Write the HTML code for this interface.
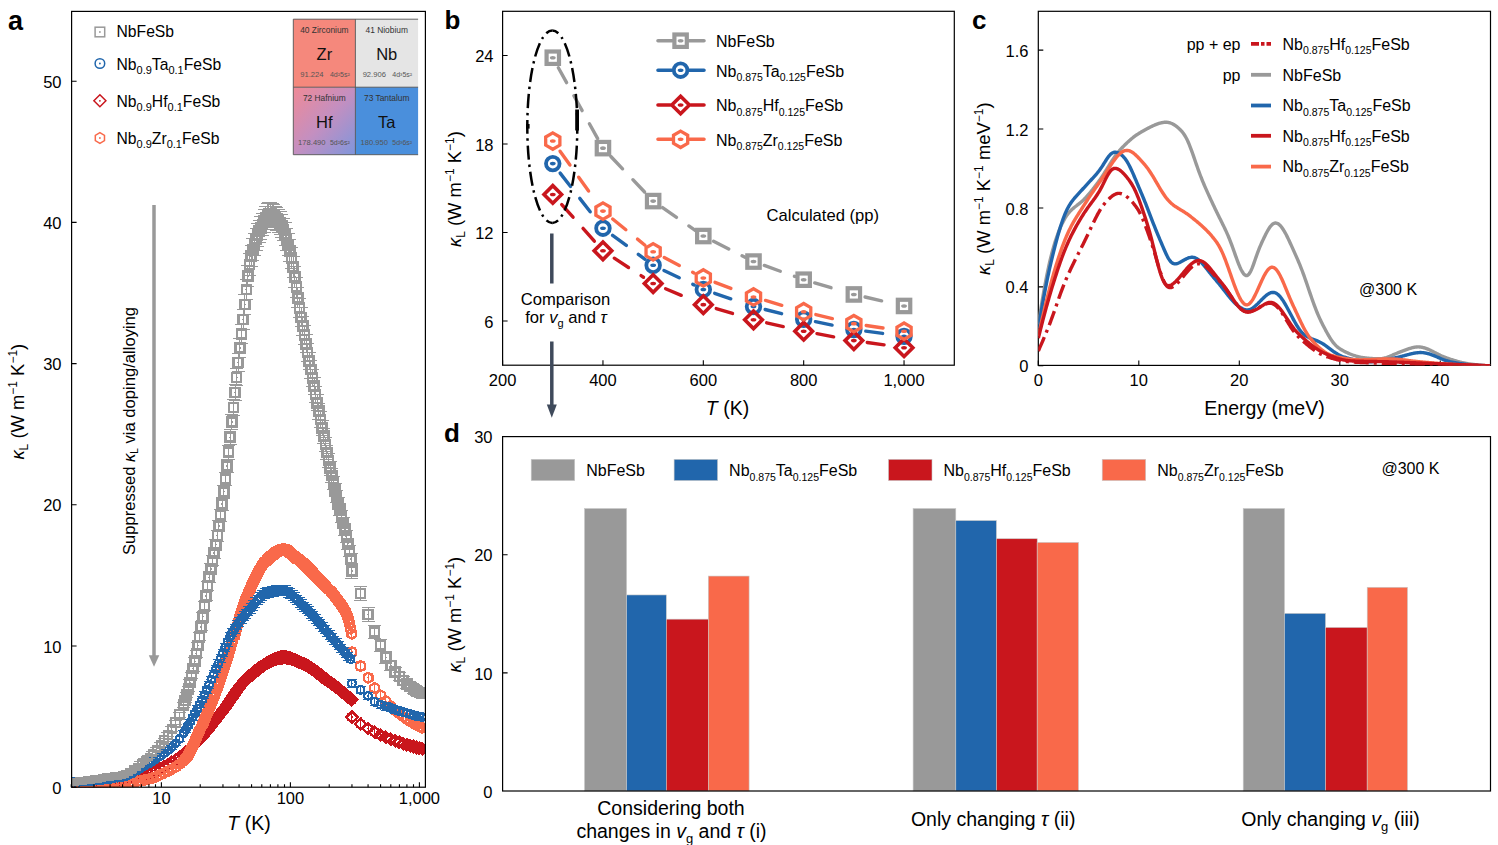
<!DOCTYPE html><html><head><meta charset="utf-8"><style>html,body{margin:0;padding:0;background:#fff;width:1498px;height:845px;overflow:hidden}svg{display:block}</style></head><body><svg width="1498" height="845" viewBox="0 0 1498 845" font-family='"Liberation Sans", sans-serif'>
<rect width="1498" height="845" fill="#fff"/>
<g clip-path="url(#clipA)">
<clipPath id="clipA"><rect x="71.6" y="11.4" width="353.79999999999995" height="775.8000000000001"/></clipPath>
<path d="M71.23 782.1V785.25M66.73 782.1h9M66.73 785.25h9M75.1 782.07V785.22M70.6 782.07h9M70.6 785.22h9M78.97 782V785.16M74.47 782h9M74.47 785.16h9M82.84 781.89V785.05M78.34 781.89h9M78.34 785.05h9M86.71 781.74V784.91M82.21 781.74h9M82.21 784.91h9M90.58 781.55V784.72M86.08 781.55h9M86.08 784.72h9M94.45 781.32V784.5M89.95 781.32h9M89.95 784.5h9M98.32 781.05V784.24M93.82 781.05h9M93.82 784.24h9M102.19 780.74V783.94M97.69 780.74h9M97.69 783.94h9M106.06 780.4V783.62M101.56 780.4h9M101.56 783.62h9M109.93 780.02V783.26M105.43 780.02h9M105.43 783.26h9M113.8 779.61V782.86M109.3 779.61h9M109.3 782.86h9M117.67 779.17V782.44M113.17 779.17h9M113.17 782.44h9M121.54 778.7V781.99M117.04 778.7h9M117.04 781.99h9M125.41 778.2V781.52M120.91 778.2h9M120.91 781.52h9M129.28 777.68V781.01M124.78 777.68h9M124.78 781.01h9M133.15 777.13V780.49M128.65 777.13h9M128.65 780.49h9M137.02 776.42V779.8M132.52 776.42h9M132.52 779.8h9M140.89 775.35V778.78M136.39 775.35h9M136.39 778.78h9M144.76 773.97V777.46M140.26 773.97h9M140.26 777.46h9M148.63 772.36V775.91M144.13 772.36h9M144.13 775.91h9M152.5 770.56V774.19M148 770.56h9M148 774.19h9M156.37 768.65V772.36M151.87 768.65h9M151.87 772.36h9M160.24 766.67V770.46M155.74 766.67h9M155.74 770.46h9M164.11 764.68V768.55M159.61 764.68h9M159.61 768.55h9M167.98 762.52V766.48M163.48 762.52h9M163.48 766.48h9M171.85 760.16V764.23M167.35 760.16h9M167.35 764.23h9M175.72 757.61V761.78M171.22 757.61h9M171.22 761.78h9M179.59 754.87V759.16M175.09 754.87h9M175.09 759.16h9M183.46 751.95V756.35M178.96 751.95h9M178.96 756.35h9M184.49 751.13V755.57M179.99 751.13h9M179.99 755.57h9M185.53 750.31V754.78M181.03 750.31h9M181.03 754.78h9M186.56 749.47V753.98M182.06 749.47h9M182.06 753.98h9M187.59 748.62V753.16M183.09 748.62h9M183.09 753.16h9M188.62 747.75V752.33M184.12 747.75h9M184.12 752.33h9M189.65 746.88V751.49M185.15 746.88h9M185.15 751.49h9M190.69 745.99V750.64M186.19 745.99h9M186.19 750.64h9M191.72 745.08V749.77M187.22 745.08h9M187.22 749.77h9M192.75 744.17V748.9M188.25 744.17h9M188.25 748.9h9M193.78 743.23V748M189.28 743.23h9M189.28 748h9M194.81 742.26V747.07M190.31 742.26h9M190.31 747.07h9M195.85 741.25V746.1M191.35 741.25h9M191.35 746.1h9M196.88 740.21V745.1M192.38 740.21h9M192.38 745.1h9M197.91 739.13V744.06M193.41 739.13h9M193.41 744.06h9M198.94 738.01V743M194.44 738.01h9M194.44 743h9M199.97 736.87V741.9M195.47 736.87h9M195.47 741.9h9M201.01 735.7V740.78M196.51 735.7h9M196.51 740.78h9M202.04 734.5V739.63M197.54 734.5h9M197.54 739.63h9M203.07 733.28V738.46M198.57 733.28h9M198.57 738.46h9M204.1 732.03V737.27M199.6 732.03h9M199.6 737.27h9M205.13 730.77V736.05M200.63 730.77h9M200.63 736.05h9M206.17 729.48V734.82M201.67 729.48h9M201.67 734.82h9M207.2 728.17V733.57M202.7 728.17h9M202.7 733.57h9M208.23 726.85V732.3M203.73 726.85h9M203.73 732.3h9M209.26 725.52V731.02M204.76 725.52h9M204.76 731.02h9M210.29 724.17V729.73M205.79 724.17h9M205.79 729.73h9M211.33 722.81V728.43M206.83 722.81h9M206.83 728.43h9M212.36 721.45V727.12M207.86 721.45h9M207.86 727.12h9M213.39 720.08V725.81M208.89 720.08h9M208.89 725.81h9M214.42 718.7V724.49M209.92 718.7h9M209.92 724.49h9M215.45 717.32V723.16M210.95 717.32h9M210.95 723.16h9M216.49 715.93V721.84M211.99 715.93h9M211.99 721.84h9M217.52 714.55V720.51M213.02 714.55h9M213.02 720.51h9M218.55 713.17V719.19M214.05 713.17h9M214.05 719.19h9M219.58 711.79V717.87M215.08 711.79h9M215.08 717.87h9M220.61 710.42V716.56M216.11 710.42h9M216.11 716.56h9M221.65 709.06V715.25M217.15 709.06h9M217.15 715.25h9M222.68 707.71V713.95M218.18 707.71h9M218.18 713.95h9M223.71 706.36V712.66M219.21 706.36h9M219.21 712.66h9M224.74 705V711.35M220.24 705h9M220.24 711.35h9M225.77 703.58V709.99M221.27 703.58h9M221.27 709.99h9M226.81 702.11V708.59M222.31 702.11h9M222.31 708.59h9M227.84 700.6V707.14M223.34 700.6h9M223.34 707.14h9M228.87 699.06V705.66M224.37 699.06h9M224.37 705.66h9M229.9 697.5V704.17M225.4 697.5h9M225.4 704.17h9M230.93 695.91V702.65M226.43 695.91h9M226.43 702.65h9M231.97 694.32V701.12M227.47 694.32h9M227.47 701.12h9M233 692.73V699.59M228.5 692.73h9M228.5 699.59h9M234.03 691.14V698.07M229.53 691.14h9M229.53 698.07h9M235.06 689.56V696.56M230.56 689.56h9M230.56 696.56h9M236.09 688V695.06M231.59 688h9M231.59 695.06h9M237.13 686.47V693.6M232.63 686.47h9M232.63 693.6h9M238.16 684.97V692.16M233.66 684.97h9M233.66 692.16h9M239.19 683.51V690.76M234.69 683.51h9M234.69 690.76h9M240.22 682.1V689.41M235.72 682.1h9M235.72 689.41h9M241.25 680.75V688.12M236.75 680.75h9M236.75 688.12h9M242.29 679.46V686.88M237.79 679.46h9M237.79 686.88h9M243.32 678.24V685.71M238.82 678.24h9M238.82 685.71h9M244.35 677.1V684.62M239.85 677.1h9M239.85 684.62h9M245.38 676.04V683.61M240.88 676.04h9M240.88 683.61h9M246.41 675.08V682.68M241.91 675.08h9M241.91 682.68h9M247.45 674.2V681.84M242.95 674.2h9M242.95 681.84h9M248.48 673.33V681.01M243.98 673.33h9M243.98 681.01h9M249.51 672.46V680.17M245.01 672.46h9M245.01 680.17h9M250.54 671.59V679.34M246.04 671.59h9M246.04 679.34h9M251.57 670.73V678.51M247.07 670.73h9M247.07 678.51h9M252.61 669.86V677.68M248.11 669.86h9M248.11 677.68h9M253.64 669V676.86M249.14 669h9M249.14 676.86h9M254.67 668.15V676.04M250.17 668.15h9M250.17 676.04h9M255.7 667.3V675.23M251.2 667.3h9M251.2 675.23h9M256.73 666.47V674.43M252.23 666.47h9M252.23 674.43h9M257.77 665.65V673.64M253.27 665.65h9M253.27 673.64h9M258.8 664.83V672.86M254.3 664.83h9M254.3 672.86h9M259.83 664.04V672.1M255.33 664.04h9M255.33 672.1h9M260.86 663.26V671.35M256.36 663.26h9M256.36 671.35h9M261.89 662.49V670.62M257.39 662.49h9M257.39 670.62h9M262.93 661.75V669.9M258.43 661.75h9M258.43 669.9h9M263.96 661.02V669.21M259.46 661.02h9M259.46 669.21h9M264.99 660.32V668.53M260.49 660.32h9M260.49 668.53h9M266.02 659.63V667.88M261.52 659.63h9M261.52 667.88h9M267.05 658.98V667.25M262.55 658.98h9M262.55 667.25h9M268.09 658.35V666.65M263.59 658.35h9M263.59 666.65h9M269.12 657.74V666.07M264.62 657.74h9M264.62 666.07h9M270.15 657.17V665.52M265.65 657.17h9M265.65 665.52h9M271.18 656.63V665M266.68 656.63h9M266.68 665h9M272.21 656.12V664.51M267.71 656.12h9M267.71 664.51h9M273.25 655.64V664.05M268.75 655.64h9M268.75 664.05h9M274.28 655.2V663.63M269.78 655.2h9M269.78 663.63h9M275.31 654.79V663.24M270.81 654.79h9M270.81 663.24h9M276.34 654.42V662.89M271.84 654.42h9M271.84 662.89h9M277.37 654.1V662.57M272.87 654.1h9M272.87 662.57h9M278.41 653.81V662.3M273.91 653.81h9M273.91 662.3h9M279.44 653.57V662.06M274.94 653.57h9M274.94 662.06h9M280.47 653.37V661.87M275.97 653.37h9M275.97 661.87h9M281.5 653.21V661.72M277 653.21h9M277 661.72h9M282.53 653.11V661.62M278.03 653.11h9M278.03 661.62h9M283.57 653.05V661.57M279.07 653.05h9M279.07 661.57h9M284.6 653.04V661.56M280.1 653.04h9M280.1 661.56h9M285.63 653.09V661.61M281.13 653.09h9M281.13 661.61h9M286.66 653.2V661.71M282.16 653.2h9M282.16 661.71h9M287.69 653.36V661.87M283.19 653.36h9M283.19 661.87h9M288.73 653.58V662.08M284.23 653.58h9M284.23 662.08h9M289.76 653.84V662.33M285.26 653.84h9M285.26 662.33h9M290.79 654.14V662.62M286.29 654.14h9M286.29 662.62h9M291.82 654.49V662.95M287.32 654.49h9M287.32 662.95h9M292.85 654.87V663.31M288.35 654.87h9M288.35 663.31h9M293.89 655.28V663.7M289.39 655.28h9M289.39 663.7h9M294.92 655.71V664.12M290.42 655.71h9M290.42 664.12h9M295.95 656.18V664.57M291.45 656.18h9M291.45 664.57h9M296.98 656.66V665.03M292.48 656.66h9M292.48 665.03h9M298.01 657.16V665.51M293.51 657.16h9M293.51 665.51h9M299.05 657.68V666M294.55 657.68h9M294.55 666h9M300.08 658.2V666.5M295.58 658.2h9M295.58 666.5h9M301.11 658.73V667.01M296.61 658.73h9M296.61 667.01h9M302.14 659.26V667.52M297.64 659.26h9M297.64 667.52h9M303.17 659.79V668.03M298.67 659.79h9M298.67 668.03h9M304.21 660.31V668.53M299.71 660.31h9M299.71 668.53h9M305.24 660.83V669.02M300.74 660.83h9M300.74 669.02h9M306.27 661.34V669.51M301.77 661.34h9M301.77 669.51h9M307.3 661.89V670.04M302.8 661.89h9M302.8 670.04h9M308.33 662.47V670.6M303.83 662.47h9M303.83 670.6h9M309.37 663.09V671.19M304.87 663.09h9M304.87 671.19h9M310.4 663.73V671.81M305.9 663.73h9M305.9 671.81h9M311.43 664.4V672.45M306.93 664.4h9M306.93 672.45h9M312.46 665.1V673.12M307.96 665.1h9M307.96 673.12h9M313.49 665.82V673.81M308.99 665.82h9M308.99 673.81h9M314.53 666.56V674.52M310.03 666.56h9M310.03 674.52h9M315.56 667.32V675.25M311.06 667.32h9M311.06 675.25h9M316.59 668.1V675.99M312.09 668.1h9M312.09 675.99h9M317.62 668.89V676.75M313.12 668.89h9M313.12 676.75h9M318.65 669.69V677.52M314.15 669.69h9M314.15 677.52h9M319.69 670.5V678.29M315.19 670.5h9M315.19 678.29h9M320.72 671.32V679.08M316.22 671.32h9M316.22 679.08h9M321.75 672.14V679.87M317.25 672.14h9M317.25 679.87h9M322.78 672.97V680.66M318.28 672.97h9M318.28 680.66h9M323.81 673.8V681.45M319.31 673.8h9M319.31 681.45h9M324.85 674.62V682.25M320.35 674.62h9M320.35 682.25h9M325.88 675.45V683.03M321.38 675.45h9M321.38 683.03h9M326.91 676.26V683.82M322.41 676.26h9M322.41 683.82h9M327.94 677.07V684.59M323.44 677.07h9M323.44 684.59h9M328.97 677.87V685.36M324.47 677.87h9M324.47 685.36h9M330.01 678.66V686.12M325.51 678.66h9M325.51 686.12h9M331.04 679.46V686.88M326.54 679.46h9M326.54 686.88h9M332.07 680.26V687.65M327.57 680.26h9M327.57 687.65h9M333.1 681.07V688.42M328.6 681.07h9M328.6 688.42h9M334.13 681.88V689.2M329.63 681.88h9M329.63 689.2h9M335.17 682.7V689.98M330.67 682.7h9M330.67 689.98h9M336.2 683.52V690.77M331.7 683.52h9M331.7 690.77h9M337.23 684.35V691.56M332.73 684.35h9M332.73 691.56h9M338.26 685.18V692.36M333.76 685.18h9M333.76 692.36h9M339.29 686.01V693.16M334.79 686.01h9M334.79 693.16h9M340.33 686.85V693.97M335.83 686.85h9M335.83 693.97h9M341.36 687.7V694.78M336.86 687.7h9M336.86 694.78h9M342.39 688.55V695.59M337.89 688.55h9M337.89 695.59h9M343.42 689.4V696.41M338.92 689.4h9M338.92 696.41h9M344.45 690.26V697.23M339.95 690.26h9M339.95 697.23h9M345.49 691.12V698.06M340.99 691.12h9M340.99 698.06h9M346.52 691.99V698.89M342.02 691.99h9M342.02 698.89h9M347.55 692.86V699.72M343.05 692.86h9M343.05 699.72h9M348.58 693.74V700.56M344.08 693.74h9M344.08 700.56h9M349.61 694.62V701.41M345.11 694.62h9M345.11 701.41h9M350.65 695.5V702.25M346.15 695.5h9M346.15 702.25h9M351.68 696.39V703.1M347.18 696.39h9M347.18 703.1h9M351.95 713.67V720.66M347.45 713.67h9M347.45 720.66h9M360.58 720.4V727.2M356.08 720.4h9M356.08 727.2h9M368.07 725.2V731.86M363.57 725.2h9M363.57 731.86h9M374.66 728.85V735.41M370.16 728.85h9M370.16 735.41h9M380.57 731.73V738.21M376.07 731.73h9M376.07 738.21h9M385.91 734.09V740.5M381.41 734.09h9M381.41 740.5h9M390.78 736.01V742.37M386.28 736.01h9M386.28 742.37h9M395.27 737.66V743.97M390.77 737.66h9M390.77 743.97h9M399.42 739.13V745.4M394.92 739.13h9M394.92 745.4h9M403.28 740.44V746.68M398.78 740.44h9M398.78 746.68h9M406.9 741.61V747.81M402.4 741.61h9M402.4 747.81h9M410.3 742.65V748.82M405.8 742.65h9M405.8 748.82h9M413.5 743.57V749.72M409 743.57h9M409 749.72h9M416.53 744.39V750.52M412.03 744.39h9M412.03 750.52h9M419.4 745.12V751.22M414.9 745.12h9M414.9 751.22h9M422.13 745.75V751.84M417.63 745.75h9M417.63 751.84h9" stroke="#c9161d" stroke-width="1" fill="none" shape-rendering="crispEdges"/>
<g shape-rendering="crispEdges"><polygon points="71.23,778.07 76.83,783.67 71.23,789.27 65.63,783.67" fill="none" stroke="#c9161d" stroke-width="2.3"/><circle cx="71.23" cy="783.67" r="0.9" fill="#c9161d"/><polygon points="75.1,778.05 80.7,783.65 75.1,789.25 69.5,783.65" fill="none" stroke="#c9161d" stroke-width="2.3"/><circle cx="75.1" cy="783.65" r="0.9" fill="#c9161d"/><polygon points="78.97,777.98 84.57,783.58 78.97,789.18 73.37,783.58" fill="none" stroke="#c9161d" stroke-width="2.3"/><circle cx="78.97" cy="783.58" r="0.9" fill="#c9161d"/><polygon points="82.84,777.87 88.44,783.47 82.84,789.07 77.24,783.47" fill="none" stroke="#c9161d" stroke-width="2.3"/><circle cx="82.84" cy="783.47" r="0.9" fill="#c9161d"/><polygon points="86.71,777.72 92.31,783.32 86.71,788.92 81.11,783.32" fill="none" stroke="#c9161d" stroke-width="2.3"/><circle cx="86.71" cy="783.32" r="0.9" fill="#c9161d"/><polygon points="90.58,777.53 96.18,783.13 90.58,788.73 84.98,783.13" fill="none" stroke="#c9161d" stroke-width="2.3"/><circle cx="90.58" cy="783.13" r="0.9" fill="#c9161d"/><polygon points="94.45,777.31 100.05,782.91 94.45,788.51 88.85,782.91" fill="none" stroke="#c9161d" stroke-width="2.3"/><circle cx="94.45" cy="782.91" r="0.9" fill="#c9161d"/><polygon points="98.32,777.04 103.92,782.64 98.32,788.24 92.72,782.64" fill="none" stroke="#c9161d" stroke-width="2.3"/><circle cx="98.32" cy="782.64" r="0.9" fill="#c9161d"/><polygon points="102.19,776.74 107.79,782.34 102.19,787.94 96.59,782.34" fill="none" stroke="#c9161d" stroke-width="2.3"/><circle cx="102.19" cy="782.34" r="0.9" fill="#c9161d"/><polygon points="106.06,776.41 111.66,782.01 106.06,787.61 100.46,782.01" fill="none" stroke="#c9161d" stroke-width="2.3"/><circle cx="106.06" cy="782.01" r="0.9" fill="#c9161d"/><polygon points="109.93,776.04 115.53,781.64 109.93,787.24 104.33,781.64" fill="none" stroke="#c9161d" stroke-width="2.3"/><circle cx="109.93" cy="781.64" r="0.9" fill="#c9161d"/><polygon points="113.8,775.64 119.4,781.24 113.8,786.84 108.2,781.24" fill="none" stroke="#c9161d" stroke-width="2.3"/><circle cx="113.8" cy="781.24" r="0.9" fill="#c9161d"/><polygon points="117.67,775.21 123.27,780.81 117.67,786.41 112.07,780.81" fill="none" stroke="#c9161d" stroke-width="2.3"/><circle cx="117.67" cy="780.81" r="0.9" fill="#c9161d"/><polygon points="121.54,774.75 127.14,780.35 121.54,785.95 115.94,780.35" fill="none" stroke="#c9161d" stroke-width="2.3"/><circle cx="121.54" cy="780.35" r="0.9" fill="#c9161d"/><polygon points="125.41,774.26 131.01,779.86 125.41,785.46 119.81,779.86" fill="none" stroke="#c9161d" stroke-width="2.3"/><circle cx="125.41" cy="779.86" r="0.9" fill="#c9161d"/><polygon points="129.28,773.75 134.88,779.35 129.28,784.95 123.68,779.35" fill="none" stroke="#c9161d" stroke-width="2.3"/><circle cx="129.28" cy="779.35" r="0.9" fill="#c9161d"/><polygon points="133.15,773.21 138.75,778.81 133.15,784.41 127.55,778.81" fill="none" stroke="#c9161d" stroke-width="2.3"/><circle cx="133.15" cy="778.81" r="0.9" fill="#c9161d"/><polygon points="137.02,772.51 142.62,778.11 137.02,783.71 131.42,778.11" fill="none" stroke="#c9161d" stroke-width="2.3"/><circle cx="137.02" cy="778.11" r="0.9" fill="#c9161d"/><polygon points="140.89,771.46 146.49,777.06 140.89,782.66 135.29,777.06" fill="none" stroke="#c9161d" stroke-width="2.3"/><circle cx="140.89" cy="777.06" r="0.9" fill="#c9161d"/><polygon points="144.76,770.12 150.36,775.72 144.76,781.32 139.16,775.72" fill="none" stroke="#c9161d" stroke-width="2.3"/><circle cx="144.76" cy="775.72" r="0.9" fill="#c9161d"/><polygon points="148.63,768.54 154.23,774.14 148.63,779.74 143.03,774.14" fill="none" stroke="#c9161d" stroke-width="2.3"/><circle cx="148.63" cy="774.14" r="0.9" fill="#c9161d"/><polygon points="152.5,766.78 158.1,772.38 152.5,777.98 146.9,772.38" fill="none" stroke="#c9161d" stroke-width="2.3"/><circle cx="152.5" cy="772.38" r="0.9" fill="#c9161d"/><polygon points="156.37,764.9 161.97,770.5 156.37,776.1 150.77,770.5" fill="none" stroke="#c9161d" stroke-width="2.3"/><circle cx="156.37" cy="770.5" r="0.9" fill="#c9161d"/><polygon points="160.24,762.97 165.84,768.57 160.24,774.17 154.64,768.57" fill="none" stroke="#c9161d" stroke-width="2.3"/><circle cx="160.24" cy="768.57" r="0.9" fill="#c9161d"/><polygon points="164.11,761.01 169.71,766.61 164.11,772.21 158.51,766.61" fill="none" stroke="#c9161d" stroke-width="2.3"/><circle cx="164.11" cy="766.61" r="0.9" fill="#c9161d"/><polygon points="167.98,758.9 173.58,764.5 167.98,770.1 162.38,764.5" fill="none" stroke="#c9161d" stroke-width="2.3"/><circle cx="167.98" cy="764.5" r="0.9" fill="#c9161d"/><polygon points="171.85,756.6 177.45,762.2 171.85,767.8 166.25,762.2" fill="none" stroke="#c9161d" stroke-width="2.3"/><circle cx="171.85" cy="762.2" r="0.9" fill="#c9161d"/><polygon points="175.72,754.1 181.32,759.7 175.72,765.3 170.12,759.7" fill="none" stroke="#c9161d" stroke-width="2.3"/><circle cx="175.72" cy="759.7" r="0.9" fill="#c9161d"/><polygon points="179.59,751.42 185.19,757.02 179.59,762.62 173.99,757.02" fill="none" stroke="#c9161d" stroke-width="2.3"/><circle cx="179.59" cy="757.02" r="0.9" fill="#c9161d"/><polygon points="183.46,748.55 189.06,754.15 183.46,759.75 177.86,754.15" fill="none" stroke="#c9161d" stroke-width="2.3"/><circle cx="183.46" cy="754.15" r="0.9" fill="#c9161d"/><polygon points="184.49,747.75 190.09,753.35 184.49,758.95 178.89,753.35" fill="none" stroke="#c9161d" stroke-width="2.3"/><circle cx="184.49" cy="753.35" r="0.9" fill="#c9161d"/><polygon points="185.53,746.94 191.13,752.54 185.53,758.14 179.93,752.54" fill="none" stroke="#c9161d" stroke-width="2.3"/><circle cx="185.53" cy="752.54" r="0.9" fill="#c9161d"/><polygon points="186.56,746.12 192.16,751.72 186.56,757.32 180.96,751.72" fill="none" stroke="#c9161d" stroke-width="2.3"/><circle cx="186.56" cy="751.72" r="0.9" fill="#c9161d"/><polygon points="187.59,745.29 193.19,750.89 187.59,756.49 181.99,750.89" fill="none" stroke="#c9161d" stroke-width="2.3"/><circle cx="187.59" cy="750.89" r="0.9" fill="#c9161d"/><polygon points="188.62,744.44 194.22,750.04 188.62,755.64 183.02,750.04" fill="none" stroke="#c9161d" stroke-width="2.3"/><circle cx="188.62" cy="750.04" r="0.9" fill="#c9161d"/><polygon points="189.65,743.58 195.25,749.18 189.65,754.78 184.05,749.18" fill="none" stroke="#c9161d" stroke-width="2.3"/><circle cx="189.65" cy="749.18" r="0.9" fill="#c9161d"/><polygon points="190.69,742.71 196.29,748.31 190.69,753.91 185.09,748.31" fill="none" stroke="#c9161d" stroke-width="2.3"/><circle cx="190.69" cy="748.31" r="0.9" fill="#c9161d"/><polygon points="191.72,741.83 197.32,747.43 191.72,753.03 186.12,747.43" fill="none" stroke="#c9161d" stroke-width="2.3"/><circle cx="191.72" cy="747.43" r="0.9" fill="#c9161d"/><polygon points="192.75,740.93 198.35,746.53 192.75,752.13 187.15,746.53" fill="none" stroke="#c9161d" stroke-width="2.3"/><circle cx="192.75" cy="746.53" r="0.9" fill="#c9161d"/><polygon points="193.78,740.02 199.38,745.62 193.78,751.22 188.18,745.62" fill="none" stroke="#c9161d" stroke-width="2.3"/><circle cx="193.78" cy="745.62" r="0.9" fill="#c9161d"/><polygon points="194.81,739.07 200.41,744.67 194.81,750.27 189.21,744.67" fill="none" stroke="#c9161d" stroke-width="2.3"/><circle cx="194.81" cy="744.67" r="0.9" fill="#c9161d"/><polygon points="195.85,738.08 201.45,743.68 195.85,749.28 190.25,743.68" fill="none" stroke="#c9161d" stroke-width="2.3"/><circle cx="195.85" cy="743.68" r="0.9" fill="#c9161d"/><polygon points="196.88,737.05 202.48,742.65 196.88,748.25 191.28,742.65" fill="none" stroke="#c9161d" stroke-width="2.3"/><circle cx="196.88" cy="742.65" r="0.9" fill="#c9161d"/><polygon points="197.91,735.99 203.51,741.59 197.91,747.19 192.31,741.59" fill="none" stroke="#c9161d" stroke-width="2.3"/><circle cx="197.91" cy="741.59" r="0.9" fill="#c9161d"/><polygon points="198.94,734.91 204.54,740.51 198.94,746.11 193.34,740.51" fill="none" stroke="#c9161d" stroke-width="2.3"/><circle cx="198.94" cy="740.51" r="0.9" fill="#c9161d"/><polygon points="199.97,733.79 205.57,739.39 199.97,744.99 194.37,739.39" fill="none" stroke="#c9161d" stroke-width="2.3"/><circle cx="199.97" cy="739.39" r="0.9" fill="#c9161d"/><polygon points="201.01,732.64 206.61,738.24 201.01,743.84 195.41,738.24" fill="none" stroke="#c9161d" stroke-width="2.3"/><circle cx="201.01" cy="738.24" r="0.9" fill="#c9161d"/><polygon points="202.04,731.47 207.64,737.07 202.04,742.67 196.44,737.07" fill="none" stroke="#c9161d" stroke-width="2.3"/><circle cx="202.04" cy="737.07" r="0.9" fill="#c9161d"/><polygon points="203.07,730.27 208.67,735.87 203.07,741.47 197.47,735.87" fill="none" stroke="#c9161d" stroke-width="2.3"/><circle cx="203.07" cy="735.87" r="0.9" fill="#c9161d"/><polygon points="204.1,729.05 209.7,734.65 204.1,740.25 198.5,734.65" fill="none" stroke="#c9161d" stroke-width="2.3"/><circle cx="204.1" cy="734.65" r="0.9" fill="#c9161d"/><polygon points="205.13,727.81 210.73,733.41 205.13,739.01 199.53,733.41" fill="none" stroke="#c9161d" stroke-width="2.3"/><circle cx="205.13" cy="733.41" r="0.9" fill="#c9161d"/><polygon points="206.17,726.55 211.77,732.15 206.17,737.75 200.57,732.15" fill="none" stroke="#c9161d" stroke-width="2.3"/><circle cx="206.17" cy="732.15" r="0.9" fill="#c9161d"/><polygon points="207.2,725.27 212.8,730.87 207.2,736.47 201.6,730.87" fill="none" stroke="#c9161d" stroke-width="2.3"/><circle cx="207.2" cy="730.87" r="0.9" fill="#c9161d"/><polygon points="208.23,723.98 213.83,729.58 208.23,735.18 202.63,729.58" fill="none" stroke="#c9161d" stroke-width="2.3"/><circle cx="208.23" cy="729.58" r="0.9" fill="#c9161d"/><polygon points="209.26,722.67 214.86,728.27 209.26,733.87 203.66,728.27" fill="none" stroke="#c9161d" stroke-width="2.3"/><circle cx="209.26" cy="728.27" r="0.9" fill="#c9161d"/><polygon points="210.29,721.35 215.89,726.95 210.29,732.55 204.69,726.95" fill="none" stroke="#c9161d" stroke-width="2.3"/><circle cx="210.29" cy="726.95" r="0.9" fill="#c9161d"/><polygon points="211.33,720.02 216.93,725.62 211.33,731.22 205.73,725.62" fill="none" stroke="#c9161d" stroke-width="2.3"/><circle cx="211.33" cy="725.62" r="0.9" fill="#c9161d"/><polygon points="212.36,718.68 217.96,724.28 212.36,729.88 206.76,724.28" fill="none" stroke="#c9161d" stroke-width="2.3"/><circle cx="212.36" cy="724.28" r="0.9" fill="#c9161d"/><polygon points="213.39,717.34 218.99,722.94 213.39,728.54 207.79,722.94" fill="none" stroke="#c9161d" stroke-width="2.3"/><circle cx="213.39" cy="722.94" r="0.9" fill="#c9161d"/><polygon points="214.42,715.99 220.02,721.59 214.42,727.19 208.82,721.59" fill="none" stroke="#c9161d" stroke-width="2.3"/><circle cx="214.42" cy="721.59" r="0.9" fill="#c9161d"/><polygon points="215.45,714.64 221.05,720.24 215.45,725.84 209.85,720.24" fill="none" stroke="#c9161d" stroke-width="2.3"/><circle cx="215.45" cy="720.24" r="0.9" fill="#c9161d"/><polygon points="216.49,713.28 222.09,718.88 216.49,724.48 210.89,718.88" fill="none" stroke="#c9161d" stroke-width="2.3"/><circle cx="216.49" cy="718.88" r="0.9" fill="#c9161d"/><polygon points="217.52,711.93 223.12,717.53 217.52,723.13 211.92,717.53" fill="none" stroke="#c9161d" stroke-width="2.3"/><circle cx="217.52" cy="717.53" r="0.9" fill="#c9161d"/><polygon points="218.55,710.58 224.15,716.18 218.55,721.78 212.95,716.18" fill="none" stroke="#c9161d" stroke-width="2.3"/><circle cx="218.55" cy="716.18" r="0.9" fill="#c9161d"/><polygon points="219.58,709.23 225.18,714.83 219.58,720.43 213.98,714.83" fill="none" stroke="#c9161d" stroke-width="2.3"/><circle cx="219.58" cy="714.83" r="0.9" fill="#c9161d"/><polygon points="220.61,707.89 226.21,713.49 220.61,719.09 215.01,713.49" fill="none" stroke="#c9161d" stroke-width="2.3"/><circle cx="220.61" cy="713.49" r="0.9" fill="#c9161d"/><polygon points="221.65,706.55 227.25,712.15 221.65,717.75 216.05,712.15" fill="none" stroke="#c9161d" stroke-width="2.3"/><circle cx="221.65" cy="712.15" r="0.9" fill="#c9161d"/><polygon points="222.68,705.23 228.28,710.83 222.68,716.43 217.08,710.83" fill="none" stroke="#c9161d" stroke-width="2.3"/><circle cx="222.68" cy="710.83" r="0.9" fill="#c9161d"/><polygon points="223.71,703.91 229.31,709.51 223.71,715.11 218.11,709.51" fill="none" stroke="#c9161d" stroke-width="2.3"/><circle cx="223.71" cy="709.51" r="0.9" fill="#c9161d"/><polygon points="224.74,702.58 230.34,708.18 224.74,713.78 219.14,708.18" fill="none" stroke="#c9161d" stroke-width="2.3"/><circle cx="224.74" cy="708.18" r="0.9" fill="#c9161d"/><polygon points="225.77,701.18 231.37,706.78 225.77,712.38 220.17,706.78" fill="none" stroke="#c9161d" stroke-width="2.3"/><circle cx="225.77" cy="706.78" r="0.9" fill="#c9161d"/><polygon points="226.81,699.75 232.41,705.35 226.81,710.95 221.21,705.35" fill="none" stroke="#c9161d" stroke-width="2.3"/><circle cx="226.81" cy="705.35" r="0.9" fill="#c9161d"/><polygon points="227.84,698.27 233.44,703.87 227.84,709.47 222.24,703.87" fill="none" stroke="#c9161d" stroke-width="2.3"/><circle cx="227.84" cy="703.87" r="0.9" fill="#c9161d"/><polygon points="228.87,696.76 234.47,702.36 228.87,707.96 223.27,702.36" fill="none" stroke="#c9161d" stroke-width="2.3"/><circle cx="228.87" cy="702.36" r="0.9" fill="#c9161d"/><polygon points="229.9,695.23 235.5,700.83 229.9,706.43 224.3,700.83" fill="none" stroke="#c9161d" stroke-width="2.3"/><circle cx="229.9" cy="700.83" r="0.9" fill="#c9161d"/><polygon points="230.93,693.68 236.53,699.28 230.93,704.88 225.33,699.28" fill="none" stroke="#c9161d" stroke-width="2.3"/><circle cx="230.93" cy="699.28" r="0.9" fill="#c9161d"/><polygon points="231.97,692.12 237.57,697.72 231.97,703.32 226.37,697.72" fill="none" stroke="#c9161d" stroke-width="2.3"/><circle cx="231.97" cy="697.72" r="0.9" fill="#c9161d"/><polygon points="233,690.56 238.6,696.16 233,701.76 227.4,696.16" fill="none" stroke="#c9161d" stroke-width="2.3"/><circle cx="233" cy="696.16" r="0.9" fill="#c9161d"/><polygon points="234.03,689 239.63,694.6 234.03,700.2 228.43,694.6" fill="none" stroke="#c9161d" stroke-width="2.3"/><circle cx="234.03" cy="694.6" r="0.9" fill="#c9161d"/><polygon points="235.06,687.46 240.66,693.06 235.06,698.66 229.46,693.06" fill="none" stroke="#c9161d" stroke-width="2.3"/><circle cx="235.06" cy="693.06" r="0.9" fill="#c9161d"/><polygon points="236.09,685.93 241.69,691.53 236.09,697.13 230.49,691.53" fill="none" stroke="#c9161d" stroke-width="2.3"/><circle cx="236.09" cy="691.53" r="0.9" fill="#c9161d"/><polygon points="237.13,684.43 242.73,690.03 237.13,695.63 231.53,690.03" fill="none" stroke="#c9161d" stroke-width="2.3"/><circle cx="237.13" cy="690.03" r="0.9" fill="#c9161d"/><polygon points="238.16,682.96 243.76,688.56 238.16,694.16 232.56,688.56" fill="none" stroke="#c9161d" stroke-width="2.3"/><circle cx="238.16" cy="688.56" r="0.9" fill="#c9161d"/><polygon points="239.19,681.54 244.79,687.14 239.19,692.74 233.59,687.14" fill="none" stroke="#c9161d" stroke-width="2.3"/><circle cx="239.19" cy="687.14" r="0.9" fill="#c9161d"/><polygon points="240.22,680.16 245.82,685.76 240.22,691.36 234.62,685.76" fill="none" stroke="#c9161d" stroke-width="2.3"/><circle cx="240.22" cy="685.76" r="0.9" fill="#c9161d"/><polygon points="241.25,678.83 246.85,684.43 241.25,690.03 235.65,684.43" fill="none" stroke="#c9161d" stroke-width="2.3"/><circle cx="241.25" cy="684.43" r="0.9" fill="#c9161d"/><polygon points="242.29,677.57 247.89,683.17 242.29,688.77 236.69,683.17" fill="none" stroke="#c9161d" stroke-width="2.3"/><circle cx="242.29" cy="683.17" r="0.9" fill="#c9161d"/><polygon points="243.32,676.38 248.92,681.98 243.32,687.58 237.72,681.98" fill="none" stroke="#c9161d" stroke-width="2.3"/><circle cx="243.32" cy="681.98" r="0.9" fill="#c9161d"/><polygon points="244.35,675.26 249.95,680.86 244.35,686.46 238.75,680.86" fill="none" stroke="#c9161d" stroke-width="2.3"/><circle cx="244.35" cy="680.86" r="0.9" fill="#c9161d"/><polygon points="245.38,674.23 250.98,679.83 245.38,685.43 239.78,679.83" fill="none" stroke="#c9161d" stroke-width="2.3"/><circle cx="245.38" cy="679.83" r="0.9" fill="#c9161d"/><polygon points="246.41,673.28 252.01,678.88 246.41,684.48 240.81,678.88" fill="none" stroke="#c9161d" stroke-width="2.3"/><circle cx="246.41" cy="678.88" r="0.9" fill="#c9161d"/><polygon points="247.45,672.42 253.05,678.02 247.45,683.62 241.85,678.02" fill="none" stroke="#c9161d" stroke-width="2.3"/><circle cx="247.45" cy="678.02" r="0.9" fill="#c9161d"/><polygon points="248.48,671.57 254.08,677.17 248.48,682.77 242.88,677.17" fill="none" stroke="#c9161d" stroke-width="2.3"/><circle cx="248.48" cy="677.17" r="0.9" fill="#c9161d"/><polygon points="249.51,670.72 255.11,676.32 249.51,681.92 243.91,676.32" fill="none" stroke="#c9161d" stroke-width="2.3"/><circle cx="249.51" cy="676.32" r="0.9" fill="#c9161d"/><polygon points="250.54,669.87 256.14,675.47 250.54,681.07 244.94,675.47" fill="none" stroke="#c9161d" stroke-width="2.3"/><circle cx="250.54" cy="675.47" r="0.9" fill="#c9161d"/><polygon points="251.57,669.02 257.17,674.62 251.57,680.22 245.97,674.62" fill="none" stroke="#c9161d" stroke-width="2.3"/><circle cx="251.57" cy="674.62" r="0.9" fill="#c9161d"/><polygon points="252.61,668.17 258.21,673.77 252.61,679.37 247.01,673.77" fill="none" stroke="#c9161d" stroke-width="2.3"/><circle cx="252.61" cy="673.77" r="0.9" fill="#c9161d"/><polygon points="253.64,667.33 259.24,672.93 253.64,678.53 248.04,672.93" fill="none" stroke="#c9161d" stroke-width="2.3"/><circle cx="253.64" cy="672.93" r="0.9" fill="#c9161d"/><polygon points="254.67,666.49 260.27,672.09 254.67,677.69 249.07,672.09" fill="none" stroke="#c9161d" stroke-width="2.3"/><circle cx="254.67" cy="672.09" r="0.9" fill="#c9161d"/><polygon points="255.7,665.67 261.3,671.27 255.7,676.87 250.1,671.27" fill="none" stroke="#c9161d" stroke-width="2.3"/><circle cx="255.7" cy="671.27" r="0.9" fill="#c9161d"/><polygon points="256.73,664.85 262.33,670.45 256.73,676.05 251.13,670.45" fill="none" stroke="#c9161d" stroke-width="2.3"/><circle cx="256.73" cy="670.45" r="0.9" fill="#c9161d"/><polygon points="257.77,664.04 263.37,669.64 257.77,675.24 252.17,669.64" fill="none" stroke="#c9161d" stroke-width="2.3"/><circle cx="257.77" cy="669.64" r="0.9" fill="#c9161d"/><polygon points="258.8,663.25 264.4,668.85 258.8,674.45 253.2,668.85" fill="none" stroke="#c9161d" stroke-width="2.3"/><circle cx="258.8" cy="668.85" r="0.9" fill="#c9161d"/><polygon points="259.83,662.47 265.43,668.07 259.83,673.67 254.23,668.07" fill="none" stroke="#c9161d" stroke-width="2.3"/><circle cx="259.83" cy="668.07" r="0.9" fill="#c9161d"/><polygon points="260.86,661.7 266.46,667.3 260.86,672.9 255.26,667.3" fill="none" stroke="#c9161d" stroke-width="2.3"/><circle cx="260.86" cy="667.3" r="0.9" fill="#c9161d"/><polygon points="261.89,660.95 267.49,666.55 261.89,672.15 256.29,666.55" fill="none" stroke="#c9161d" stroke-width="2.3"/><circle cx="261.89" cy="666.55" r="0.9" fill="#c9161d"/><polygon points="262.93,660.22 268.53,665.82 262.93,671.42 257.33,665.82" fill="none" stroke="#c9161d" stroke-width="2.3"/><circle cx="262.93" cy="665.82" r="0.9" fill="#c9161d"/><polygon points="263.96,659.51 269.56,665.11 263.96,670.71 258.36,665.11" fill="none" stroke="#c9161d" stroke-width="2.3"/><circle cx="263.96" cy="665.11" r="0.9" fill="#c9161d"/><polygon points="264.99,658.82 270.59,664.42 264.99,670.02 259.39,664.42" fill="none" stroke="#c9161d" stroke-width="2.3"/><circle cx="264.99" cy="664.42" r="0.9" fill="#c9161d"/><polygon points="266.02,658.16 271.62,663.76 266.02,669.36 260.42,663.76" fill="none" stroke="#c9161d" stroke-width="2.3"/><circle cx="266.02" cy="663.76" r="0.9" fill="#c9161d"/><polygon points="267.05,657.51 272.65,663.11 267.05,668.71 261.45,663.11" fill="none" stroke="#c9161d" stroke-width="2.3"/><circle cx="267.05" cy="663.11" r="0.9" fill="#c9161d"/><polygon points="268.09,656.9 273.69,662.5 268.09,668.1 262.49,662.5" fill="none" stroke="#c9161d" stroke-width="2.3"/><circle cx="268.09" cy="662.5" r="0.9" fill="#c9161d"/><polygon points="269.12,656.31 274.72,661.91 269.12,667.51 263.52,661.91" fill="none" stroke="#c9161d" stroke-width="2.3"/><circle cx="269.12" cy="661.91" r="0.9" fill="#c9161d"/><polygon points="270.15,655.74 275.75,661.34 270.15,666.94 264.55,661.34" fill="none" stroke="#c9161d" stroke-width="2.3"/><circle cx="270.15" cy="661.34" r="0.9" fill="#c9161d"/><polygon points="271.18,655.21 276.78,660.81 271.18,666.41 265.58,660.81" fill="none" stroke="#c9161d" stroke-width="2.3"/><circle cx="271.18" cy="660.81" r="0.9" fill="#c9161d"/><polygon points="272.21,654.71 277.81,660.31 272.21,665.91 266.61,660.31" fill="none" stroke="#c9161d" stroke-width="2.3"/><circle cx="272.21" cy="660.31" r="0.9" fill="#c9161d"/><polygon points="273.25,654.25 278.85,659.85 273.25,665.45 267.65,659.85" fill="none" stroke="#c9161d" stroke-width="2.3"/><circle cx="273.25" cy="659.85" r="0.9" fill="#c9161d"/><polygon points="274.28,653.81 279.88,659.41 274.28,665.01 268.68,659.41" fill="none" stroke="#c9161d" stroke-width="2.3"/><circle cx="274.28" cy="659.41" r="0.9" fill="#c9161d"/><polygon points="275.31,653.42 280.91,659.02 275.31,664.62 269.71,659.02" fill="none" stroke="#c9161d" stroke-width="2.3"/><circle cx="275.31" cy="659.02" r="0.9" fill="#c9161d"/><polygon points="276.34,653.06 281.94,658.66 276.34,664.26 270.74,658.66" fill="none" stroke="#c9161d" stroke-width="2.3"/><circle cx="276.34" cy="658.66" r="0.9" fill="#c9161d"/><polygon points="277.37,652.73 282.97,658.33 277.37,663.93 271.77,658.33" fill="none" stroke="#c9161d" stroke-width="2.3"/><circle cx="277.37" cy="658.33" r="0.9" fill="#c9161d"/><polygon points="278.41,652.45 284.01,658.05 278.41,663.65 272.81,658.05" fill="none" stroke="#c9161d" stroke-width="2.3"/><circle cx="278.41" cy="658.05" r="0.9" fill="#c9161d"/><polygon points="279.44,652.22 285.04,657.82 279.44,663.42 273.84,657.82" fill="none" stroke="#c9161d" stroke-width="2.3"/><circle cx="279.44" cy="657.82" r="0.9" fill="#c9161d"/><polygon points="280.47,652.02 286.07,657.62 280.47,663.22 274.87,657.62" fill="none" stroke="#c9161d" stroke-width="2.3"/><circle cx="280.47" cy="657.62" r="0.9" fill="#c9161d"/><polygon points="281.5,651.87 287.1,657.47 281.5,663.07 275.9,657.47" fill="none" stroke="#c9161d" stroke-width="2.3"/><circle cx="281.5" cy="657.47" r="0.9" fill="#c9161d"/><polygon points="282.53,651.76 288.13,657.36 282.53,662.96 276.93,657.36" fill="none" stroke="#c9161d" stroke-width="2.3"/><circle cx="282.53" cy="657.36" r="0.9" fill="#c9161d"/><polygon points="283.57,651.71 289.17,657.31 283.57,662.91 277.97,657.31" fill="none" stroke="#c9161d" stroke-width="2.3"/><circle cx="283.57" cy="657.31" r="0.9" fill="#c9161d"/><polygon points="284.6,651.7 290.2,657.3 284.6,662.9 279,657.3" fill="none" stroke="#c9161d" stroke-width="2.3"/><circle cx="284.6" cy="657.3" r="0.9" fill="#c9161d"/><polygon points="285.63,651.75 291.23,657.35 285.63,662.95 280.03,657.35" fill="none" stroke="#c9161d" stroke-width="2.3"/><circle cx="285.63" cy="657.35" r="0.9" fill="#c9161d"/><polygon points="286.66,651.86 292.26,657.46 286.66,663.06 281.06,657.46" fill="none" stroke="#c9161d" stroke-width="2.3"/><circle cx="286.66" cy="657.46" r="0.9" fill="#c9161d"/><polygon points="287.69,652.02 293.29,657.62 287.69,663.22 282.09,657.62" fill="none" stroke="#c9161d" stroke-width="2.3"/><circle cx="287.69" cy="657.62" r="0.9" fill="#c9161d"/><polygon points="288.73,652.23 294.33,657.83 288.73,663.43 283.13,657.83" fill="none" stroke="#c9161d" stroke-width="2.3"/><circle cx="288.73" cy="657.83" r="0.9" fill="#c9161d"/><polygon points="289.76,652.48 295.36,658.08 289.76,663.68 284.16,658.08" fill="none" stroke="#c9161d" stroke-width="2.3"/><circle cx="289.76" cy="658.08" r="0.9" fill="#c9161d"/><polygon points="290.79,652.78 296.39,658.38 290.79,663.98 285.19,658.38" fill="none" stroke="#c9161d" stroke-width="2.3"/><circle cx="290.79" cy="658.38" r="0.9" fill="#c9161d"/><polygon points="291.82,653.12 297.42,658.72 291.82,664.32 286.22,658.72" fill="none" stroke="#c9161d" stroke-width="2.3"/><circle cx="291.82" cy="658.72" r="0.9" fill="#c9161d"/><polygon points="292.85,653.49 298.45,659.09 292.85,664.69 287.25,659.09" fill="none" stroke="#c9161d" stroke-width="2.3"/><circle cx="292.85" cy="659.09" r="0.9" fill="#c9161d"/><polygon points="293.89,653.89 299.49,659.49 293.89,665.09 288.29,659.49" fill="none" stroke="#c9161d" stroke-width="2.3"/><circle cx="293.89" cy="659.49" r="0.9" fill="#c9161d"/><polygon points="294.92,654.32 300.52,659.92 294.92,665.52 289.32,659.92" fill="none" stroke="#c9161d" stroke-width="2.3"/><circle cx="294.92" cy="659.92" r="0.9" fill="#c9161d"/><polygon points="295.95,654.77 301.55,660.37 295.95,665.97 290.35,660.37" fill="none" stroke="#c9161d" stroke-width="2.3"/><circle cx="295.95" cy="660.37" r="0.9" fill="#c9161d"/><polygon points="296.98,655.25 302.58,660.85 296.98,666.45 291.38,660.85" fill="none" stroke="#c9161d" stroke-width="2.3"/><circle cx="296.98" cy="660.85" r="0.9" fill="#c9161d"/><polygon points="298.01,655.74 303.61,661.34 298.01,666.94 292.41,661.34" fill="none" stroke="#c9161d" stroke-width="2.3"/><circle cx="298.01" cy="661.34" r="0.9" fill="#c9161d"/><polygon points="299.05,656.24 304.65,661.84 299.05,667.44 293.45,661.84" fill="none" stroke="#c9161d" stroke-width="2.3"/><circle cx="299.05" cy="661.84" r="0.9" fill="#c9161d"/><polygon points="300.08,656.75 305.68,662.35 300.08,667.95 294.48,662.35" fill="none" stroke="#c9161d" stroke-width="2.3"/><circle cx="300.08" cy="662.35" r="0.9" fill="#c9161d"/><polygon points="301.11,657.27 306.71,662.87 301.11,668.47 295.51,662.87" fill="none" stroke="#c9161d" stroke-width="2.3"/><circle cx="301.11" cy="662.87" r="0.9" fill="#c9161d"/><polygon points="302.14,657.79 307.74,663.39 302.14,668.99 296.54,663.39" fill="none" stroke="#c9161d" stroke-width="2.3"/><circle cx="302.14" cy="663.39" r="0.9" fill="#c9161d"/><polygon points="303.17,658.31 308.77,663.91 303.17,669.51 297.57,663.91" fill="none" stroke="#c9161d" stroke-width="2.3"/><circle cx="303.17" cy="663.91" r="0.9" fill="#c9161d"/><polygon points="304.21,658.82 309.81,664.42 304.21,670.02 298.61,664.42" fill="none" stroke="#c9161d" stroke-width="2.3"/><circle cx="304.21" cy="664.42" r="0.9" fill="#c9161d"/><polygon points="305.24,659.32 310.84,664.92 305.24,670.52 299.64,664.92" fill="none" stroke="#c9161d" stroke-width="2.3"/><circle cx="305.24" cy="664.92" r="0.9" fill="#c9161d"/><polygon points="306.27,659.83 311.87,665.43 306.27,671.03 300.67,665.43" fill="none" stroke="#c9161d" stroke-width="2.3"/><circle cx="306.27" cy="665.43" r="0.9" fill="#c9161d"/><polygon points="307.3,660.36 312.9,665.96 307.3,671.56 301.7,665.96" fill="none" stroke="#c9161d" stroke-width="2.3"/><circle cx="307.3" cy="665.96" r="0.9" fill="#c9161d"/><polygon points="308.33,660.94 313.93,666.54 308.33,672.14 302.73,666.54" fill="none" stroke="#c9161d" stroke-width="2.3"/><circle cx="308.33" cy="666.54" r="0.9" fill="#c9161d"/><polygon points="309.37,661.54 314.97,667.14 309.37,672.74 303.77,667.14" fill="none" stroke="#c9161d" stroke-width="2.3"/><circle cx="309.37" cy="667.14" r="0.9" fill="#c9161d"/><polygon points="310.4,662.17 316,667.77 310.4,673.37 304.8,667.77" fill="none" stroke="#c9161d" stroke-width="2.3"/><circle cx="310.4" cy="667.77" r="0.9" fill="#c9161d"/><polygon points="311.43,662.83 317.03,668.43 311.43,674.03 305.83,668.43" fill="none" stroke="#c9161d" stroke-width="2.3"/><circle cx="311.43" cy="668.43" r="0.9" fill="#c9161d"/><polygon points="312.46,663.51 318.06,669.11 312.46,674.71 306.86,669.11" fill="none" stroke="#c9161d" stroke-width="2.3"/><circle cx="312.46" cy="669.11" r="0.9" fill="#c9161d"/><polygon points="313.49,664.21 319.09,669.81 313.49,675.41 307.89,669.81" fill="none" stroke="#c9161d" stroke-width="2.3"/><circle cx="313.49" cy="669.81" r="0.9" fill="#c9161d"/><polygon points="314.53,664.94 320.13,670.54 314.53,676.14 308.93,670.54" fill="none" stroke="#c9161d" stroke-width="2.3"/><circle cx="314.53" cy="670.54" r="0.9" fill="#c9161d"/><polygon points="315.56,665.68 321.16,671.28 315.56,676.88 309.96,671.28" fill="none" stroke="#c9161d" stroke-width="2.3"/><circle cx="315.56" cy="671.28" r="0.9" fill="#c9161d"/><polygon points="316.59,666.44 322.19,672.04 316.59,677.64 310.99,672.04" fill="none" stroke="#c9161d" stroke-width="2.3"/><circle cx="316.59" cy="672.04" r="0.9" fill="#c9161d"/><polygon points="317.62,667.22 323.22,672.82 317.62,678.42 312.02,672.82" fill="none" stroke="#c9161d" stroke-width="2.3"/><circle cx="317.62" cy="672.82" r="0.9" fill="#c9161d"/><polygon points="318.65,668 324.25,673.6 318.65,679.2 313.05,673.6" fill="none" stroke="#c9161d" stroke-width="2.3"/><circle cx="318.65" cy="673.6" r="0.9" fill="#c9161d"/><polygon points="319.69,668.8 325.29,674.4 319.69,680 314.09,674.4" fill="none" stroke="#c9161d" stroke-width="2.3"/><circle cx="319.69" cy="674.4" r="0.9" fill="#c9161d"/><polygon points="320.72,669.6 326.32,675.2 320.72,680.8 315.12,675.2" fill="none" stroke="#c9161d" stroke-width="2.3"/><circle cx="320.72" cy="675.2" r="0.9" fill="#c9161d"/><polygon points="321.75,670.41 327.35,676.01 321.75,681.61 316.15,676.01" fill="none" stroke="#c9161d" stroke-width="2.3"/><circle cx="321.75" cy="676.01" r="0.9" fill="#c9161d"/><polygon points="322.78,671.22 328.38,676.82 322.78,682.42 317.18,676.82" fill="none" stroke="#c9161d" stroke-width="2.3"/><circle cx="322.78" cy="676.82" r="0.9" fill="#c9161d"/><polygon points="323.81,672.03 329.41,677.63 323.81,683.23 318.21,677.63" fill="none" stroke="#c9161d" stroke-width="2.3"/><circle cx="323.81" cy="677.63" r="0.9" fill="#c9161d"/><polygon points="324.85,672.84 330.45,678.44 324.85,684.04 319.25,678.44" fill="none" stroke="#c9161d" stroke-width="2.3"/><circle cx="324.85" cy="678.44" r="0.9" fill="#c9161d"/><polygon points="325.88,673.64 331.48,679.24 325.88,684.84 320.28,679.24" fill="none" stroke="#c9161d" stroke-width="2.3"/><circle cx="325.88" cy="679.24" r="0.9" fill="#c9161d"/><polygon points="326.91,674.44 332.51,680.04 326.91,685.64 321.31,680.04" fill="none" stroke="#c9161d" stroke-width="2.3"/><circle cx="326.91" cy="680.04" r="0.9" fill="#c9161d"/><polygon points="327.94,675.23 333.54,680.83 327.94,686.43 322.34,680.83" fill="none" stroke="#c9161d" stroke-width="2.3"/><circle cx="327.94" cy="680.83" r="0.9" fill="#c9161d"/><polygon points="328.97,676.01 334.57,681.61 328.97,687.21 323.37,681.61" fill="none" stroke="#c9161d" stroke-width="2.3"/><circle cx="328.97" cy="681.61" r="0.9" fill="#c9161d"/><polygon points="330.01,676.79 335.61,682.39 330.01,687.99 324.41,682.39" fill="none" stroke="#c9161d" stroke-width="2.3"/><circle cx="330.01" cy="682.39" r="0.9" fill="#c9161d"/><polygon points="331.04,677.57 336.64,683.17 331.04,688.77 325.44,683.17" fill="none" stroke="#c9161d" stroke-width="2.3"/><circle cx="331.04" cy="683.17" r="0.9" fill="#c9161d"/><polygon points="332.07,678.36 337.67,683.96 332.07,689.56 326.47,683.96" fill="none" stroke="#c9161d" stroke-width="2.3"/><circle cx="332.07" cy="683.96" r="0.9" fill="#c9161d"/><polygon points="333.1,679.15 338.7,684.75 333.1,690.35 327.5,684.75" fill="none" stroke="#c9161d" stroke-width="2.3"/><circle cx="333.1" cy="684.75" r="0.9" fill="#c9161d"/><polygon points="334.13,679.94 339.73,685.54 334.13,691.14 328.53,685.54" fill="none" stroke="#c9161d" stroke-width="2.3"/><circle cx="334.13" cy="685.54" r="0.9" fill="#c9161d"/><polygon points="335.17,680.74 340.77,686.34 335.17,691.94 329.57,686.34" fill="none" stroke="#c9161d" stroke-width="2.3"/><circle cx="335.17" cy="686.34" r="0.9" fill="#c9161d"/><polygon points="336.2,681.55 341.8,687.15 336.2,692.75 330.6,687.15" fill="none" stroke="#c9161d" stroke-width="2.3"/><circle cx="336.2" cy="687.15" r="0.9" fill="#c9161d"/><polygon points="337.23,682.36 342.83,687.96 337.23,693.56 331.63,687.96" fill="none" stroke="#c9161d" stroke-width="2.3"/><circle cx="337.23" cy="687.96" r="0.9" fill="#c9161d"/><polygon points="338.26,683.17 343.86,688.77 338.26,694.37 332.66,688.77" fill="none" stroke="#c9161d" stroke-width="2.3"/><circle cx="338.26" cy="688.77" r="0.9" fill="#c9161d"/><polygon points="339.29,683.99 344.89,689.59 339.29,695.19 333.69,689.59" fill="none" stroke="#c9161d" stroke-width="2.3"/><circle cx="339.29" cy="689.59" r="0.9" fill="#c9161d"/><polygon points="340.33,684.81 345.93,690.41 340.33,696.01 334.73,690.41" fill="none" stroke="#c9161d" stroke-width="2.3"/><circle cx="340.33" cy="690.41" r="0.9" fill="#c9161d"/><polygon points="341.36,685.64 346.96,691.24 341.36,696.84 335.76,691.24" fill="none" stroke="#c9161d" stroke-width="2.3"/><circle cx="341.36" cy="691.24" r="0.9" fill="#c9161d"/><polygon points="342.39,686.47 347.99,692.07 342.39,697.67 336.79,692.07" fill="none" stroke="#c9161d" stroke-width="2.3"/><circle cx="342.39" cy="692.07" r="0.9" fill="#c9161d"/><polygon points="343.42,687.31 349.02,692.91 343.42,698.51 337.82,692.91" fill="none" stroke="#c9161d" stroke-width="2.3"/><circle cx="343.42" cy="692.91" r="0.9" fill="#c9161d"/><polygon points="344.45,688.15 350.05,693.75 344.45,699.35 338.85,693.75" fill="none" stroke="#c9161d" stroke-width="2.3"/><circle cx="344.45" cy="693.75" r="0.9" fill="#c9161d"/><polygon points="345.49,688.99 351.09,694.59 345.49,700.19 339.89,694.59" fill="none" stroke="#c9161d" stroke-width="2.3"/><circle cx="345.49" cy="694.59" r="0.9" fill="#c9161d"/><polygon points="346.52,689.84 352.12,695.44 346.52,701.04 340.92,695.44" fill="none" stroke="#c9161d" stroke-width="2.3"/><circle cx="346.52" cy="695.44" r="0.9" fill="#c9161d"/><polygon points="347.55,690.69 353.15,696.29 347.55,701.89 341.95,696.29" fill="none" stroke="#c9161d" stroke-width="2.3"/><circle cx="347.55" cy="696.29" r="0.9" fill="#c9161d"/><polygon points="348.58,691.55 354.18,697.15 348.58,702.75 342.98,697.15" fill="none" stroke="#c9161d" stroke-width="2.3"/><circle cx="348.58" cy="697.15" r="0.9" fill="#c9161d"/><polygon points="349.61,692.41 355.21,698.01 349.61,703.61 344.01,698.01" fill="none" stroke="#c9161d" stroke-width="2.3"/><circle cx="349.61" cy="698.01" r="0.9" fill="#c9161d"/><polygon points="350.65,693.28 356.25,698.88 350.65,704.48 345.05,698.88" fill="none" stroke="#c9161d" stroke-width="2.3"/><circle cx="350.65" cy="698.88" r="0.9" fill="#c9161d"/><polygon points="351.68,694.14 357.28,699.74 351.68,705.34 346.08,699.74" fill="none" stroke="#c9161d" stroke-width="2.3"/><circle cx="351.68" cy="699.74" r="0.9" fill="#c9161d"/><polygon points="351.95,711.56 357.55,717.16 351.95,722.76 346.35,717.16" fill="none" stroke="#c9161d" stroke-width="2.3"/><circle cx="351.95" cy="717.16" r="0.9" fill="#c9161d"/><polygon points="360.58,718.2 366.18,723.8 360.58,729.4 354.98,723.8" fill="none" stroke="#c9161d" stroke-width="2.3"/><circle cx="360.58" cy="723.8" r="0.9" fill="#c9161d"/><polygon points="368.07,722.93 373.67,728.53 368.07,734.13 362.47,728.53" fill="none" stroke="#c9161d" stroke-width="2.3"/><circle cx="368.07" cy="728.53" r="0.9" fill="#c9161d"/><polygon points="374.66,726.53 380.26,732.13 374.66,737.73 369.06,732.13" fill="none" stroke="#c9161d" stroke-width="2.3"/><circle cx="374.66" cy="732.13" r="0.9" fill="#c9161d"/><polygon points="380.57,729.37 386.17,734.97 380.57,740.57 374.97,734.97" fill="none" stroke="#c9161d" stroke-width="2.3"/><circle cx="380.57" cy="734.97" r="0.9" fill="#c9161d"/><polygon points="385.91,731.69 391.51,737.29 385.91,742.89 380.31,737.29" fill="none" stroke="#c9161d" stroke-width="2.3"/><circle cx="385.91" cy="737.29" r="0.9" fill="#c9161d"/><polygon points="390.78,733.59 396.38,739.19 390.78,744.79 385.18,739.19" fill="none" stroke="#c9161d" stroke-width="2.3"/><circle cx="390.78" cy="739.19" r="0.9" fill="#c9161d"/><polygon points="395.27,735.21 400.87,740.81 395.27,746.41 389.67,740.81" fill="none" stroke="#c9161d" stroke-width="2.3"/><circle cx="395.27" cy="740.81" r="0.9" fill="#c9161d"/><polygon points="399.42,736.66 405.02,742.26 399.42,747.86 393.82,742.26" fill="none" stroke="#c9161d" stroke-width="2.3"/><circle cx="399.42" cy="742.26" r="0.9" fill="#c9161d"/><polygon points="403.28,737.96 408.88,743.56 403.28,749.16 397.68,743.56" fill="none" stroke="#c9161d" stroke-width="2.3"/><circle cx="403.28" cy="743.56" r="0.9" fill="#c9161d"/><polygon points="406.9,739.11 412.5,744.71 406.9,750.31 401.3,744.71" fill="none" stroke="#c9161d" stroke-width="2.3"/><circle cx="406.9" cy="744.71" r="0.9" fill="#c9161d"/><polygon points="410.3,740.14 415.9,745.74 410.3,751.34 404.7,745.74" fill="none" stroke="#c9161d" stroke-width="2.3"/><circle cx="410.3" cy="745.74" r="0.9" fill="#c9161d"/><polygon points="413.5,741.05 419.1,746.65 413.5,752.25 407.9,746.65" fill="none" stroke="#c9161d" stroke-width="2.3"/><circle cx="413.5" cy="746.65" r="0.9" fill="#c9161d"/><polygon points="416.53,741.86 422.13,747.46 416.53,753.06 410.93,747.46" fill="none" stroke="#c9161d" stroke-width="2.3"/><circle cx="416.53" cy="747.46" r="0.9" fill="#c9161d"/><polygon points="419.4,742.57 425,748.17 419.4,753.77 413.8,748.17" fill="none" stroke="#c9161d" stroke-width="2.3"/><circle cx="419.4" cy="748.17" r="0.9" fill="#c9161d"/><polygon points="422.13,743.19 427.73,748.79 422.13,754.39 416.53,748.79" fill="none" stroke="#c9161d" stroke-width="2.3"/><circle cx="422.13" cy="748.79" r="0.9" fill="#c9161d"/></g>
<path d="M71.23 783.98V787.03M66.73 783.98h9M66.73 787.03h9M75.1 783.92V786.97M70.6 783.92h9M70.6 786.97h9M78.97 783.83V786.89M74.47 783.83h9M74.47 786.89h9M82.84 783.72V786.77M78.34 783.72h9M78.34 786.77h9M86.71 783.57V786.63M82.21 783.57h9M82.21 786.63h9M90.58 783.41V786.47M86.08 783.41h9M86.08 786.47h9M94.45 783.23V786.3M89.95 783.23h9M89.95 786.3h9M98.32 783.03V786.11M93.82 783.03h9M93.82 786.11h9M102.19 782.83V785.91M97.69 782.83h9M97.69 785.91h9M106.06 782.62V785.7M101.56 782.62h9M101.56 785.7h9M109.93 782.38V785.47M105.43 782.38h9M105.43 785.47h9M113.8 782.11V785.21M109.3 782.11h9M109.3 785.21h9M117.67 781.81V784.92M113.17 781.81h9M113.17 784.92h9M121.54 781.48V784.6M117.04 781.48h9M117.04 784.6h9M125.41 781.11V784.23M120.91 781.11h9M120.91 784.23h9M129.28 780.69V783.83M124.78 780.69h9M124.78 783.83h9M133.15 780.22V783.38M128.65 780.22h9M128.65 783.38h9M137.02 779.71V782.87M132.52 779.71h9M132.52 782.87h9M140.89 779.13V782.32M136.39 779.13h9M136.39 782.32h9M144.76 778.5V781.7M140.26 778.5h9M140.26 781.7h9M148.63 777.6V780.82M144.13 777.6h9M144.13 780.82h9M152.5 776.33V779.59M148 776.33h9M148 779.59h9M156.37 774.81V778.11M151.87 774.81h9M151.87 778.11h9M160.24 773.12V776.47M155.74 773.12h9M155.74 776.47h9M164.11 771.37V774.77M159.61 771.37h9M159.61 774.77h9M167.98 769.54V772.99M163.48 769.54h9M163.48 772.99h9M171.85 767.52V771.02M167.35 767.52h9M167.35 771.02h9M175.72 765.18V768.76M171.22 765.18h9M171.22 768.76h9M179.59 762.42V766.07M175.09 762.42h9M175.09 766.07h9M183.46 759.11V762.86M178.96 759.11h9M178.96 762.86h9M184.49 758.11V761.88M179.99 758.11h9M179.99 761.88h9M185.53 756.95V760.75M181.03 756.95h9M181.03 760.75h9M186.56 755.61V759.45M182.06 755.61h9M182.06 759.45h9M187.59 754.1V757.98M183.09 754.1h9M183.09 757.98h9M188.62 752.43V756.36M184.12 752.43h9M184.12 756.36h9M189.65 750.62V754.6M185.15 750.62h9M185.15 754.6h9M190.69 748.69V752.72M186.19 748.69h9M186.19 752.72h9M191.72 746.63V750.72M187.22 746.63h9M187.22 750.72h9M192.75 744.47V748.63M188.25 744.47h9M188.25 748.63h9M193.78 742.23V746.44M189.28 742.23h9M189.28 746.44h9M194.81 739.9V744.18M190.31 739.9h9M190.31 744.18h9M195.85 737.51V741.85M191.35 737.51h9M191.35 741.85h9M196.88 735.06V739.47M192.38 735.06h9M192.38 739.47h9M197.91 732.57V737.06M193.41 732.57h9M193.41 737.06h9M198.94 730.06V734.61M194.44 730.06h9M194.44 734.61h9M199.97 727.53V732.15M195.47 727.53h9M195.47 732.15h9M201.01 725V729.69M196.51 725h9M196.51 729.69h9M202.04 722.48V727.24M197.54 722.48h9M197.54 727.24h9M203.07 719.98V724.82M198.57 719.98h9M198.57 724.82h9M204.1 717.52V722.42M199.6 717.52h9M199.6 722.42h9M205.13 715.11V720.08M200.63 715.11h9M200.63 720.08h9M206.17 712.74V717.77M201.67 712.74h9M201.67 717.77h9M207.2 710.33V715.44M202.7 710.33h9M202.7 715.44h9M208.23 707.89V713.07M203.73 707.89h9M203.73 713.07h9M209.26 705.41V710.65M204.76 705.41h9M204.76 710.65h9M210.29 702.89V708.2M205.79 702.89h9M205.79 708.2h9M211.33 700.33V705.71M206.83 700.33h9M206.83 705.71h9M212.36 697.73V703.19M207.86 697.73h9M207.86 703.19h9M213.39 695.09V700.62M208.89 695.09h9M208.89 700.62h9M214.42 692.42V698.02M209.92 692.42h9M209.92 698.02h9M215.45 689.71V695.39M210.95 689.71h9M210.95 695.39h9M216.49 686.96V692.72M211.99 686.96h9M211.99 692.72h9M217.52 684.18V690.01M213.02 684.18h9M213.02 690.01h9M218.55 681.35V687.26M214.05 681.35h9M214.05 687.26h9M219.58 678.46V684.46M215.08 678.46h9M215.08 684.46h9M220.61 675.53V681.61M216.11 675.53h9M216.11 681.61h9M221.65 672.55V678.71M217.15 672.55h9M217.15 678.71h9M222.68 669.53V675.78M218.18 669.53h9M218.18 675.78h9M223.71 666.48V672.81M219.21 666.48h9M219.21 672.81h9M224.74 663.38V669.8M220.24 663.38h9M220.24 669.8h9M225.77 660.26V666.76M221.27 660.26h9M221.27 666.76h9M226.81 657.1V663.69M222.31 657.1h9M222.31 663.69h9M227.84 653.92V660.6M223.34 653.92h9M223.34 660.6h9M228.87 650.69V657.46M224.37 650.69h9M224.37 657.46h9M229.9 647.31V654.17M225.4 647.31h9M225.4 654.17h9M230.93 643.8V650.76M226.43 643.8h9M226.43 650.76h9M231.97 640.17V647.24M227.47 640.17h9M227.47 647.24h9M233 636.47V643.64M228.5 636.47h9M228.5 643.64h9M234.03 632.72V639.99M229.53 632.72h9M229.53 639.99h9M235.06 628.94V636.32M230.56 628.94h9M230.56 636.32h9M236.09 625.17V632.65M231.59 625.17h9M231.59 632.65h9M237.13 621.42V629.01M232.63 621.42h9M232.63 629.01h9M238.16 617.73V625.43M233.66 617.73h9M233.66 625.43h9M239.19 614.13V621.93M234.69 614.13h9M234.69 621.93h9M240.22 610.64V618.53M235.72 610.64h9M235.72 618.53h9M241.25 607.3V615.28M236.75 607.3h9M236.75 615.28h9M242.29 604.12V612.19M237.79 604.12h9M237.79 612.19h9M243.32 601.14V609.29M238.82 601.14h9M238.82 609.29h9M244.35 598.38V606.61M239.85 598.38h9M239.85 606.61h9M245.38 595.85V604.16M240.88 595.85h9M240.88 604.16h9M246.41 593.4V601.77M241.91 593.4h9M241.91 601.77h9M247.45 590.97V599.41M242.95 590.97h9M242.95 599.41h9M248.48 588.56V597.07M243.98 588.56h9M243.98 597.07h9M249.51 586.18V594.75M245.01 586.18h9M245.01 594.75h9M250.54 583.83V592.47M246.04 583.83h9M246.04 592.47h9M251.57 581.53V590.23M247.07 581.53h9M247.07 590.23h9M252.61 579.26V588.03M248.11 579.26h9M248.11 588.03h9M253.64 577.04V585.87M249.14 577.04h9M249.14 585.87h9M254.67 574.88V583.77M250.17 574.88h9M250.17 583.77h9M255.7 572.77V581.72M251.2 572.77h9M251.2 581.72h9M256.73 570.72V579.73M252.23 570.72h9M252.23 579.73h9M257.77 568.74V577.8M253.27 568.74h9M253.27 577.8h9M258.8 566.83V575.94M254.3 566.83h9M254.3 575.94h9M259.83 565V574.16M255.33 565h9M255.33 574.16h9M260.86 563.24V572.46M256.36 563.24h9M256.36 572.46h9M261.89 561.58V570.84M257.39 561.58h9M257.39 570.84h9M262.93 560V569.3M258.43 560h9M258.43 569.3h9M263.96 558.52V567.86M259.46 558.52h9M259.46 567.86h9M264.99 557.13V566.52M260.49 557.13h9M260.49 566.52h9M266.02 555.85V565.27M261.52 555.85h9M261.52 565.27h9M267.05 554.68V564.14M262.55 554.68h9M262.55 564.14h9M268.09 553.63V563.11M263.59 553.63h9M263.59 563.11h9M269.12 552.69V562.2M264.62 552.69h9M264.62 562.2h9M270.15 551.86V561.39M265.65 551.86h9M265.65 561.39h9M271.18 551.04V560.59M266.68 551.04h9M266.68 560.59h9M272.21 550.23V559.81M267.71 550.23h9M267.71 559.81h9M273.25 549.44V559.04M268.75 549.44h9M268.75 559.04h9M274.28 548.68V558.3M269.78 548.68h9M269.78 558.3h9M275.31 547.95V557.59M270.81 547.95h9M270.81 557.59h9M276.34 547.26V556.92M271.84 547.26h9M271.84 556.92h9M277.37 546.63V556.31M272.87 546.63h9M272.87 556.31h9M278.41 546.06V555.75M273.91 546.06h9M273.91 555.75h9M279.44 545.56V555.27M274.94 545.56h9M274.94 555.27h9M280.47 545.14V554.86M275.97 545.14h9M275.97 554.86h9M281.5 544.8V554.53M277 544.8h9M277 554.53h9M282.53 544.57V554.3M278.03 544.57h9M278.03 554.3h9M283.57 544.43V554.17M279.07 544.43h9M279.07 554.17h9M284.6 544.42V554.16M280.1 544.42h9M280.1 554.16h9M285.63 544.65V554.38M281.13 544.65h9M281.13 554.38h9M286.66 545.11V554.83M282.16 545.11h9M282.16 554.83h9M287.69 545.75V555.45M283.19 545.75h9M283.19 555.45h9M288.73 546.53V556.21M284.23 546.53h9M284.23 556.21h9M289.76 547.41V557.07M285.26 547.41h9M285.26 557.07h9M290.79 548.35V557.98M286.29 548.35h9M286.29 557.98h9M291.82 549.29V558.89M287.32 549.29h9M287.32 558.89h9M292.85 550.2V559.77M288.35 550.2h9M288.35 559.77h9M293.89 551.02V560.58M289.39 551.02h9M289.39 560.58h9M294.92 551.83V561.37M290.42 551.83h9M290.42 561.37h9M295.95 552.66V562.17M291.45 552.66h9M291.45 562.17h9M296.98 553.51V563M292.48 553.51h9M292.48 563h9M298.01 554.38V563.84M293.51 554.38h9M293.51 563.84h9M299.05 555.26V564.7M294.55 555.26h9M294.55 564.7h9M300.08 556.16V565.57M295.58 556.16h9M295.58 565.57h9M301.11 557.07V566.46M296.61 557.07h9M296.61 566.46h9M302.14 558V567.36M297.64 558h9M297.64 567.36h9M303.17 558.95V568.28M298.67 558.95h9M298.67 568.28h9M304.21 559.9V569.21M299.71 559.9h9M299.71 569.21h9M305.24 560.87V570.15M300.74 560.87h9M300.74 570.15h9M306.27 561.85V571.1M301.77 561.85h9M301.77 571.1h9M307.3 562.84V572.07M302.8 562.84h9M302.8 572.07h9M308.33 563.84V573.04M303.83 563.84h9M303.83 573.04h9M309.37 564.85V574.02M304.87 564.85h9M304.87 574.02h9M310.4 565.87V575.01M305.9 565.87h9M305.9 575.01h9M311.43 566.9V576.01M306.93 566.9h9M306.93 576.01h9M312.46 567.93V577.01M307.96 567.93h9M307.96 577.01h9M313.49 568.97V578.02M308.99 568.97h9M308.99 578.02h9M314.53 570.01V579.04M310.03 570.01h9M310.03 579.04h9M315.56 571.06V580.06M311.06 571.06h9M311.06 580.06h9M316.59 572.12V581.08M312.09 572.12h9M312.09 581.08h9M317.62 573.18V582.11M313.12 573.18h9M313.12 582.11h9M318.65 574.23V583.14M314.15 574.23h9M314.15 583.14h9M319.69 575.29V584.17M315.19 575.29h9M315.19 584.17h9M320.72 576.35V585.2M316.22 576.35h9M316.22 585.2h9M321.75 577.42V586.24M317.25 577.42h9M317.25 586.24h9M322.78 578.49V587.28M318.28 578.49h9M318.28 587.28h9M323.81 579.57V588.33M319.31 579.57h9M319.31 588.33h9M324.85 580.67V589.4M320.35 580.67h9M320.35 589.4h9M325.88 581.78V590.48M321.38 581.78h9M321.38 590.48h9M326.91 582.91V591.57M322.41 582.91h9M322.41 591.57h9M327.94 584.05V592.68M323.44 584.05h9M323.44 592.68h9M328.97 585.22V593.82M324.47 585.22h9M324.47 593.82h9M330.01 586.41V594.98M325.51 586.41h9M325.51 594.98h9M331.04 587.63V596.16M326.54 587.63h9M326.54 596.16h9M332.07 588.87V597.37M327.57 588.87h9M327.57 597.37h9M333.1 590.15V598.61M328.6 590.15h9M328.6 598.61h9M334.13 591.46V599.88M329.63 591.46h9M329.63 599.88h9M335.17 592.8V601.19M330.67 592.8h9M330.67 601.19h9M336.2 594.18V602.53M331.7 594.18h9M331.7 602.53h9M337.23 595.58V603.89M332.73 595.58h9M332.73 603.89h9M338.26 596.93V605.2M333.76 596.93h9M333.76 605.2h9M339.29 598.26V606.5M334.79 598.26h9M334.79 606.5h9M340.33 599.61V607.81M335.83 599.61h9M335.83 607.81h9M341.36 601.02V609.18M336.86 601.02h9M336.86 609.18h9M342.39 602.52V610.63M337.89 602.52h9M337.89 610.63h9M343.42 604.13V612.21M338.92 604.13h9M338.92 612.21h9M344.45 605.91V613.93M339.95 605.91h9M339.95 613.93h9M345.49 607.87V615.83M340.99 607.87h9M340.99 615.83h9M346.52 610.05V617.96M342.02 610.05h9M342.02 617.96h9M347.55 612.49V620.33M343.05 612.49h9M343.05 620.33h9M348.58 615.39V623.15M344.08 615.39h9M344.08 623.15h9M349.61 619.62V627.26M345.11 619.62h9M345.11 627.26h9M350.65 624.76V632.26M346.15 624.76h9M346.15 632.26h9M351.68 630.15V637.5M347.18 630.15h9M347.18 637.5h9M351.95 647.8V656.62M347.45 647.8h9M347.45 656.62h9M360.58 661.83V670.27M356.08 661.83h9M356.08 670.27h9M368.07 673.72V681.82M363.57 673.72h9M363.57 681.82h9M374.66 684.16V691.97M370.16 684.16h9M370.16 691.97h9M380.57 691.62V699.22M376.07 691.62h9M376.07 699.22h9M385.91 697.53V704.97M381.41 697.53h9M381.41 704.97h9M390.78 702.57V709.86M386.28 702.57h9M386.28 709.86h9M395.27 706.78V713.96M390.77 706.78h9M390.77 713.96h9M399.42 710.24V717.32M394.92 710.24h9M394.92 717.32h9M403.28 713.16V720.16M398.78 713.16h9M398.78 720.16h9M406.9 715.76V722.69M402.4 715.76h9M402.4 722.69h9M410.3 718.05V724.91M405.8 718.05h9M405.8 724.91h9M413.5 720.05V726.86M409 720.05h9M409 726.86h9M416.53 721.79V728.55M412.03 721.79h9M412.03 728.55h9M419.4 723.29V730M414.9 723.29h9M414.9 730h9M422.13 724.56V731.24M417.63 724.56h9M417.63 731.24h9" stroke="#f9694a" stroke-width="1" fill="none" shape-rendering="crispEdges"/>
<g shape-rendering="crispEdges"><polygon points="71.23,780.51 75.56,783.01 75.56,788.01 71.23,790.51 66.9,788.01 66.9,783.01" fill="none" stroke="#f9694a" stroke-width="2.3"/><circle cx="71.23" cy="785.51" r="0.9" fill="#f9694a"/><polygon points="75.1,780.45 79.43,782.95 79.43,787.95 75.1,790.45 70.77,787.95 70.77,782.95" fill="none" stroke="#f9694a" stroke-width="2.3"/><circle cx="75.1" cy="785.45" r="0.9" fill="#f9694a"/><polygon points="78.97,780.36 83.3,782.86 83.3,787.86 78.97,790.36 74.64,787.86 74.64,782.86" fill="none" stroke="#f9694a" stroke-width="2.3"/><circle cx="78.97" cy="785.36" r="0.9" fill="#f9694a"/><polygon points="82.84,780.24 87.17,782.74 87.17,787.74 82.84,790.24 78.51,787.74 78.51,782.74" fill="none" stroke="#f9694a" stroke-width="2.3"/><circle cx="82.84" cy="785.24" r="0.9" fill="#f9694a"/><polygon points="86.71,780.1 91.04,782.6 91.04,787.6 86.71,790.1 82.38,787.6 82.38,782.6" fill="none" stroke="#f9694a" stroke-width="2.3"/><circle cx="86.71" cy="785.1" r="0.9" fill="#f9694a"/><polygon points="90.58,779.94 94.91,782.44 94.91,787.44 90.58,789.94 86.25,787.44 86.25,782.44" fill="none" stroke="#f9694a" stroke-width="2.3"/><circle cx="90.58" cy="784.94" r="0.9" fill="#f9694a"/><polygon points="94.45,779.76 98.78,782.26 98.78,787.26 94.45,789.76 90.12,787.26 90.12,782.26" fill="none" stroke="#f9694a" stroke-width="2.3"/><circle cx="94.45" cy="784.76" r="0.9" fill="#f9694a"/><polygon points="98.32,779.57 102.65,782.07 102.65,787.07 98.32,789.57 93.99,787.07 93.99,782.07" fill="none" stroke="#f9694a" stroke-width="2.3"/><circle cx="98.32" cy="784.57" r="0.9" fill="#f9694a"/><polygon points="102.19,779.37 106.52,781.87 106.52,786.87 102.19,789.37 97.86,786.87 97.86,781.87" fill="none" stroke="#f9694a" stroke-width="2.3"/><circle cx="102.19" cy="784.37" r="0.9" fill="#f9694a"/><polygon points="106.06,779.16 110.39,781.66 110.39,786.66 106.06,789.16 101.73,786.66 101.73,781.66" fill="none" stroke="#f9694a" stroke-width="2.3"/><circle cx="106.06" cy="784.16" r="0.9" fill="#f9694a"/><polygon points="109.93,778.92 114.26,781.42 114.26,786.42 109.93,788.92 105.6,786.42 105.6,781.42" fill="none" stroke="#f9694a" stroke-width="2.3"/><circle cx="109.93" cy="783.92" r="0.9" fill="#f9694a"/><polygon points="113.8,778.66 118.13,781.16 118.13,786.16 113.8,788.66 109.47,786.16 109.47,781.16" fill="none" stroke="#f9694a" stroke-width="2.3"/><circle cx="113.8" cy="783.66" r="0.9" fill="#f9694a"/><polygon points="117.67,778.37 122,780.87 122,785.87 117.67,788.37 113.34,785.87 113.34,780.87" fill="none" stroke="#f9694a" stroke-width="2.3"/><circle cx="117.67" cy="783.37" r="0.9" fill="#f9694a"/><polygon points="121.54,778.04 125.87,780.54 125.87,785.54 121.54,788.04 117.21,785.54 117.21,780.54" fill="none" stroke="#f9694a" stroke-width="2.3"/><circle cx="121.54" cy="783.04" r="0.9" fill="#f9694a"/><polygon points="125.41,777.67 129.74,780.17 129.74,785.17 125.41,787.67 121.08,785.17 121.08,780.17" fill="none" stroke="#f9694a" stroke-width="2.3"/><circle cx="125.41" cy="782.67" r="0.9" fill="#f9694a"/><polygon points="129.28,777.26 133.61,779.76 133.61,784.76 129.28,787.26 124.95,784.76 124.95,779.76" fill="none" stroke="#f9694a" stroke-width="2.3"/><circle cx="129.28" cy="782.26" r="0.9" fill="#f9694a"/><polygon points="133.15,776.8 137.48,779.3 137.48,784.3 133.15,786.8 128.82,784.3 128.82,779.3" fill="none" stroke="#f9694a" stroke-width="2.3"/><circle cx="133.15" cy="781.8" r="0.9" fill="#f9694a"/><polygon points="137.02,776.29 141.35,778.79 141.35,783.79 137.02,786.29 132.69,783.79 132.69,778.79" fill="none" stroke="#f9694a" stroke-width="2.3"/><circle cx="137.02" cy="781.29" r="0.9" fill="#f9694a"/><polygon points="140.89,775.73 145.22,778.23 145.22,783.23 140.89,785.73 136.56,783.23 136.56,778.23" fill="none" stroke="#f9694a" stroke-width="2.3"/><circle cx="140.89" cy="780.73" r="0.9" fill="#f9694a"/><polygon points="144.76,775.1 149.09,777.6 149.09,782.6 144.76,785.1 140.43,782.6 140.43,777.6" fill="none" stroke="#f9694a" stroke-width="2.3"/><circle cx="144.76" cy="780.1" r="0.9" fill="#f9694a"/><polygon points="148.63,774.21 152.96,776.71 152.96,781.71 148.63,784.21 144.3,781.71 144.3,776.71" fill="none" stroke="#f9694a" stroke-width="2.3"/><circle cx="148.63" cy="779.21" r="0.9" fill="#f9694a"/><polygon points="152.5,772.96 156.83,775.46 156.83,780.46 152.5,782.96 148.17,780.46 148.17,775.46" fill="none" stroke="#f9694a" stroke-width="2.3"/><circle cx="152.5" cy="777.96" r="0.9" fill="#f9694a"/><polygon points="156.37,771.46 160.7,773.96 160.7,778.96 156.37,781.46 152.04,778.96 152.04,773.96" fill="none" stroke="#f9694a" stroke-width="2.3"/><circle cx="156.37" cy="776.46" r="0.9" fill="#f9694a"/><polygon points="160.24,769.79 164.57,772.29 164.57,777.29 160.24,779.79 155.91,777.29 155.91,772.29" fill="none" stroke="#f9694a" stroke-width="2.3"/><circle cx="160.24" cy="774.79" r="0.9" fill="#f9694a"/><polygon points="164.11,768.07 168.44,770.57 168.44,775.57 164.11,778.07 159.78,775.57 159.78,770.57" fill="none" stroke="#f9694a" stroke-width="2.3"/><circle cx="164.11" cy="773.07" r="0.9" fill="#f9694a"/><polygon points="167.98,766.26 172.31,768.76 172.31,773.76 167.98,776.26 163.65,773.76 163.65,768.76" fill="none" stroke="#f9694a" stroke-width="2.3"/><circle cx="167.98" cy="771.26" r="0.9" fill="#f9694a"/><polygon points="171.85,764.27 176.18,766.77 176.18,771.77 171.85,774.27 167.52,771.77 167.52,766.77" fill="none" stroke="#f9694a" stroke-width="2.3"/><circle cx="171.85" cy="769.27" r="0.9" fill="#f9694a"/><polygon points="175.72,761.97 180.05,764.47 180.05,769.47 175.72,771.97 171.39,769.47 171.39,764.47" fill="none" stroke="#f9694a" stroke-width="2.3"/><circle cx="175.72" cy="766.97" r="0.9" fill="#f9694a"/><polygon points="179.59,759.25 183.92,761.75 183.92,766.75 179.59,769.25 175.26,766.75 175.26,761.75" fill="none" stroke="#f9694a" stroke-width="2.3"/><circle cx="179.59" cy="764.25" r="0.9" fill="#f9694a"/><polygon points="183.46,755.98 187.79,758.48 187.79,763.48 183.46,765.98 179.13,763.48 179.13,758.48" fill="none" stroke="#f9694a" stroke-width="2.3"/><circle cx="183.46" cy="760.98" r="0.9" fill="#f9694a"/><polygon points="184.49,755 188.82,757.5 188.82,762.5 184.49,765 180.16,762.5 180.16,757.5" fill="none" stroke="#f9694a" stroke-width="2.3"/><circle cx="184.49" cy="760" r="0.9" fill="#f9694a"/><polygon points="185.53,753.85 189.86,756.35 189.86,761.35 185.53,763.85 181.2,761.35 181.2,756.35" fill="none" stroke="#f9694a" stroke-width="2.3"/><circle cx="185.53" cy="758.85" r="0.9" fill="#f9694a"/><polygon points="186.56,752.53 190.89,755.03 190.89,760.03 186.56,762.53 182.23,760.03 182.23,755.03" fill="none" stroke="#f9694a" stroke-width="2.3"/><circle cx="186.56" cy="757.53" r="0.9" fill="#f9694a"/><polygon points="187.59,751.04 191.92,753.54 191.92,758.54 187.59,761.04 183.26,758.54 183.26,753.54" fill="none" stroke="#f9694a" stroke-width="2.3"/><circle cx="187.59" cy="756.04" r="0.9" fill="#f9694a"/><polygon points="188.62,749.39 192.95,751.89 192.95,756.89 188.62,759.39 184.29,756.89 184.29,751.89" fill="none" stroke="#f9694a" stroke-width="2.3"/><circle cx="188.62" cy="754.39" r="0.9" fill="#f9694a"/><polygon points="189.65,747.61 193.98,750.11 193.98,755.11 189.65,757.61 185.32,755.11 185.32,750.11" fill="none" stroke="#f9694a" stroke-width="2.3"/><circle cx="189.65" cy="752.61" r="0.9" fill="#f9694a"/><polygon points="190.69,745.7 195.02,748.2 195.02,753.2 190.69,755.7 186.36,753.2 186.36,748.2" fill="none" stroke="#f9694a" stroke-width="2.3"/><circle cx="190.69" cy="750.7" r="0.9" fill="#f9694a"/><polygon points="191.72,743.68 196.05,746.18 196.05,751.18 191.72,753.68 187.39,751.18 187.39,746.18" fill="none" stroke="#f9694a" stroke-width="2.3"/><circle cx="191.72" cy="748.68" r="0.9" fill="#f9694a"/><polygon points="192.75,741.55 197.08,744.05 197.08,749.05 192.75,751.55 188.42,749.05 188.42,744.05" fill="none" stroke="#f9694a" stroke-width="2.3"/><circle cx="192.75" cy="746.55" r="0.9" fill="#f9694a"/><polygon points="193.78,739.33 198.11,741.83 198.11,746.83 193.78,749.33 189.45,746.83 189.45,741.83" fill="none" stroke="#f9694a" stroke-width="2.3"/><circle cx="193.78" cy="744.33" r="0.9" fill="#f9694a"/><polygon points="194.81,737.04 199.14,739.54 199.14,744.54 194.81,747.04 190.48,744.54 190.48,739.54" fill="none" stroke="#f9694a" stroke-width="2.3"/><circle cx="194.81" cy="742.04" r="0.9" fill="#f9694a"/><polygon points="195.85,734.68 200.18,737.18 200.18,742.18 195.85,744.68 191.52,742.18 191.52,737.18" fill="none" stroke="#f9694a" stroke-width="2.3"/><circle cx="195.85" cy="739.68" r="0.9" fill="#f9694a"/><polygon points="196.88,732.27 201.21,734.77 201.21,739.77 196.88,742.27 192.55,739.77 192.55,734.77" fill="none" stroke="#f9694a" stroke-width="2.3"/><circle cx="196.88" cy="737.27" r="0.9" fill="#f9694a"/><polygon points="197.91,729.81 202.24,732.31 202.24,737.31 197.91,739.81 193.58,737.31 193.58,732.31" fill="none" stroke="#f9694a" stroke-width="2.3"/><circle cx="197.91" cy="734.81" r="0.9" fill="#f9694a"/><polygon points="198.94,727.34 203.27,729.84 203.27,734.84 198.94,737.34 194.61,734.84 194.61,729.84" fill="none" stroke="#f9694a" stroke-width="2.3"/><circle cx="198.94" cy="732.34" r="0.9" fill="#f9694a"/><polygon points="199.97,724.84 204.3,727.34 204.3,732.34 199.97,734.84 195.64,732.34 195.64,727.34" fill="none" stroke="#f9694a" stroke-width="2.3"/><circle cx="199.97" cy="729.84" r="0.9" fill="#f9694a"/><polygon points="201.01,722.35 205.34,724.85 205.34,729.85 201.01,732.35 196.68,729.85 196.68,724.85" fill="none" stroke="#f9694a" stroke-width="2.3"/><circle cx="201.01" cy="727.35" r="0.9" fill="#f9694a"/><polygon points="202.04,719.86 206.37,722.36 206.37,727.36 202.04,729.86 197.71,727.36 197.71,722.36" fill="none" stroke="#f9694a" stroke-width="2.3"/><circle cx="202.04" cy="724.86" r="0.9" fill="#f9694a"/><polygon points="203.07,717.4 207.4,719.9 207.4,724.9 203.07,727.4 198.74,724.9 198.74,719.9" fill="none" stroke="#f9694a" stroke-width="2.3"/><circle cx="203.07" cy="722.4" r="0.9" fill="#f9694a"/><polygon points="204.1,714.97 208.43,717.47 208.43,722.47 204.1,724.97 199.77,722.47 199.77,717.47" fill="none" stroke="#f9694a" stroke-width="2.3"/><circle cx="204.1" cy="719.97" r="0.9" fill="#f9694a"/><polygon points="205.13,712.59 209.46,715.09 209.46,720.09 205.13,722.59 200.8,720.09 200.8,715.09" fill="none" stroke="#f9694a" stroke-width="2.3"/><circle cx="205.13" cy="717.59" r="0.9" fill="#f9694a"/><polygon points="206.17,710.25 210.5,712.75 210.5,717.75 206.17,720.25 201.84,717.75 201.84,712.75" fill="none" stroke="#f9694a" stroke-width="2.3"/><circle cx="206.17" cy="715.25" r="0.9" fill="#f9694a"/><polygon points="207.2,707.89 211.53,710.39 211.53,715.39 207.2,717.89 202.87,715.39 202.87,710.39" fill="none" stroke="#f9694a" stroke-width="2.3"/><circle cx="207.2" cy="712.89" r="0.9" fill="#f9694a"/><polygon points="208.23,705.48 212.56,707.98 212.56,712.98 208.23,715.48 203.9,712.98 203.9,707.98" fill="none" stroke="#f9694a" stroke-width="2.3"/><circle cx="208.23" cy="710.48" r="0.9" fill="#f9694a"/><polygon points="209.26,703.03 213.59,705.53 213.59,710.53 209.26,713.03 204.93,710.53 204.93,705.53" fill="none" stroke="#f9694a" stroke-width="2.3"/><circle cx="209.26" cy="708.03" r="0.9" fill="#f9694a"/><polygon points="210.29,700.54 214.62,703.04 214.62,708.04 210.29,710.54 205.96,708.04 205.96,703.04" fill="none" stroke="#f9694a" stroke-width="2.3"/><circle cx="210.29" cy="705.54" r="0.9" fill="#f9694a"/><polygon points="211.33,698.02 215.66,700.52 215.66,705.52 211.33,708.02 207,705.52 207,700.52" fill="none" stroke="#f9694a" stroke-width="2.3"/><circle cx="211.33" cy="703.02" r="0.9" fill="#f9694a"/><polygon points="212.36,695.46 216.69,697.96 216.69,702.96 212.36,705.46 208.03,702.96 208.03,697.96" fill="none" stroke="#f9694a" stroke-width="2.3"/><circle cx="212.36" cy="700.46" r="0.9" fill="#f9694a"/><polygon points="213.39,692.86 217.72,695.36 217.72,700.36 213.39,702.86 209.06,700.36 209.06,695.36" fill="none" stroke="#f9694a" stroke-width="2.3"/><circle cx="213.39" cy="697.86" r="0.9" fill="#f9694a"/><polygon points="214.42,690.22 218.75,692.72 218.75,697.72 214.42,700.22 210.09,697.72 210.09,692.72" fill="none" stroke="#f9694a" stroke-width="2.3"/><circle cx="214.42" cy="695.22" r="0.9" fill="#f9694a"/><polygon points="215.45,687.55 219.78,690.05 219.78,695.05 215.45,697.55 211.12,695.05 211.12,690.05" fill="none" stroke="#f9694a" stroke-width="2.3"/><circle cx="215.45" cy="692.55" r="0.9" fill="#f9694a"/><polygon points="216.49,684.84 220.82,687.34 220.82,692.34 216.49,694.84 212.16,692.34 212.16,687.34" fill="none" stroke="#f9694a" stroke-width="2.3"/><circle cx="216.49" cy="689.84" r="0.9" fill="#f9694a"/><polygon points="217.52,682.1 221.85,684.6 221.85,689.6 217.52,692.1 213.19,689.6 213.19,684.6" fill="none" stroke="#f9694a" stroke-width="2.3"/><circle cx="217.52" cy="687.1" r="0.9" fill="#f9694a"/><polygon points="218.55,679.3 222.88,681.8 222.88,686.8 218.55,689.3 214.22,686.8 214.22,681.8" fill="none" stroke="#f9694a" stroke-width="2.3"/><circle cx="218.55" cy="684.3" r="0.9" fill="#f9694a"/><polygon points="219.58,676.46 223.91,678.96 223.91,683.96 219.58,686.46 215.25,683.96 215.25,678.96" fill="none" stroke="#f9694a" stroke-width="2.3"/><circle cx="219.58" cy="681.46" r="0.9" fill="#f9694a"/><polygon points="220.61,673.57 224.94,676.07 224.94,681.07 220.61,683.57 216.28,681.07 216.28,676.07" fill="none" stroke="#f9694a" stroke-width="2.3"/><circle cx="220.61" cy="678.57" r="0.9" fill="#f9694a"/><polygon points="221.65,670.63 225.98,673.13 225.98,678.13 221.65,680.63 217.32,678.13 217.32,673.13" fill="none" stroke="#f9694a" stroke-width="2.3"/><circle cx="221.65" cy="675.63" r="0.9" fill="#f9694a"/><polygon points="222.68,667.66 227.01,670.16 227.01,675.16 222.68,677.66 218.35,675.16 218.35,670.16" fill="none" stroke="#f9694a" stroke-width="2.3"/><circle cx="222.68" cy="672.66" r="0.9" fill="#f9694a"/><polygon points="223.71,664.64 228.04,667.14 228.04,672.14 223.71,674.64 219.38,672.14 219.38,667.14" fill="none" stroke="#f9694a" stroke-width="2.3"/><circle cx="223.71" cy="669.64" r="0.9" fill="#f9694a"/><polygon points="224.74,661.59 229.07,664.09 229.07,669.09 224.74,671.59 220.41,669.09 220.41,664.09" fill="none" stroke="#f9694a" stroke-width="2.3"/><circle cx="224.74" cy="666.59" r="0.9" fill="#f9694a"/><polygon points="225.77,658.51 230.1,661.01 230.1,666.01 225.77,668.51 221.44,666.01 221.44,661.01" fill="none" stroke="#f9694a" stroke-width="2.3"/><circle cx="225.77" cy="663.51" r="0.9" fill="#f9694a"/><polygon points="226.81,655.4 231.14,657.9 231.14,662.9 226.81,665.4 222.48,662.9 222.48,657.9" fill="none" stroke="#f9694a" stroke-width="2.3"/><circle cx="226.81" cy="660.4" r="0.9" fill="#f9694a"/><polygon points="227.84,652.26 232.17,654.76 232.17,659.76 227.84,662.26 223.51,659.76 223.51,654.76" fill="none" stroke="#f9694a" stroke-width="2.3"/><circle cx="227.84" cy="657.26" r="0.9" fill="#f9694a"/><polygon points="228.87,649.07 233.2,651.57 233.2,656.57 228.87,659.07 224.54,656.57 224.54,651.57" fill="none" stroke="#f9694a" stroke-width="2.3"/><circle cx="228.87" cy="654.07" r="0.9" fill="#f9694a"/><polygon points="229.9,645.74 234.23,648.24 234.23,653.24 229.9,655.74 225.57,653.24 225.57,648.24" fill="none" stroke="#f9694a" stroke-width="2.3"/><circle cx="229.9" cy="650.74" r="0.9" fill="#f9694a"/><polygon points="230.93,642.28 235.26,644.78 235.26,649.78 230.93,652.28 226.6,649.78 226.6,644.78" fill="none" stroke="#f9694a" stroke-width="2.3"/><circle cx="230.93" cy="647.28" r="0.9" fill="#f9694a"/><polygon points="231.97,638.71 236.3,641.21 236.3,646.21 231.97,648.71 227.64,646.21 227.64,641.21" fill="none" stroke="#f9694a" stroke-width="2.3"/><circle cx="231.97" cy="643.71" r="0.9" fill="#f9694a"/><polygon points="233,635.06 237.33,637.56 237.33,642.56 233,645.06 228.67,642.56 228.67,637.56" fill="none" stroke="#f9694a" stroke-width="2.3"/><circle cx="233" cy="640.06" r="0.9" fill="#f9694a"/><polygon points="234.03,631.36 238.36,633.86 238.36,638.86 234.03,641.36 229.7,638.86 229.7,633.86" fill="none" stroke="#f9694a" stroke-width="2.3"/><circle cx="234.03" cy="636.36" r="0.9" fill="#f9694a"/><polygon points="235.06,627.63 239.39,630.13 239.39,635.13 235.06,637.63 230.73,635.13 230.73,630.13" fill="none" stroke="#f9694a" stroke-width="2.3"/><circle cx="235.06" cy="632.63" r="0.9" fill="#f9694a"/><polygon points="236.09,623.91 240.42,626.41 240.42,631.41 236.09,633.91 231.76,631.41 231.76,626.41" fill="none" stroke="#f9694a" stroke-width="2.3"/><circle cx="236.09" cy="628.91" r="0.9" fill="#f9694a"/><polygon points="237.13,620.22 241.46,622.72 241.46,627.72 237.13,630.22 232.8,627.72 232.8,622.72" fill="none" stroke="#f9694a" stroke-width="2.3"/><circle cx="237.13" cy="625.22" r="0.9" fill="#f9694a"/><polygon points="238.16,616.58 242.49,619.08 242.49,624.08 238.16,626.58 233.83,624.08 233.83,619.08" fill="none" stroke="#f9694a" stroke-width="2.3"/><circle cx="238.16" cy="621.58" r="0.9" fill="#f9694a"/><polygon points="239.19,613.03 243.52,615.53 243.52,620.53 239.19,623.03 234.86,620.53 234.86,615.53" fill="none" stroke="#f9694a" stroke-width="2.3"/><circle cx="239.19" cy="618.03" r="0.9" fill="#f9694a"/><polygon points="240.22,609.59 244.55,612.09 244.55,617.09 240.22,619.59 235.89,617.09 235.89,612.09" fill="none" stroke="#f9694a" stroke-width="2.3"/><circle cx="240.22" cy="614.59" r="0.9" fill="#f9694a"/><polygon points="241.25,606.29 245.58,608.79 245.58,613.79 241.25,616.29 236.92,613.79 236.92,608.79" fill="none" stroke="#f9694a" stroke-width="2.3"/><circle cx="241.25" cy="611.29" r="0.9" fill="#f9694a"/><polygon points="242.29,603.15 246.62,605.65 246.62,610.65 242.29,613.15 237.96,610.65 237.96,605.65" fill="none" stroke="#f9694a" stroke-width="2.3"/><circle cx="242.29" cy="608.15" r="0.9" fill="#f9694a"/><polygon points="243.32,600.21 247.65,602.71 247.65,607.71 243.32,610.21 238.99,607.71 238.99,602.71" fill="none" stroke="#f9694a" stroke-width="2.3"/><circle cx="243.32" cy="605.21" r="0.9" fill="#f9694a"/><polygon points="244.35,597.49 248.68,599.99 248.68,604.99 244.35,607.49 240.02,604.99 240.02,599.99" fill="none" stroke="#f9694a" stroke-width="2.3"/><circle cx="244.35" cy="602.49" r="0.9" fill="#f9694a"/><polygon points="245.38,595.01 249.71,597.51 249.71,602.51 245.38,605.01 241.05,602.51 241.05,597.51" fill="none" stroke="#f9694a" stroke-width="2.3"/><circle cx="245.38" cy="600.01" r="0.9" fill="#f9694a"/><polygon points="246.41,592.59 250.74,595.09 250.74,600.09 246.41,602.59 242.08,600.09 242.08,595.09" fill="none" stroke="#f9694a" stroke-width="2.3"/><circle cx="246.41" cy="597.59" r="0.9" fill="#f9694a"/><polygon points="247.45,590.19 251.78,592.69 251.78,597.69 247.45,600.19 243.12,597.69 243.12,592.69" fill="none" stroke="#f9694a" stroke-width="2.3"/><circle cx="247.45" cy="595.19" r="0.9" fill="#f9694a"/><polygon points="248.48,587.81 252.81,590.31 252.81,595.31 248.48,597.81 244.15,595.31 244.15,590.31" fill="none" stroke="#f9694a" stroke-width="2.3"/><circle cx="248.48" cy="592.81" r="0.9" fill="#f9694a"/><polygon points="249.51,585.47 253.84,587.97 253.84,592.97 249.51,595.47 245.18,592.97 245.18,587.97" fill="none" stroke="#f9694a" stroke-width="2.3"/><circle cx="249.51" cy="590.47" r="0.9" fill="#f9694a"/><polygon points="250.54,583.15 254.87,585.65 254.87,590.65 250.54,593.15 246.21,590.65 246.21,585.65" fill="none" stroke="#f9694a" stroke-width="2.3"/><circle cx="250.54" cy="588.15" r="0.9" fill="#f9694a"/><polygon points="251.57,580.88 255.9,583.38 255.9,588.38 251.57,590.88 247.24,588.38 247.24,583.38" fill="none" stroke="#f9694a" stroke-width="2.3"/><circle cx="251.57" cy="585.88" r="0.9" fill="#f9694a"/><polygon points="252.61,578.64 256.94,581.14 256.94,586.14 252.61,588.64 248.28,586.14 248.28,581.14" fill="none" stroke="#f9694a" stroke-width="2.3"/><circle cx="252.61" cy="583.64" r="0.9" fill="#f9694a"/><polygon points="253.64,576.46 257.97,578.96 257.97,583.96 253.64,586.46 249.31,583.96 249.31,578.96" fill="none" stroke="#f9694a" stroke-width="2.3"/><circle cx="253.64" cy="581.46" r="0.9" fill="#f9694a"/><polygon points="254.67,574.32 259,576.82 259,581.82 254.67,584.32 250.34,581.82 250.34,576.82" fill="none" stroke="#f9694a" stroke-width="2.3"/><circle cx="254.67" cy="579.32" r="0.9" fill="#f9694a"/><polygon points="255.7,572.24 260.03,574.74 260.03,579.74 255.7,582.24 251.37,579.74 251.37,574.74" fill="none" stroke="#f9694a" stroke-width="2.3"/><circle cx="255.7" cy="577.24" r="0.9" fill="#f9694a"/><polygon points="256.73,570.22 261.06,572.72 261.06,577.72 256.73,580.22 252.4,577.72 252.4,572.72" fill="none" stroke="#f9694a" stroke-width="2.3"/><circle cx="256.73" cy="575.22" r="0.9" fill="#f9694a"/><polygon points="257.77,568.27 262.1,570.77 262.1,575.77 257.77,578.27 253.44,575.77 253.44,570.77" fill="none" stroke="#f9694a" stroke-width="2.3"/><circle cx="257.77" cy="573.27" r="0.9" fill="#f9694a"/><polygon points="258.8,566.39 263.13,568.89 263.13,573.89 258.8,576.39 254.47,573.89 254.47,568.89" fill="none" stroke="#f9694a" stroke-width="2.3"/><circle cx="258.8" cy="571.39" r="0.9" fill="#f9694a"/><polygon points="259.83,564.58 264.16,567.08 264.16,572.08 259.83,574.58 255.5,572.08 255.5,567.08" fill="none" stroke="#f9694a" stroke-width="2.3"/><circle cx="259.83" cy="569.58" r="0.9" fill="#f9694a"/><polygon points="260.86,562.85 265.19,565.35 265.19,570.35 260.86,572.85 256.53,570.35 256.53,565.35" fill="none" stroke="#f9694a" stroke-width="2.3"/><circle cx="260.86" cy="567.85" r="0.9" fill="#f9694a"/><polygon points="261.89,561.21 266.22,563.71 266.22,568.71 261.89,571.21 257.56,568.71 257.56,563.71" fill="none" stroke="#f9694a" stroke-width="2.3"/><circle cx="261.89" cy="566.21" r="0.9" fill="#f9694a"/><polygon points="262.93,559.65 267.26,562.15 267.26,567.15 262.93,569.65 258.6,567.15 258.6,562.15" fill="none" stroke="#f9694a" stroke-width="2.3"/><circle cx="262.93" cy="564.65" r="0.9" fill="#f9694a"/><polygon points="263.96,558.19 268.29,560.69 268.29,565.69 263.96,568.19 259.63,565.69 259.63,560.69" fill="none" stroke="#f9694a" stroke-width="2.3"/><circle cx="263.96" cy="563.19" r="0.9" fill="#f9694a"/><polygon points="264.99,556.83 269.32,559.33 269.32,564.33 264.99,566.83 260.66,564.33 260.66,559.33" fill="none" stroke="#f9694a" stroke-width="2.3"/><circle cx="264.99" cy="561.83" r="0.9" fill="#f9694a"/><polygon points="266.02,555.56 270.35,558.06 270.35,563.06 266.02,565.56 261.69,563.06 261.69,558.06" fill="none" stroke="#f9694a" stroke-width="2.3"/><circle cx="266.02" cy="560.56" r="0.9" fill="#f9694a"/><polygon points="267.05,554.41 271.38,556.91 271.38,561.91 267.05,564.41 262.72,561.91 262.72,556.91" fill="none" stroke="#f9694a" stroke-width="2.3"/><circle cx="267.05" cy="559.41" r="0.9" fill="#f9694a"/><polygon points="268.09,553.37 272.42,555.87 272.42,560.87 268.09,563.37 263.76,560.87 263.76,555.87" fill="none" stroke="#f9694a" stroke-width="2.3"/><circle cx="268.09" cy="558.37" r="0.9" fill="#f9694a"/><polygon points="269.12,552.44 273.45,554.94 273.45,559.94 269.12,562.44 264.79,559.94 264.79,554.94" fill="none" stroke="#f9694a" stroke-width="2.3"/><circle cx="269.12" cy="557.44" r="0.9" fill="#f9694a"/><polygon points="270.15,551.62 274.48,554.12 274.48,559.12 270.15,561.62 265.82,559.12 265.82,554.12" fill="none" stroke="#f9694a" stroke-width="2.3"/><circle cx="270.15" cy="556.62" r="0.9" fill="#f9694a"/><polygon points="271.18,550.82 275.51,553.32 275.51,558.32 271.18,560.82 266.85,558.32 266.85,553.32" fill="none" stroke="#f9694a" stroke-width="2.3"/><circle cx="271.18" cy="555.82" r="0.9" fill="#f9694a"/><polygon points="272.21,550.02 276.54,552.52 276.54,557.52 272.21,560.02 267.88,557.52 267.88,552.52" fill="none" stroke="#f9694a" stroke-width="2.3"/><circle cx="272.21" cy="555.02" r="0.9" fill="#f9694a"/><polygon points="273.25,549.24 277.58,551.74 277.58,556.74 273.25,559.24 268.92,556.74 268.92,551.74" fill="none" stroke="#f9694a" stroke-width="2.3"/><circle cx="273.25" cy="554.24" r="0.9" fill="#f9694a"/><polygon points="274.28,548.49 278.61,550.99 278.61,555.99 274.28,558.49 269.95,555.99 269.95,550.99" fill="none" stroke="#f9694a" stroke-width="2.3"/><circle cx="274.28" cy="553.49" r="0.9" fill="#f9694a"/><polygon points="275.31,547.77 279.64,550.27 279.64,555.27 275.31,557.77 270.98,555.27 270.98,550.27" fill="none" stroke="#f9694a" stroke-width="2.3"/><circle cx="275.31" cy="552.77" r="0.9" fill="#f9694a"/><polygon points="276.34,547.09 280.67,549.59 280.67,554.59 276.34,557.09 272.01,554.59 272.01,549.59" fill="none" stroke="#f9694a" stroke-width="2.3"/><circle cx="276.34" cy="552.09" r="0.9" fill="#f9694a"/><polygon points="277.37,546.47 281.7,548.97 281.7,553.97 277.37,556.47 273.04,553.97 273.04,548.97" fill="none" stroke="#f9694a" stroke-width="2.3"/><circle cx="277.37" cy="551.47" r="0.9" fill="#f9694a"/><polygon points="278.41,545.91 282.74,548.41 282.74,553.41 278.41,555.91 274.08,553.41 274.08,548.41" fill="none" stroke="#f9694a" stroke-width="2.3"/><circle cx="278.41" cy="550.91" r="0.9" fill="#f9694a"/><polygon points="279.44,545.41 283.77,547.91 283.77,552.91 279.44,555.41 275.11,552.91 275.11,547.91" fill="none" stroke="#f9694a" stroke-width="2.3"/><circle cx="279.44" cy="550.41" r="0.9" fill="#f9694a"/><polygon points="280.47,545 284.8,547.5 284.8,552.5 280.47,555 276.14,552.5 276.14,547.5" fill="none" stroke="#f9694a" stroke-width="2.3"/><circle cx="280.47" cy="550" r="0.9" fill="#f9694a"/><polygon points="281.5,544.67 285.83,547.17 285.83,552.17 281.5,554.67 277.17,552.17 277.17,547.17" fill="none" stroke="#f9694a" stroke-width="2.3"/><circle cx="281.5" cy="549.67" r="0.9" fill="#f9694a"/><polygon points="282.53,544.43 286.86,546.93 286.86,551.93 282.53,554.43 278.2,551.93 278.2,546.93" fill="none" stroke="#f9694a" stroke-width="2.3"/><circle cx="282.53" cy="549.43" r="0.9" fill="#f9694a"/><polygon points="283.57,544.3 287.9,546.8 287.9,551.8 283.57,554.3 279.24,551.8 279.24,546.8" fill="none" stroke="#f9694a" stroke-width="2.3"/><circle cx="283.57" cy="549.3" r="0.9" fill="#f9694a"/><polygon points="284.6,544.29 288.93,546.79 288.93,551.79 284.6,554.29 280.27,551.79 280.27,546.79" fill="none" stroke="#f9694a" stroke-width="2.3"/><circle cx="284.6" cy="549.29" r="0.9" fill="#f9694a"/><polygon points="285.63,544.52 289.96,547.02 289.96,552.02 285.63,554.52 281.3,552.02 281.3,547.02" fill="none" stroke="#f9694a" stroke-width="2.3"/><circle cx="285.63" cy="549.52" r="0.9" fill="#f9694a"/><polygon points="286.66,544.97 290.99,547.47 290.99,552.47 286.66,554.97 282.33,552.47 282.33,547.47" fill="none" stroke="#f9694a" stroke-width="2.3"/><circle cx="286.66" cy="549.97" r="0.9" fill="#f9694a"/><polygon points="287.69,545.6 292.02,548.1 292.02,553.1 287.69,555.6 283.36,553.1 283.36,548.1" fill="none" stroke="#f9694a" stroke-width="2.3"/><circle cx="287.69" cy="550.6" r="0.9" fill="#f9694a"/><polygon points="288.73,546.37 293.06,548.87 293.06,553.87 288.73,556.37 284.4,553.87 284.4,548.87" fill="none" stroke="#f9694a" stroke-width="2.3"/><circle cx="288.73" cy="551.37" r="0.9" fill="#f9694a"/><polygon points="289.76,547.24 294.09,549.74 294.09,554.74 289.76,557.24 285.43,554.74 285.43,549.74" fill="none" stroke="#f9694a" stroke-width="2.3"/><circle cx="289.76" cy="552.24" r="0.9" fill="#f9694a"/><polygon points="290.79,548.16 295.12,550.66 295.12,555.66 290.79,558.16 286.46,555.66 286.46,550.66" fill="none" stroke="#f9694a" stroke-width="2.3"/><circle cx="290.79" cy="553.16" r="0.9" fill="#f9694a"/><polygon points="291.82,549.09 296.15,551.59 296.15,556.59 291.82,559.09 287.49,556.59 287.49,551.59" fill="none" stroke="#f9694a" stroke-width="2.3"/><circle cx="291.82" cy="554.09" r="0.9" fill="#f9694a"/><polygon points="292.85,549.98 297.18,552.48 297.18,557.48 292.85,559.98 288.52,557.48 288.52,552.48" fill="none" stroke="#f9694a" stroke-width="2.3"/><circle cx="292.85" cy="554.98" r="0.9" fill="#f9694a"/><polygon points="293.89,550.8 298.22,553.3 298.22,558.3 293.89,560.8 289.56,558.3 289.56,553.3" fill="none" stroke="#f9694a" stroke-width="2.3"/><circle cx="293.89" cy="555.8" r="0.9" fill="#f9694a"/><polygon points="294.92,551.6 299.25,554.1 299.25,559.1 294.92,561.6 290.59,559.1 290.59,554.1" fill="none" stroke="#f9694a" stroke-width="2.3"/><circle cx="294.92" cy="556.6" r="0.9" fill="#f9694a"/><polygon points="295.95,552.42 300.28,554.92 300.28,559.92 295.95,562.42 291.62,559.92 291.62,554.92" fill="none" stroke="#f9694a" stroke-width="2.3"/><circle cx="295.95" cy="557.42" r="0.9" fill="#f9694a"/><polygon points="296.98,553.26 301.31,555.76 301.31,560.76 296.98,563.26 292.65,560.76 292.65,555.76" fill="none" stroke="#f9694a" stroke-width="2.3"/><circle cx="296.98" cy="558.26" r="0.9" fill="#f9694a"/><polygon points="298.01,554.11 302.34,556.61 302.34,561.61 298.01,564.11 293.68,561.61 293.68,556.61" fill="none" stroke="#f9694a" stroke-width="2.3"/><circle cx="298.01" cy="559.11" r="0.9" fill="#f9694a"/><polygon points="299.05,554.98 303.38,557.48 303.38,562.48 299.05,564.98 294.72,562.48 294.72,557.48" fill="none" stroke="#f9694a" stroke-width="2.3"/><circle cx="299.05" cy="559.98" r="0.9" fill="#f9694a"/><polygon points="300.08,555.87 304.41,558.37 304.41,563.37 300.08,565.87 295.75,563.37 295.75,558.37" fill="none" stroke="#f9694a" stroke-width="2.3"/><circle cx="300.08" cy="560.87" r="0.9" fill="#f9694a"/><polygon points="301.11,556.77 305.44,559.27 305.44,564.27 301.11,566.77 296.78,564.27 296.78,559.27" fill="none" stroke="#f9694a" stroke-width="2.3"/><circle cx="301.11" cy="561.77" r="0.9" fill="#f9694a"/><polygon points="302.14,557.68 306.47,560.18 306.47,565.18 302.14,567.68 297.81,565.18 297.81,560.18" fill="none" stroke="#f9694a" stroke-width="2.3"/><circle cx="302.14" cy="562.68" r="0.9" fill="#f9694a"/><polygon points="303.17,558.61 307.5,561.11 307.5,566.11 303.17,568.61 298.84,566.11 298.84,561.11" fill="none" stroke="#f9694a" stroke-width="2.3"/><circle cx="303.17" cy="563.61" r="0.9" fill="#f9694a"/><polygon points="304.21,559.56 308.54,562.06 308.54,567.06 304.21,569.56 299.88,567.06 299.88,562.06" fill="none" stroke="#f9694a" stroke-width="2.3"/><circle cx="304.21" cy="564.56" r="0.9" fill="#f9694a"/><polygon points="305.24,560.51 309.57,563.01 309.57,568.01 305.24,570.51 300.91,568.01 300.91,563.01" fill="none" stroke="#f9694a" stroke-width="2.3"/><circle cx="305.24" cy="565.51" r="0.9" fill="#f9694a"/><polygon points="306.27,561.48 310.6,563.98 310.6,568.98 306.27,571.48 301.94,568.98 301.94,563.98" fill="none" stroke="#f9694a" stroke-width="2.3"/><circle cx="306.27" cy="566.48" r="0.9" fill="#f9694a"/><polygon points="307.3,562.45 311.63,564.95 311.63,569.95 307.3,572.45 302.97,569.95 302.97,564.95" fill="none" stroke="#f9694a" stroke-width="2.3"/><circle cx="307.3" cy="567.45" r="0.9" fill="#f9694a"/><polygon points="308.33,563.44 312.66,565.94 312.66,570.94 308.33,573.44 304,570.94 304,565.94" fill="none" stroke="#f9694a" stroke-width="2.3"/><circle cx="308.33" cy="568.44" r="0.9" fill="#f9694a"/><polygon points="309.37,564.44 313.7,566.94 313.7,571.94 309.37,574.44 305.04,571.94 305.04,566.94" fill="none" stroke="#f9694a" stroke-width="2.3"/><circle cx="309.37" cy="569.44" r="0.9" fill="#f9694a"/><polygon points="310.4,565.44 314.73,567.94 314.73,572.94 310.4,575.44 306.07,572.94 306.07,567.94" fill="none" stroke="#f9694a" stroke-width="2.3"/><circle cx="310.4" cy="570.44" r="0.9" fill="#f9694a"/><polygon points="311.43,566.45 315.76,568.95 315.76,573.95 311.43,576.45 307.1,573.95 307.1,568.95" fill="none" stroke="#f9694a" stroke-width="2.3"/><circle cx="311.43" cy="571.45" r="0.9" fill="#f9694a"/><polygon points="312.46,567.47 316.79,569.97 316.79,574.97 312.46,577.47 308.13,574.97 308.13,569.97" fill="none" stroke="#f9694a" stroke-width="2.3"/><circle cx="312.46" cy="572.47" r="0.9" fill="#f9694a"/><polygon points="313.49,568.5 317.82,571 317.82,576 313.49,578.5 309.16,576 309.16,571" fill="none" stroke="#f9694a" stroke-width="2.3"/><circle cx="313.49" cy="573.5" r="0.9" fill="#f9694a"/><polygon points="314.53,569.53 318.86,572.03 318.86,577.03 314.53,579.53 310.2,577.03 310.2,572.03" fill="none" stroke="#f9694a" stroke-width="2.3"/><circle cx="314.53" cy="574.53" r="0.9" fill="#f9694a"/><polygon points="315.56,570.56 319.89,573.06 319.89,578.06 315.56,580.56 311.23,578.06 311.23,573.06" fill="none" stroke="#f9694a" stroke-width="2.3"/><circle cx="315.56" cy="575.56" r="0.9" fill="#f9694a"/><polygon points="316.59,571.6 320.92,574.1 320.92,579.1 316.59,581.6 312.26,579.1 312.26,574.1" fill="none" stroke="#f9694a" stroke-width="2.3"/><circle cx="316.59" cy="576.6" r="0.9" fill="#f9694a"/><polygon points="317.62,572.64 321.95,575.14 321.95,580.14 317.62,582.64 313.29,580.14 313.29,575.14" fill="none" stroke="#f9694a" stroke-width="2.3"/><circle cx="317.62" cy="577.64" r="0.9" fill="#f9694a"/><polygon points="318.65,573.69 322.98,576.19 322.98,581.19 318.65,583.69 314.32,581.19 314.32,576.19" fill="none" stroke="#f9694a" stroke-width="2.3"/><circle cx="318.65" cy="578.69" r="0.9" fill="#f9694a"/><polygon points="319.69,574.73 324.02,577.23 324.02,582.23 319.69,584.73 315.36,582.23 315.36,577.23" fill="none" stroke="#f9694a" stroke-width="2.3"/><circle cx="319.69" cy="579.73" r="0.9" fill="#f9694a"/><polygon points="320.72,575.78 325.05,578.28 325.05,583.28 320.72,585.78 316.39,583.28 316.39,578.28" fill="none" stroke="#f9694a" stroke-width="2.3"/><circle cx="320.72" cy="580.78" r="0.9" fill="#f9694a"/><polygon points="321.75,576.83 326.08,579.33 326.08,584.33 321.75,586.83 317.42,584.33 317.42,579.33" fill="none" stroke="#f9694a" stroke-width="2.3"/><circle cx="321.75" cy="581.83" r="0.9" fill="#f9694a"/><polygon points="322.78,577.88 327.11,580.38 327.11,585.38 322.78,587.88 318.45,585.38 318.45,580.38" fill="none" stroke="#f9694a" stroke-width="2.3"/><circle cx="322.78" cy="582.88" r="0.9" fill="#f9694a"/><polygon points="323.81,578.95 328.14,581.45 328.14,586.45 323.81,588.95 319.48,586.45 319.48,581.45" fill="none" stroke="#f9694a" stroke-width="2.3"/><circle cx="323.81" cy="583.95" r="0.9" fill="#f9694a"/><polygon points="324.85,580.03 329.18,582.53 329.18,587.53 324.85,590.03 320.52,587.53 320.52,582.53" fill="none" stroke="#f9694a" stroke-width="2.3"/><circle cx="324.85" cy="585.03" r="0.9" fill="#f9694a"/><polygon points="325.88,581.13 330.21,583.63 330.21,588.63 325.88,591.13 321.55,588.63 321.55,583.63" fill="none" stroke="#f9694a" stroke-width="2.3"/><circle cx="325.88" cy="586.13" r="0.9" fill="#f9694a"/><polygon points="326.91,582.24 331.24,584.74 331.24,589.74 326.91,592.24 322.58,589.74 322.58,584.74" fill="none" stroke="#f9694a" stroke-width="2.3"/><circle cx="326.91" cy="587.24" r="0.9" fill="#f9694a"/><polygon points="327.94,583.37 332.27,585.87 332.27,590.87 327.94,593.37 323.61,590.87 323.61,585.87" fill="none" stroke="#f9694a" stroke-width="2.3"/><circle cx="327.94" cy="588.37" r="0.9" fill="#f9694a"/><polygon points="328.97,584.52 333.3,587.02 333.3,592.02 328.97,594.52 324.64,592.02 324.64,587.02" fill="none" stroke="#f9694a" stroke-width="2.3"/><circle cx="328.97" cy="589.52" r="0.9" fill="#f9694a"/><polygon points="330.01,585.69 334.34,588.19 334.34,593.19 330.01,595.69 325.68,593.19 325.68,588.19" fill="none" stroke="#f9694a" stroke-width="2.3"/><circle cx="330.01" cy="590.69" r="0.9" fill="#f9694a"/><polygon points="331.04,586.89 335.37,589.39 335.37,594.39 331.04,596.89 326.71,594.39 326.71,589.39" fill="none" stroke="#f9694a" stroke-width="2.3"/><circle cx="331.04" cy="591.89" r="0.9" fill="#f9694a"/><polygon points="332.07,588.12 336.4,590.62 336.4,595.62 332.07,598.12 327.74,595.62 327.74,590.62" fill="none" stroke="#f9694a" stroke-width="2.3"/><circle cx="332.07" cy="593.12" r="0.9" fill="#f9694a"/><polygon points="333.1,589.38 337.43,591.88 337.43,596.88 333.1,599.38 328.77,596.88 328.77,591.88" fill="none" stroke="#f9694a" stroke-width="2.3"/><circle cx="333.1" cy="594.38" r="0.9" fill="#f9694a"/><polygon points="334.13,590.67 338.46,593.17 338.46,598.17 334.13,600.67 329.8,598.17 329.8,593.17" fill="none" stroke="#f9694a" stroke-width="2.3"/><circle cx="334.13" cy="595.67" r="0.9" fill="#f9694a"/><polygon points="335.17,592 339.5,594.5 339.5,599.5 335.17,602 330.84,599.5 330.84,594.5" fill="none" stroke="#f9694a" stroke-width="2.3"/><circle cx="335.17" cy="597" r="0.9" fill="#f9694a"/><polygon points="336.2,593.36 340.53,595.86 340.53,600.86 336.2,603.36 331.87,600.86 331.87,595.86" fill="none" stroke="#f9694a" stroke-width="2.3"/><circle cx="336.2" cy="598.36" r="0.9" fill="#f9694a"/><polygon points="337.23,594.73 341.56,597.23 341.56,602.23 337.23,604.73 332.9,602.23 332.9,597.23" fill="none" stroke="#f9694a" stroke-width="2.3"/><circle cx="337.23" cy="599.73" r="0.9" fill="#f9694a"/><polygon points="338.26,596.06 342.59,598.56 342.59,603.56 338.26,606.06 333.93,603.56 333.93,598.56" fill="none" stroke="#f9694a" stroke-width="2.3"/><circle cx="338.26" cy="601.06" r="0.9" fill="#f9694a"/><polygon points="339.29,597.38 343.62,599.88 343.62,604.88 339.29,607.38 334.96,604.88 334.96,599.88" fill="none" stroke="#f9694a" stroke-width="2.3"/><circle cx="339.29" cy="602.38" r="0.9" fill="#f9694a"/><polygon points="340.33,598.71 344.66,601.21 344.66,606.21 340.33,608.71 336,606.21 336,601.21" fill="none" stroke="#f9694a" stroke-width="2.3"/><circle cx="340.33" cy="603.71" r="0.9" fill="#f9694a"/><polygon points="341.36,600.1 345.69,602.6 345.69,607.6 341.36,610.1 337.03,607.6 337.03,602.6" fill="none" stroke="#f9694a" stroke-width="2.3"/><circle cx="341.36" cy="605.1" r="0.9" fill="#f9694a"/><polygon points="342.39,601.58 346.72,604.08 346.72,609.08 342.39,611.58 338.06,609.08 338.06,604.08" fill="none" stroke="#f9694a" stroke-width="2.3"/><circle cx="342.39" cy="606.58" r="0.9" fill="#f9694a"/><polygon points="343.42,603.17 347.75,605.67 347.75,610.67 343.42,613.17 339.09,610.67 339.09,605.67" fill="none" stroke="#f9694a" stroke-width="2.3"/><circle cx="343.42" cy="608.17" r="0.9" fill="#f9694a"/><polygon points="344.45,604.92 348.78,607.42 348.78,612.42 344.45,614.92 340.12,612.42 340.12,607.42" fill="none" stroke="#f9694a" stroke-width="2.3"/><circle cx="344.45" cy="609.92" r="0.9" fill="#f9694a"/><polygon points="345.49,606.85 349.82,609.35 349.82,614.35 345.49,616.85 341.16,614.35 341.16,609.35" fill="none" stroke="#f9694a" stroke-width="2.3"/><circle cx="345.49" cy="611.85" r="0.9" fill="#f9694a"/><polygon points="346.52,609 350.85,611.5 350.85,616.5 346.52,619 342.19,616.5 342.19,611.5" fill="none" stroke="#f9694a" stroke-width="2.3"/><circle cx="346.52" cy="614" r="0.9" fill="#f9694a"/><polygon points="347.55,611.41 351.88,613.91 351.88,618.91 347.55,621.41 343.22,618.91 343.22,613.91" fill="none" stroke="#f9694a" stroke-width="2.3"/><circle cx="347.55" cy="616.41" r="0.9" fill="#f9694a"/><polygon points="348.58,614.27 352.91,616.77 352.91,621.77 348.58,624.27 344.25,621.77 344.25,616.77" fill="none" stroke="#f9694a" stroke-width="2.3"/><circle cx="348.58" cy="619.27" r="0.9" fill="#f9694a"/><polygon points="349.61,618.44 353.94,620.94 353.94,625.94 349.61,628.44 345.28,625.94 345.28,620.94" fill="none" stroke="#f9694a" stroke-width="2.3"/><circle cx="349.61" cy="623.44" r="0.9" fill="#f9694a"/><polygon points="350.65,623.51 354.98,626.01 354.98,631.01 350.65,633.51 346.32,631.01 346.32,626.01" fill="none" stroke="#f9694a" stroke-width="2.3"/><circle cx="350.65" cy="628.51" r="0.9" fill="#f9694a"/><polygon points="351.68,628.83 356.01,631.33 356.01,636.33 351.68,638.83 347.35,636.33 347.35,631.33" fill="none" stroke="#f9694a" stroke-width="2.3"/><circle cx="351.68" cy="633.83" r="0.9" fill="#f9694a"/><polygon points="351.95,647.21 356.28,649.71 356.28,654.71 351.95,657.21 347.62,654.71 347.62,649.71" fill="none" stroke="#f9694a" stroke-width="2.3"/><circle cx="351.95" cy="652.21" r="0.9" fill="#f9694a"/><polygon points="360.58,661.05 364.91,663.55 364.91,668.55 360.58,671.05 356.25,668.55 356.25,663.55" fill="none" stroke="#f9694a" stroke-width="2.3"/><circle cx="360.58" cy="666.05" r="0.9" fill="#f9694a"/><polygon points="368.07,672.77 372.4,675.27 372.4,680.27 368.07,682.77 363.74,680.27 363.74,675.27" fill="none" stroke="#f9694a" stroke-width="2.3"/><circle cx="368.07" cy="677.77" r="0.9" fill="#f9694a"/><polygon points="374.66,683.07 378.99,685.57 378.99,690.57 374.66,693.07 370.33,690.57 370.33,685.57" fill="none" stroke="#f9694a" stroke-width="2.3"/><circle cx="374.66" cy="688.07" r="0.9" fill="#f9694a"/><polygon points="380.57,690.42 384.9,692.92 384.9,697.92 380.57,700.42 376.24,697.92 376.24,692.92" fill="none" stroke="#f9694a" stroke-width="2.3"/><circle cx="380.57" cy="695.42" r="0.9" fill="#f9694a"/><polygon points="385.91,696.25 390.24,698.75 390.24,703.75 385.91,706.25 381.58,703.75 381.58,698.75" fill="none" stroke="#f9694a" stroke-width="2.3"/><circle cx="385.91" cy="701.25" r="0.9" fill="#f9694a"/><polygon points="390.78,701.21 395.11,703.71 395.11,708.71 390.78,711.21 386.45,708.71 386.45,703.71" fill="none" stroke="#f9694a" stroke-width="2.3"/><circle cx="390.78" cy="706.21" r="0.9" fill="#f9694a"/><polygon points="395.27,705.37 399.6,707.87 399.6,712.87 395.27,715.37 390.94,712.87 390.94,707.87" fill="none" stroke="#f9694a" stroke-width="2.3"/><circle cx="395.27" cy="710.37" r="0.9" fill="#f9694a"/><polygon points="399.42,708.78 403.75,711.28 403.75,716.28 399.42,718.78 395.09,716.28 395.09,711.28" fill="none" stroke="#f9694a" stroke-width="2.3"/><circle cx="399.42" cy="713.78" r="0.9" fill="#f9694a"/><polygon points="403.28,711.66 407.61,714.16 407.61,719.16 403.28,721.66 398.95,719.16 398.95,714.16" fill="none" stroke="#f9694a" stroke-width="2.3"/><circle cx="403.28" cy="716.66" r="0.9" fill="#f9694a"/><polygon points="406.9,714.22 411.23,716.72 411.23,721.72 406.9,724.22 402.57,721.72 402.57,716.72" fill="none" stroke="#f9694a" stroke-width="2.3"/><circle cx="406.9" cy="719.22" r="0.9" fill="#f9694a"/><polygon points="410.3,716.48 414.63,718.98 414.63,723.98 410.3,726.48 405.96,723.98 405.96,718.98" fill="none" stroke="#f9694a" stroke-width="2.3"/><circle cx="410.3" cy="721.48" r="0.9" fill="#f9694a"/><polygon points="413.5,718.46 417.83,720.96 417.83,725.96 413.5,728.46 409.17,725.96 409.17,720.96" fill="none" stroke="#f9694a" stroke-width="2.3"/><circle cx="413.5" cy="723.46" r="0.9" fill="#f9694a"/><polygon points="416.53,720.17 420.86,722.67 420.86,727.67 416.53,730.17 412.2,727.67 412.2,722.67" fill="none" stroke="#f9694a" stroke-width="2.3"/><circle cx="416.53" cy="725.17" r="0.9" fill="#f9694a"/><polygon points="419.4,721.65 423.73,724.15 423.73,729.15 419.4,731.65 415.07,729.15 415.07,724.15" fill="none" stroke="#f9694a" stroke-width="2.3"/><circle cx="419.4" cy="726.65" r="0.9" fill="#f9694a"/><polygon points="422.13,722.9 426.46,725.4 426.46,730.4 422.13,732.9 417.8,730.4 417.8,725.4" fill="none" stroke="#f9694a" stroke-width="2.3"/><circle cx="422.13" cy="727.9" r="0.9" fill="#f9694a"/></g>
<path d="M71.23 780.24V783.43M66.23 780.24h10M66.23 783.43h10M75.1 780.21V783.4M70.1 780.21h10M70.1 783.4h10M78.97 780.11V783.3M73.97 780.11h10M73.97 783.3h10M82.84 779.95V783.15M77.84 779.95h10M77.84 783.15h10M86.71 779.73V782.94M81.71 779.73h10M81.71 782.94h10M90.58 779.46V782.67M85.58 779.46h10M85.58 782.67h10M94.45 779.12V782.35M89.45 779.12h10M89.45 782.35h10M98.32 778.73V781.98M93.32 778.73h10M93.32 781.98h10M102.19 778.29V781.55M97.19 778.29h10M97.19 781.55h10M106.06 777.8V781.08M101.06 777.8h10M101.06 781.08h10M109.93 777.26V780.56M104.93 777.26h10M104.93 780.56h10M113.8 776.68V779.99M108.8 776.68h10M108.8 779.99h10M117.67 776.05V779.38M112.67 776.05h10M112.67 779.38h10M121.54 775.37V778.73M116.54 775.37h10M116.54 778.73h10M125.41 774.54V777.93M120.41 774.54h10M120.41 777.93h10M129.28 773.07V776.51M124.28 773.07h10M124.28 776.51h10M133.15 771.09V774.6M128.15 771.09h10M128.15 774.6h10M137.02 768.78V772.37M132.02 768.78h10M132.02 772.37h10M140.89 766.36V770.03M135.89 766.36h10M135.89 770.03h10M144.76 764.01V767.76M139.76 764.01h10M139.76 767.76h10M148.63 761.68V765.52M143.63 761.68h10M143.63 765.52h10M152.5 759.22V763.14M147.5 759.22h10M147.5 763.14h10M156.37 756.63V760.64M151.37 756.63h10M151.37 760.64h10M160.24 753.9V758M155.24 753.9h10M155.24 758h10M164.11 751.01V755.22M159.11 751.01h10M159.11 755.22h10M167.98 747.99V752.3M162.98 747.99h10M162.98 752.3h10M171.85 744.78V749.2M166.85 744.78h10M166.85 749.2h10M175.72 741.06V745.61M170.72 741.06h10M170.72 745.61h10M179.59 736.48V741.19M174.59 736.48h10M174.59 741.19h10M183.46 730.91V735.81M178.46 730.91h10M178.46 735.81h10M185.78 727.17V732.21M180.78 727.17h10M180.78 732.21h10M188.11 723.2V728.38M183.11 723.2h10M183.11 728.38h10M190.43 719.05V724.37M185.43 719.05h10M185.43 724.37h10M192.75 714.76V720.22M187.75 714.76h10M187.75 720.22h10M195.07 710.37V715.99M190.07 710.37h10M190.07 715.99h10M197.39 705.95V711.72M192.39 705.95h10M192.39 711.72h10M199.72 701.48V707.41M194.72 701.48h10M194.72 707.41h10M202.04 696.77V702.87M197.04 696.77h10M197.04 702.87h10M204.36 691.82V698.09M199.36 691.82h10M199.36 698.09h10M206.68 686.69V693.13M201.68 686.69h10M201.68 693.13h10M209 681.41V688.04M204 681.41h10M204 688.04h10M211.33 676.05V682.87M206.33 676.05h10M206.33 682.87h10M213.65 670.65V677.65M208.65 670.65h10M208.65 677.65h10M215.97 665.26V672.46M210.97 665.26h10M210.97 672.46h10M218.29 659.94V667.32M213.29 659.94h10M213.29 667.32h10M220.61 654.7V662.26M215.61 654.7h10M215.61 662.26h10M222.94 649.21V656.96M217.94 649.21h10M217.94 656.96h10M225.26 643.58V651.52M220.26 643.58h10M220.26 651.52h10M227.58 638.04V646.18M222.58 638.04h10M222.58 646.18h10M229.9 632.85V641.17M224.9 632.85h10M224.9 641.17h10M232.22 628.27V636.75M227.22 628.27h10M227.22 636.75h10M234.55 624.41V633.02M229.55 624.41h10M229.55 633.02h10M236.87 620.9V629.64M231.87 620.9h10M231.87 629.64h10M239.19 617.67V626.52M234.19 617.67h10M234.19 626.52h10M241.51 614.66V623.61M236.51 614.66h10M236.51 623.61h10M243.83 611.81V620.86M238.83 611.81h10M238.83 620.86h10M246.16 609.07V618.22M241.16 609.07h10M241.16 618.22h10M248.48 606.39V615.63M243.48 606.39h10M243.48 615.63h10M250.8 603.69V613.02M245.8 603.69h10M245.8 613.02h10M253.12 600.8V610.23M248.12 600.8h10M248.12 610.23h10M255.44 597.85V607.39M250.44 597.85h10M250.44 607.39h10M257.77 595.01V604.64M252.77 595.01h10M252.77 604.64h10M260.09 592.43V602.15M255.09 592.43h10M255.09 602.15h10M262.41 590.28V600.08M257.41 590.28h10M257.41 600.08h10M264.73 588.72V598.57M259.73 588.72h10M259.73 598.57h10M267.05 587.85V597.73M262.05 587.85h10M262.05 597.73h10M269.38 587.18V597.09M264.38 587.18h10M264.38 597.09h10M271.7 586.59V596.51M266.7 586.59h10M266.7 596.51h10M274.02 586.08V596.02M269.02 586.08h10M269.02 596.02h10M276.34 585.67V595.63M271.34 585.67h10M271.34 595.63h10M278.66 585.39V595.36M273.66 585.39h10M273.66 595.36h10M280.99 585.25V595.23M275.99 585.25h10M275.99 595.23h10M283.31 585.35V595.32M278.31 585.35h10M278.31 595.32h10M285.63 585.99V595.94M280.63 585.99h10M280.63 595.94h10M287.95 587.14V597.05M282.95 587.14h10M282.95 597.05h10M290.27 588.71V598.57M285.27 588.71h10M285.27 598.57h10M292.6 590.62V600.41M287.6 590.62h10M287.6 600.41h10M294.92 592.78V602.5M289.92 592.78h10M289.92 602.5h10M297.24 595.11V604.74M292.24 595.11h10M292.24 604.74h10M299.56 597.52V607.07M294.56 597.52h10M294.56 607.07h10M301.88 599.93V609.39M296.88 599.93h10M296.88 609.39h10M304.21 602.24V611.63M299.21 602.24h10M299.21 611.63h10M306.53 604.42V613.73M301.53 604.42h10M301.53 613.73h10M308.85 606.71V615.94M303.85 606.71h10M303.85 615.94h10M311.17 609.14V618.29M306.17 609.14h10M306.17 618.29h10M313.49 611.7V620.75M308.49 611.7h10M308.49 620.75h10M315.82 614.34V623.3M310.82 614.34h10M310.82 623.3h10M318.14 617.06V625.93M313.14 617.06h10M313.14 625.93h10M320.46 619.82V628.59M315.46 619.82h10M315.46 628.59h10M322.78 622.6V631.27M317.78 622.6h10M317.78 631.27h10M325.1 625.37V633.95M320.1 625.37h10M320.1 633.95h10M327.43 628.11V636.59M322.43 628.11h10M322.43 636.59h10M329.75 630.79V639.18M324.75 630.79h10M324.75 639.18h10M332.07 633.47V641.77M327.07 633.47h10M327.07 641.77h10M334.39 636.16V644.36M329.39 636.16h10M329.39 644.36h10M336.71 638.86V646.97M331.71 638.86h10M331.71 646.97h10M339.04 641.56V649.58M334.04 641.56h10M334.04 649.58h10M341.36 644.28V652.2M336.36 644.28h10M336.36 652.2h10M343.68 647.01V654.84M338.68 647.01h10M338.68 654.84h10M346 649.75V657.48M341 649.75h10M341 657.48h10M348.32 652.5V660.14M343.32 652.5h10M343.32 660.14h10M350.65 655.27V662.8M345.65 655.27h10M345.65 662.8h10M351.95 679.45V687.39M346.95 679.45h10M346.95 687.39h10M360.58 686.04V693.79M355.58 686.04h10M355.58 693.79h10M368.07 692.05V699.64M363.07 692.05h10M363.07 699.64h10M374.66 698.22V705.63M369.66 698.22h10M369.66 705.63h10M380.57 701.03V708.37M375.57 701.03h10M375.57 708.37h10M385.91 702.91V710.2M380.91 702.91h10M380.91 710.2h10M390.78 704.51V711.75M385.78 704.51h10M385.78 711.75h10M395.27 706.02V713.22M390.27 706.02h10M390.27 713.22h10M399.42 707.37V714.53M394.42 707.37h10M394.42 714.53h10M403.28 708.59V715.72M398.28 708.59h10M398.28 715.72h10M406.9 709.68V716.78M401.9 709.68h10M401.9 716.78h10M410.3 710.66V717.73M405.3 710.66h10M405.3 717.73h10M413.5 711.54V718.59M408.5 711.54h10M408.5 718.59h10M416.53 712.33V719.35M411.53 712.33h10M411.53 719.35h10M419.4 713.04V720.04M414.4 713.04h10M414.4 720.04h10M422.13 713.67V720.66M417.13 713.67h10M417.13 720.66h10" stroke="#2166ac" stroke-width="1" fill="none" shape-rendering="crispEdges"/>
<g shape-rendering="crispEdges"><circle cx="71.23" cy="781.83" r="3.8" fill="none" stroke="#2166ac" stroke-width="2.3"/><circle cx="71.23" cy="781.83" r="0.9" fill="#2166ac"/><circle cx="75.1" cy="781.8" r="3.8" fill="none" stroke="#2166ac" stroke-width="2.3"/><circle cx="75.1" cy="781.8" r="0.9" fill="#2166ac"/><circle cx="78.97" cy="781.71" r="3.8" fill="none" stroke="#2166ac" stroke-width="2.3"/><circle cx="78.97" cy="781.71" r="0.9" fill="#2166ac"/><circle cx="82.84" cy="781.55" r="3.8" fill="none" stroke="#2166ac" stroke-width="2.3"/><circle cx="82.84" cy="781.55" r="0.9" fill="#2166ac"/><circle cx="86.71" cy="781.34" r="3.8" fill="none" stroke="#2166ac" stroke-width="2.3"/><circle cx="86.71" cy="781.34" r="0.9" fill="#2166ac"/><circle cx="90.58" cy="781.06" r="3.8" fill="none" stroke="#2166ac" stroke-width="2.3"/><circle cx="90.58" cy="781.06" r="0.9" fill="#2166ac"/><circle cx="94.45" cy="780.74" r="3.8" fill="none" stroke="#2166ac" stroke-width="2.3"/><circle cx="94.45" cy="780.74" r="0.9" fill="#2166ac"/><circle cx="98.32" cy="780.36" r="3.8" fill="none" stroke="#2166ac" stroke-width="2.3"/><circle cx="98.32" cy="780.36" r="0.9" fill="#2166ac"/><circle cx="102.19" cy="779.92" r="3.8" fill="none" stroke="#2166ac" stroke-width="2.3"/><circle cx="102.19" cy="779.92" r="0.9" fill="#2166ac"/><circle cx="106.06" cy="779.44" r="3.8" fill="none" stroke="#2166ac" stroke-width="2.3"/><circle cx="106.06" cy="779.44" r="0.9" fill="#2166ac"/><circle cx="109.93" cy="778.91" r="3.8" fill="none" stroke="#2166ac" stroke-width="2.3"/><circle cx="109.93" cy="778.91" r="0.9" fill="#2166ac"/><circle cx="113.8" cy="778.33" r="3.8" fill="none" stroke="#2166ac" stroke-width="2.3"/><circle cx="113.8" cy="778.33" r="0.9" fill="#2166ac"/><circle cx="117.67" cy="777.72" r="3.8" fill="none" stroke="#2166ac" stroke-width="2.3"/><circle cx="117.67" cy="777.72" r="0.9" fill="#2166ac"/><circle cx="121.54" cy="777.05" r="3.8" fill="none" stroke="#2166ac" stroke-width="2.3"/><circle cx="121.54" cy="777.05" r="0.9" fill="#2166ac"/><circle cx="125.41" cy="776.24" r="3.8" fill="none" stroke="#2166ac" stroke-width="2.3"/><circle cx="125.41" cy="776.24" r="0.9" fill="#2166ac"/><circle cx="129.28" cy="774.79" r="3.8" fill="none" stroke="#2166ac" stroke-width="2.3"/><circle cx="129.28" cy="774.79" r="0.9" fill="#2166ac"/><circle cx="133.15" cy="772.84" r="3.8" fill="none" stroke="#2166ac" stroke-width="2.3"/><circle cx="133.15" cy="772.84" r="0.9" fill="#2166ac"/><circle cx="137.02" cy="770.58" r="3.8" fill="none" stroke="#2166ac" stroke-width="2.3"/><circle cx="137.02" cy="770.58" r="0.9" fill="#2166ac"/><circle cx="140.89" cy="768.2" r="3.8" fill="none" stroke="#2166ac" stroke-width="2.3"/><circle cx="140.89" cy="768.2" r="0.9" fill="#2166ac"/><circle cx="144.76" cy="765.89" r="3.8" fill="none" stroke="#2166ac" stroke-width="2.3"/><circle cx="144.76" cy="765.89" r="0.9" fill="#2166ac"/><circle cx="148.63" cy="763.6" r="3.8" fill="none" stroke="#2166ac" stroke-width="2.3"/><circle cx="148.63" cy="763.6" r="0.9" fill="#2166ac"/><circle cx="152.5" cy="761.18" r="3.8" fill="none" stroke="#2166ac" stroke-width="2.3"/><circle cx="152.5" cy="761.18" r="0.9" fill="#2166ac"/><circle cx="156.37" cy="758.64" r="3.8" fill="none" stroke="#2166ac" stroke-width="2.3"/><circle cx="156.37" cy="758.64" r="0.9" fill="#2166ac"/><circle cx="160.24" cy="755.95" r="3.8" fill="none" stroke="#2166ac" stroke-width="2.3"/><circle cx="160.24" cy="755.95" r="0.9" fill="#2166ac"/><circle cx="164.11" cy="753.12" r="3.8" fill="none" stroke="#2166ac" stroke-width="2.3"/><circle cx="164.11" cy="753.12" r="0.9" fill="#2166ac"/><circle cx="167.98" cy="750.15" r="3.8" fill="none" stroke="#2166ac" stroke-width="2.3"/><circle cx="167.98" cy="750.15" r="0.9" fill="#2166ac"/><circle cx="171.85" cy="746.99" r="3.8" fill="none" stroke="#2166ac" stroke-width="2.3"/><circle cx="171.85" cy="746.99" r="0.9" fill="#2166ac"/><circle cx="175.72" cy="743.34" r="3.8" fill="none" stroke="#2166ac" stroke-width="2.3"/><circle cx="175.72" cy="743.34" r="0.9" fill="#2166ac"/><circle cx="179.59" cy="738.84" r="3.8" fill="none" stroke="#2166ac" stroke-width="2.3"/><circle cx="179.59" cy="738.84" r="0.9" fill="#2166ac"/><circle cx="183.46" cy="733.36" r="3.8" fill="none" stroke="#2166ac" stroke-width="2.3"/><circle cx="183.46" cy="733.36" r="0.9" fill="#2166ac"/><circle cx="185.78" cy="729.69" r="3.8" fill="none" stroke="#2166ac" stroke-width="2.3"/><circle cx="185.78" cy="729.69" r="0.9" fill="#2166ac"/><circle cx="188.11" cy="725.79" r="3.8" fill="none" stroke="#2166ac" stroke-width="2.3"/><circle cx="188.11" cy="725.79" r="0.9" fill="#2166ac"/><circle cx="190.43" cy="721.71" r="3.8" fill="none" stroke="#2166ac" stroke-width="2.3"/><circle cx="190.43" cy="721.71" r="0.9" fill="#2166ac"/><circle cx="192.75" cy="717.49" r="3.8" fill="none" stroke="#2166ac" stroke-width="2.3"/><circle cx="192.75" cy="717.49" r="0.9" fill="#2166ac"/><circle cx="195.07" cy="713.18" r="3.8" fill="none" stroke="#2166ac" stroke-width="2.3"/><circle cx="195.07" cy="713.18" r="0.9" fill="#2166ac"/><circle cx="197.39" cy="708.84" r="3.8" fill="none" stroke="#2166ac" stroke-width="2.3"/><circle cx="197.39" cy="708.84" r="0.9" fill="#2166ac"/><circle cx="199.72" cy="704.45" r="3.8" fill="none" stroke="#2166ac" stroke-width="2.3"/><circle cx="199.72" cy="704.45" r="0.9" fill="#2166ac"/><circle cx="202.04" cy="699.82" r="3.8" fill="none" stroke="#2166ac" stroke-width="2.3"/><circle cx="202.04" cy="699.82" r="0.9" fill="#2166ac"/><circle cx="204.36" cy="694.96" r="3.8" fill="none" stroke="#2166ac" stroke-width="2.3"/><circle cx="204.36" cy="694.96" r="0.9" fill="#2166ac"/><circle cx="206.68" cy="689.91" r="3.8" fill="none" stroke="#2166ac" stroke-width="2.3"/><circle cx="206.68" cy="689.91" r="0.9" fill="#2166ac"/><circle cx="209" cy="684.73" r="3.8" fill="none" stroke="#2166ac" stroke-width="2.3"/><circle cx="209" cy="684.73" r="0.9" fill="#2166ac"/><circle cx="211.33" cy="679.46" r="3.8" fill="none" stroke="#2166ac" stroke-width="2.3"/><circle cx="211.33" cy="679.46" r="0.9" fill="#2166ac"/><circle cx="213.65" cy="674.15" r="3.8" fill="none" stroke="#2166ac" stroke-width="2.3"/><circle cx="213.65" cy="674.15" r="0.9" fill="#2166ac"/><circle cx="215.97" cy="668.86" r="3.8" fill="none" stroke="#2166ac" stroke-width="2.3"/><circle cx="215.97" cy="668.86" r="0.9" fill="#2166ac"/><circle cx="218.29" cy="663.63" r="3.8" fill="none" stroke="#2166ac" stroke-width="2.3"/><circle cx="218.29" cy="663.63" r="0.9" fill="#2166ac"/><circle cx="220.61" cy="658.48" r="3.8" fill="none" stroke="#2166ac" stroke-width="2.3"/><circle cx="220.61" cy="658.48" r="0.9" fill="#2166ac"/><circle cx="222.94" cy="653.09" r="3.8" fill="none" stroke="#2166ac" stroke-width="2.3"/><circle cx="222.94" cy="653.09" r="0.9" fill="#2166ac"/><circle cx="225.26" cy="647.55" r="3.8" fill="none" stroke="#2166ac" stroke-width="2.3"/><circle cx="225.26" cy="647.55" r="0.9" fill="#2166ac"/><circle cx="227.58" cy="642.11" r="3.8" fill="none" stroke="#2166ac" stroke-width="2.3"/><circle cx="227.58" cy="642.11" r="0.9" fill="#2166ac"/><circle cx="229.9" cy="637.01" r="3.8" fill="none" stroke="#2166ac" stroke-width="2.3"/><circle cx="229.9" cy="637.01" r="0.9" fill="#2166ac"/><circle cx="232.22" cy="632.51" r="3.8" fill="none" stroke="#2166ac" stroke-width="2.3"/><circle cx="232.22" cy="632.51" r="0.9" fill="#2166ac"/><circle cx="234.55" cy="628.72" r="3.8" fill="none" stroke="#2166ac" stroke-width="2.3"/><circle cx="234.55" cy="628.72" r="0.9" fill="#2166ac"/><circle cx="236.87" cy="625.27" r="3.8" fill="none" stroke="#2166ac" stroke-width="2.3"/><circle cx="236.87" cy="625.27" r="0.9" fill="#2166ac"/><circle cx="239.19" cy="622.09" r="3.8" fill="none" stroke="#2166ac" stroke-width="2.3"/><circle cx="239.19" cy="622.09" r="0.9" fill="#2166ac"/><circle cx="241.51" cy="619.13" r="3.8" fill="none" stroke="#2166ac" stroke-width="2.3"/><circle cx="241.51" cy="619.13" r="0.9" fill="#2166ac"/><circle cx="243.83" cy="616.33" r="3.8" fill="none" stroke="#2166ac" stroke-width="2.3"/><circle cx="243.83" cy="616.33" r="0.9" fill="#2166ac"/><circle cx="246.16" cy="613.64" r="3.8" fill="none" stroke="#2166ac" stroke-width="2.3"/><circle cx="246.16" cy="613.64" r="0.9" fill="#2166ac"/><circle cx="248.48" cy="611.01" r="3.8" fill="none" stroke="#2166ac" stroke-width="2.3"/><circle cx="248.48" cy="611.01" r="0.9" fill="#2166ac"/><circle cx="250.8" cy="608.35" r="3.8" fill="none" stroke="#2166ac" stroke-width="2.3"/><circle cx="250.8" cy="608.35" r="0.9" fill="#2166ac"/><circle cx="253.12" cy="605.51" r="3.8" fill="none" stroke="#2166ac" stroke-width="2.3"/><circle cx="253.12" cy="605.51" r="0.9" fill="#2166ac"/><circle cx="255.44" cy="602.62" r="3.8" fill="none" stroke="#2166ac" stroke-width="2.3"/><circle cx="255.44" cy="602.62" r="0.9" fill="#2166ac"/><circle cx="257.77" cy="599.82" r="3.8" fill="none" stroke="#2166ac" stroke-width="2.3"/><circle cx="257.77" cy="599.82" r="0.9" fill="#2166ac"/><circle cx="260.09" cy="597.29" r="3.8" fill="none" stroke="#2166ac" stroke-width="2.3"/><circle cx="260.09" cy="597.29" r="0.9" fill="#2166ac"/><circle cx="262.41" cy="595.18" r="3.8" fill="none" stroke="#2166ac" stroke-width="2.3"/><circle cx="262.41" cy="595.18" r="0.9" fill="#2166ac"/><circle cx="264.73" cy="593.64" r="3.8" fill="none" stroke="#2166ac" stroke-width="2.3"/><circle cx="264.73" cy="593.64" r="0.9" fill="#2166ac"/><circle cx="267.05" cy="592.79" r="3.8" fill="none" stroke="#2166ac" stroke-width="2.3"/><circle cx="267.05" cy="592.79" r="0.9" fill="#2166ac"/><circle cx="269.38" cy="592.13" r="3.8" fill="none" stroke="#2166ac" stroke-width="2.3"/><circle cx="269.38" cy="592.13" r="0.9" fill="#2166ac"/><circle cx="271.7" cy="591.55" r="3.8" fill="none" stroke="#2166ac" stroke-width="2.3"/><circle cx="271.7" cy="591.55" r="0.9" fill="#2166ac"/><circle cx="274.02" cy="591.05" r="3.8" fill="none" stroke="#2166ac" stroke-width="2.3"/><circle cx="274.02" cy="591.05" r="0.9" fill="#2166ac"/><circle cx="276.34" cy="590.65" r="3.8" fill="none" stroke="#2166ac" stroke-width="2.3"/><circle cx="276.34" cy="590.65" r="0.9" fill="#2166ac"/><circle cx="278.66" cy="590.38" r="3.8" fill="none" stroke="#2166ac" stroke-width="2.3"/><circle cx="278.66" cy="590.38" r="0.9" fill="#2166ac"/><circle cx="280.99" cy="590.24" r="3.8" fill="none" stroke="#2166ac" stroke-width="2.3"/><circle cx="280.99" cy="590.24" r="0.9" fill="#2166ac"/><circle cx="283.31" cy="590.33" r="3.8" fill="none" stroke="#2166ac" stroke-width="2.3"/><circle cx="283.31" cy="590.33" r="0.9" fill="#2166ac"/><circle cx="285.63" cy="590.96" r="3.8" fill="none" stroke="#2166ac" stroke-width="2.3"/><circle cx="285.63" cy="590.96" r="0.9" fill="#2166ac"/><circle cx="287.95" cy="592.09" r="3.8" fill="none" stroke="#2166ac" stroke-width="2.3"/><circle cx="287.95" cy="592.09" r="0.9" fill="#2166ac"/><circle cx="290.27" cy="593.64" r="3.8" fill="none" stroke="#2166ac" stroke-width="2.3"/><circle cx="290.27" cy="593.64" r="0.9" fill="#2166ac"/><circle cx="292.6" cy="595.52" r="3.8" fill="none" stroke="#2166ac" stroke-width="2.3"/><circle cx="292.6" cy="595.52" r="0.9" fill="#2166ac"/><circle cx="294.92" cy="597.64" r="3.8" fill="none" stroke="#2166ac" stroke-width="2.3"/><circle cx="294.92" cy="597.64" r="0.9" fill="#2166ac"/><circle cx="297.24" cy="599.93" r="3.8" fill="none" stroke="#2166ac" stroke-width="2.3"/><circle cx="297.24" cy="599.93" r="0.9" fill="#2166ac"/><circle cx="299.56" cy="602.29" r="3.8" fill="none" stroke="#2166ac" stroke-width="2.3"/><circle cx="299.56" cy="602.29" r="0.9" fill="#2166ac"/><circle cx="301.88" cy="604.66" r="3.8" fill="none" stroke="#2166ac" stroke-width="2.3"/><circle cx="301.88" cy="604.66" r="0.9" fill="#2166ac"/><circle cx="304.21" cy="606.93" r="3.8" fill="none" stroke="#2166ac" stroke-width="2.3"/><circle cx="304.21" cy="606.93" r="0.9" fill="#2166ac"/><circle cx="306.53" cy="609.08" r="3.8" fill="none" stroke="#2166ac" stroke-width="2.3"/><circle cx="306.53" cy="609.08" r="0.9" fill="#2166ac"/><circle cx="308.85" cy="611.32" r="3.8" fill="none" stroke="#2166ac" stroke-width="2.3"/><circle cx="308.85" cy="611.32" r="0.9" fill="#2166ac"/><circle cx="311.17" cy="613.71" r="3.8" fill="none" stroke="#2166ac" stroke-width="2.3"/><circle cx="311.17" cy="613.71" r="0.9" fill="#2166ac"/><circle cx="313.49" cy="616.22" r="3.8" fill="none" stroke="#2166ac" stroke-width="2.3"/><circle cx="313.49" cy="616.22" r="0.9" fill="#2166ac"/><circle cx="315.82" cy="618.82" r="3.8" fill="none" stroke="#2166ac" stroke-width="2.3"/><circle cx="315.82" cy="618.82" r="0.9" fill="#2166ac"/><circle cx="318.14" cy="621.49" r="3.8" fill="none" stroke="#2166ac" stroke-width="2.3"/><circle cx="318.14" cy="621.49" r="0.9" fill="#2166ac"/><circle cx="320.46" cy="624.2" r="3.8" fill="none" stroke="#2166ac" stroke-width="2.3"/><circle cx="320.46" cy="624.2" r="0.9" fill="#2166ac"/><circle cx="322.78" cy="626.93" r="3.8" fill="none" stroke="#2166ac" stroke-width="2.3"/><circle cx="322.78" cy="626.93" r="0.9" fill="#2166ac"/><circle cx="325.1" cy="629.66" r="3.8" fill="none" stroke="#2166ac" stroke-width="2.3"/><circle cx="325.1" cy="629.66" r="0.9" fill="#2166ac"/><circle cx="327.43" cy="632.35" r="3.8" fill="none" stroke="#2166ac" stroke-width="2.3"/><circle cx="327.43" cy="632.35" r="0.9" fill="#2166ac"/><circle cx="329.75" cy="634.99" r="3.8" fill="none" stroke="#2166ac" stroke-width="2.3"/><circle cx="329.75" cy="634.99" r="0.9" fill="#2166ac"/><circle cx="332.07" cy="637.62" r="3.8" fill="none" stroke="#2166ac" stroke-width="2.3"/><circle cx="332.07" cy="637.62" r="0.9" fill="#2166ac"/><circle cx="334.39" cy="640.26" r="3.8" fill="none" stroke="#2166ac" stroke-width="2.3"/><circle cx="334.39" cy="640.26" r="0.9" fill="#2166ac"/><circle cx="336.71" cy="642.91" r="3.8" fill="none" stroke="#2166ac" stroke-width="2.3"/><circle cx="336.71" cy="642.91" r="0.9" fill="#2166ac"/><circle cx="339.04" cy="645.57" r="3.8" fill="none" stroke="#2166ac" stroke-width="2.3"/><circle cx="339.04" cy="645.57" r="0.9" fill="#2166ac"/><circle cx="341.36" cy="648.24" r="3.8" fill="none" stroke="#2166ac" stroke-width="2.3"/><circle cx="341.36" cy="648.24" r="0.9" fill="#2166ac"/><circle cx="343.68" cy="650.93" r="3.8" fill="none" stroke="#2166ac" stroke-width="2.3"/><circle cx="343.68" cy="650.93" r="0.9" fill="#2166ac"/><circle cx="346" cy="653.62" r="3.8" fill="none" stroke="#2166ac" stroke-width="2.3"/><circle cx="346" cy="653.62" r="0.9" fill="#2166ac"/><circle cx="348.32" cy="656.32" r="3.8" fill="none" stroke="#2166ac" stroke-width="2.3"/><circle cx="348.32" cy="656.32" r="0.9" fill="#2166ac"/><circle cx="350.65" cy="659.03" r="3.8" fill="none" stroke="#2166ac" stroke-width="2.3"/><circle cx="350.65" cy="659.03" r="0.9" fill="#2166ac"/><circle cx="351.95" cy="683.42" r="3.8" fill="none" stroke="#2166ac" stroke-width="2.3"/><circle cx="351.95" cy="683.42" r="0.9" fill="#2166ac"/><circle cx="360.58" cy="689.91" r="3.8" fill="none" stroke="#2166ac" stroke-width="2.3"/><circle cx="360.58" cy="689.91" r="0.9" fill="#2166ac"/><circle cx="368.07" cy="695.84" r="3.8" fill="none" stroke="#2166ac" stroke-width="2.3"/><circle cx="368.07" cy="695.84" r="0.9" fill="#2166ac"/><circle cx="374.66" cy="701.92" r="3.8" fill="none" stroke="#2166ac" stroke-width="2.3"/><circle cx="374.66" cy="701.92" r="0.9" fill="#2166ac"/><circle cx="380.57" cy="704.7" r="3.8" fill="none" stroke="#2166ac" stroke-width="2.3"/><circle cx="380.57" cy="704.7" r="0.9" fill="#2166ac"/><circle cx="385.91" cy="706.56" r="3.8" fill="none" stroke="#2166ac" stroke-width="2.3"/><circle cx="385.91" cy="706.56" r="0.9" fill="#2166ac"/><circle cx="390.78" cy="708.13" r="3.8" fill="none" stroke="#2166ac" stroke-width="2.3"/><circle cx="390.78" cy="708.13" r="0.9" fill="#2166ac"/><circle cx="395.27" cy="709.62" r="3.8" fill="none" stroke="#2166ac" stroke-width="2.3"/><circle cx="395.27" cy="709.62" r="0.9" fill="#2166ac"/><circle cx="399.42" cy="710.95" r="3.8" fill="none" stroke="#2166ac" stroke-width="2.3"/><circle cx="399.42" cy="710.95" r="0.9" fill="#2166ac"/><circle cx="403.28" cy="712.15" r="3.8" fill="none" stroke="#2166ac" stroke-width="2.3"/><circle cx="403.28" cy="712.15" r="0.9" fill="#2166ac"/><circle cx="406.9" cy="713.23" r="3.8" fill="none" stroke="#2166ac" stroke-width="2.3"/><circle cx="406.9" cy="713.23" r="0.9" fill="#2166ac"/><circle cx="410.3" cy="714.2" r="3.8" fill="none" stroke="#2166ac" stroke-width="2.3"/><circle cx="410.3" cy="714.2" r="0.9" fill="#2166ac"/><circle cx="413.5" cy="715.06" r="3.8" fill="none" stroke="#2166ac" stroke-width="2.3"/><circle cx="413.5" cy="715.06" r="0.9" fill="#2166ac"/><circle cx="416.53" cy="715.84" r="3.8" fill="none" stroke="#2166ac" stroke-width="2.3"/><circle cx="416.53" cy="715.84" r="0.9" fill="#2166ac"/><circle cx="419.4" cy="716.54" r="3.8" fill="none" stroke="#2166ac" stroke-width="2.3"/><circle cx="419.4" cy="716.54" r="0.9" fill="#2166ac"/><circle cx="422.13" cy="717.16" r="3.8" fill="none" stroke="#2166ac" stroke-width="2.3"/><circle cx="422.13" cy="717.16" r="0.9" fill="#2166ac"/></g>
<path d="M71.23 781.17V783.35M64.73 781.17h13M64.73 783.35h13M75.1 780.69V782.89M68.6 780.69h13M68.6 782.89h13M78.97 780.18V782.4M72.47 780.18h13M72.47 782.4h13M82.84 779.67V781.9M76.34 779.67h13M76.34 781.9h13M86.71 779.13V781.39M80.21 779.13h13M80.21 781.39h13M90.58 778.58V780.85M84.08 778.58h13M84.08 780.85h13M94.45 778.01V780.31M87.95 778.01h13M87.95 780.31h13M98.32 777.43V779.75M91.82 777.43h13M91.82 779.75h13M102.19 776.84V779.18M95.69 776.84h13M95.69 779.18h13M106.06 776.28V778.64M99.56 776.28h13M99.56 778.64h13M109.93 775.76V778.13M103.43 775.76h13M103.43 778.13h13M113.8 775.19V777.59M107.3 775.19h13M107.3 777.59h13M117.67 774.53V776.95M111.17 774.53h13M111.17 776.95h13M121.54 773.69V776.15M115.04 773.69h13M115.04 776.15h13M125.41 772.53V775.02M118.91 772.53h13M118.91 775.02h13M129.28 770.62V773.18M122.78 770.62h13M122.78 773.18h13M133.15 768.09V770.75M126.65 768.09h13M126.65 770.75h13M137.02 765.14V767.9M130.52 765.14h13M130.52 767.9h13M140.89 761.94V764.81M134.39 761.94h13M134.39 764.81h13M144.76 758.68V761.68M138.26 758.68h13M138.26 761.68h13M148.63 755.28V758.39M142.13 755.28h13M142.13 758.39h13M152.5 751.53V754.78M146 751.53h13M146 754.78h13M156.37 747.41V750.82M149.87 747.41h13M149.87 750.82h13M160.24 742.92V746.48M153.74 742.92h13M153.74 746.48h13M164.11 738.02V741.76M157.61 738.02h13M157.61 741.76h13M167.98 732.71V736.64M161.48 732.71h13M161.48 736.64h13M171.85 726.89V731.03M165.35 726.89h13M165.35 731.03h13M175.72 720.22V724.61M169.22 720.22h13M169.22 724.61h13M179.59 712.35V717.02M173.09 712.35h13M173.09 717.02h13M183.46 702.72V707.74M176.96 702.72h13M176.96 707.74h13M185.08 697.74V702.94M178.58 697.74h13M178.58 702.94h13M186.69 692.17V697.57M180.19 692.17h13M180.19 697.57h13M188.3 686.09V691.71M181.8 686.09h13M181.8 691.71h13M189.91 679.55V685.4M183.41 679.55h13M183.41 685.4h13M191.53 672.62V678.72M185.03 672.62h13M185.03 678.72h13M193.14 665.36V671.73M186.64 665.36h13M186.64 671.73h13M194.75 657.84V664.48M188.25 657.84h13M188.25 664.48h13M196.36 650.12V657.04M189.86 650.12h13M189.86 657.04h13M197.98 642.06V649.28M191.48 642.06h13M191.48 649.28h13M199.59 632.96V640.5M193.09 632.96h13M193.09 640.5h13M201.2 623.01V630.91M194.7 623.01h13M194.7 630.91h13M202.81 612.56V620.84M196.31 612.56h13M196.31 620.84h13M204.43 601.94V610.6M197.93 601.94h13M197.93 610.6h13M206.04 591.48V600.52M199.54 591.48h13M199.54 600.52h13M207.65 581.52V590.92M201.15 581.52h13M201.15 590.92h13M209.26 572.35V582.08M202.76 572.35h13M202.76 582.08h13M210.88 563.83V573.88M204.38 563.83h13M204.38 573.88h13M212.49 555.66V565.99M205.99 555.66h13M205.99 565.99h13M214.1 547.51V558.14M207.6 547.51h13M207.6 558.14h13M215.71 539.08V550.01M209.21 539.08h13M209.21 550.01h13M217.33 530.05V541.31M210.83 530.05h13M210.83 541.31h13M218.94 520.12V531.75M212.44 520.12h13M212.44 531.75h13M220.55 509.27V521.29M214.05 509.27h13M214.05 521.29h13M222.16 497.63V510.06M215.66 497.63h13M215.66 510.06h13M223.78 485.31V498.19M217.28 485.31h13M217.28 498.19h13M225.39 472.43V485.77M218.89 472.43h13M218.89 485.77h13M227 459.1V472.93M220.5 459.1h13M220.5 472.93h13M228.61 445.04V459.38M222.11 445.04h13M222.11 459.38h13M230.23 429.82V444.71M223.73 429.82h13M223.73 444.71h13M231.84 414.42V429.87M225.34 414.42h13M225.34 429.87h13M233.45 399.32V415.31M226.95 399.32h13M226.95 415.31h13M235.06 384.07V400.62M228.56 384.07h13M228.56 400.62h13M236.68 368.82V385.91M230.18 368.82h13M230.18 385.91h13M238.29 353.7V371.34M231.79 353.7h13M231.79 371.34h13M239.9 338.88V357.06M233.4 338.88h13M233.4 357.06h13M241.51 324.5V343.19M235.01 324.5h13M235.01 343.19h13M243.13 309.89V329.12M236.63 309.89h13M236.63 329.12h13M244.74 294.55V314.33M238.24 294.55h13M238.24 314.33h13M246.35 279.43V299.76M239.85 279.43h13M239.85 299.76h13M247.96 265.52V286.35M241.46 265.52h13M241.46 286.35h13M249.58 253.79V275.04M243.08 253.79h13M243.08 275.04h13M251.19 245.21V266.78M244.69 245.21h13M244.69 266.78h13M252.8 238.83V260.62M246.3 238.83h13M246.3 260.62h13M254.41 233.23V255.23M247.91 233.23h13M247.91 255.23h13M256.03 228.3V250.48M249.53 228.3h13M249.53 250.48h13M257.64 223.94V246.27M251.14 223.94h13M251.14 246.27h13M259.25 220.03V242.5M252.75 220.03h13M252.75 242.5h13M260.86 216.46V239.06M254.36 216.46h13M254.36 239.06h13M262.48 213.11V235.84M255.98 213.11h13M255.98 235.84h13M264.09 209.84V232.68M257.59 209.84h13M257.59 232.68h13M265.7 206.31V229.28M259.2 206.31h13M259.2 229.28h13M267.31 203.44V226.51M260.81 203.44h13M260.81 226.51h13M268.93 202.37V225.49M262.43 202.37h13M262.43 225.49h13M270.54 202.67V225.77M264.04 202.67h13M264.04 225.77h13M272.15 203.43V226.51M265.65 203.43h13M265.65 226.51h13M273.76 204.58V227.61M267.26 204.58h13M267.26 227.61h13M275.38 206.05V229.03M268.88 206.05h13M268.88 229.03h13M276.99 207.77V230.68M270.49 207.77h13M270.49 230.68h13M278.6 209.66V232.51M272.1 209.66h13M272.1 232.51h13M280.21 211.71V234.48M273.71 211.71h13M273.71 234.48h13M281.83 214.58V237.25M275.33 214.58h13M275.33 237.25h13M283.44 218.38V240.91M276.94 218.38h13M276.94 240.91h13M285.05 222.96V245.33M278.55 222.96h13M278.55 245.33h13M286.66 228.18V250.36M280.16 228.18h13M280.16 250.36h13M288.28 233.89V255.86M281.78 233.89h13M281.78 255.86h13M289.89 239.96V261.71M283.39 239.96h13M283.39 261.71h13M291.5 247.23V268.72M285 247.23h13M285 268.72h13M293.11 256.19V277.36M286.61 256.19h13M286.61 277.36h13M294.73 266.3V287.1M288.23 266.3h13M288.23 287.1h13M296.34 277.03V297.44M289.84 277.03h13M289.84 297.44h13M297.95 287.84V307.86M291.45 287.84h13M291.45 307.86h13M299.56 298.2V317.85M293.06 298.2h13M293.06 317.85h13M301.18 307.67V326.97M294.68 307.67h13M294.68 326.97h13M302.79 316.77V335.74M296.29 316.77h13M296.29 335.74h13M304.4 325.74V344.4M297.9 325.74h13M297.9 344.4h13M306.01 334.61V352.94M299.51 334.61h13M299.51 352.94h13M307.63 343.39V361.4M301.13 343.39h13M301.13 361.4h13M309.24 352.08V369.78M302.74 352.08h13M302.74 369.78h13M310.85 360.7V378.09M304.35 360.7h13M304.35 378.09h13M312.46 369.27V386.34M305.96 369.27h13M305.96 386.34h13M314.08 377.79V394.56M307.58 377.79h13M307.58 394.56h13M315.69 386.28V402.74M309.19 386.28h13M309.19 402.74h13M317.3 394.76V410.91M310.8 394.76h13M310.8 410.91h13M318.91 403.25V419.1M312.41 403.25h13M312.41 419.1h13M320.53 411.77V427.31M314.03 411.77h13M314.03 427.31h13M322.14 420.26V435.5M315.64 420.26h13M315.64 435.5h13M323.75 428.71V443.64M317.25 428.71h13M317.25 443.64h13M325.36 437.07V451.7M318.86 437.07h13M318.86 451.7h13M326.98 445.31V459.64M320.48 445.31h13M320.48 459.64h13M328.59 453.39V467.43M322.09 453.39h13M322.09 467.43h13M330.2 461.28V475.03M323.7 461.28h13M323.7 475.03h13M331.81 468.93V482.41M325.31 468.93h13M325.31 482.41h13M333.43 476.3V489.51M326.93 476.3h13M326.93 489.51h13M335.04 483.4V496.35M328.54 483.4h13M328.54 496.35h13M336.65 490.29V502.99M330.15 490.29h13M330.15 502.99h13M338.26 497.04V509.5M331.76 497.04h13M331.76 509.5h13M339.88 503.72V515.93M333.38 503.72h13M333.38 515.93h13M341.49 510.38V522.35M334.99 510.38h13M334.99 522.35h13M343.1 517.09V528.82M336.6 517.09h13M336.6 528.82h13M344.71 523.92V535.41M338.21 523.92h13M338.21 535.41h13M346.33 530.94V542.17M339.83 530.94h13M339.83 542.17h13M347.94 538.19V549.16M341.44 538.19h13M341.44 549.16h13M349.55 545.79V556.49M343.05 545.79h13M343.05 556.49h13M351.16 553.68V564.09M344.66 553.68h13M344.66 564.09h13M351.95 563.57V578.75M345.45 563.57h13M345.45 578.75h13M360.58 586.33V600.57M354.08 586.33h13M354.08 600.57h13M368.07 607.82V621.15M361.57 607.82h13M361.57 621.15h13M374.66 625.99V638.58M368.16 625.99h13M368.16 638.58h13M380.57 639.27V651.3M374.07 639.27h13M374.07 651.3h13M385.91 651.49V663.01M379.41 651.49h13M379.41 663.01h13M390.78 661.06V670.16M384.28 661.06h13M384.28 670.16h13M395.27 667.44V676.38M388.77 667.44h13M388.77 676.38h13M399.42 672.05V680.87M392.92 672.05h13M392.92 680.87h13M403.28 676.01V684.73M396.78 676.01h13M396.78 684.73h13M406.9 679.46V688.09M400.4 679.46h13M400.4 688.09h13M410.3 682.39V690.95M403.8 682.39h13M403.8 690.95h13M413.5 684.81V693.31M407 684.81h13M407 693.31h13M416.53 686.72V695.17M410.03 686.72h13M410.03 695.17h13M419.4 688.15V696.56M412.9 688.15h13M412.9 696.56h13M422.13 689.11V697.5M415.63 689.11h13M415.63 697.5h13" stroke="#999999" stroke-width="1" fill="none" shape-rendering="crispEdges"/>
<g shape-rendering="crispEdges"><rect x="68.23" y="779.26" width="6" height="6" fill="none" stroke="#999999" stroke-width="2.0"/><circle cx="71.23" cy="782.26" r="0.8" fill="#999999"/><rect x="72.1" y="778.79" width="6" height="6" fill="none" stroke="#999999" stroke-width="2.0"/><circle cx="75.1" cy="781.79" r="0.8" fill="#999999"/><rect x="75.97" y="778.29" width="6" height="6" fill="none" stroke="#999999" stroke-width="2.0"/><circle cx="78.97" cy="781.29" r="0.8" fill="#999999"/><rect x="79.84" y="777.78" width="6" height="6" fill="none" stroke="#999999" stroke-width="2.0"/><circle cx="82.84" cy="780.78" r="0.8" fill="#999999"/><rect x="83.71" y="777.26" width="6" height="6" fill="none" stroke="#999999" stroke-width="2.0"/><circle cx="86.71" cy="780.26" r="0.8" fill="#999999"/><rect x="87.58" y="776.72" width="6" height="6" fill="none" stroke="#999999" stroke-width="2.0"/><circle cx="90.58" cy="779.72" r="0.8" fill="#999999"/><rect x="91.45" y="776.16" width="6" height="6" fill="none" stroke="#999999" stroke-width="2.0"/><circle cx="94.45" cy="779.16" r="0.8" fill="#999999"/><rect x="95.32" y="775.59" width="6" height="6" fill="none" stroke="#999999" stroke-width="2.0"/><circle cx="98.32" cy="778.59" r="0.8" fill="#999999"/><rect x="99.19" y="775.01" width="6" height="6" fill="none" stroke="#999999" stroke-width="2.0"/><circle cx="102.19" cy="778.01" r="0.8" fill="#999999"/><rect x="103.06" y="774.46" width="6" height="6" fill="none" stroke="#999999" stroke-width="2.0"/><circle cx="106.06" cy="777.46" r="0.8" fill="#999999"/><rect x="106.93" y="773.94" width="6" height="6" fill="none" stroke="#999999" stroke-width="2.0"/><circle cx="109.93" cy="776.94" r="0.8" fill="#999999"/><rect x="110.8" y="773.39" width="6" height="6" fill="none" stroke="#999999" stroke-width="2.0"/><circle cx="113.8" cy="776.39" r="0.8" fill="#999999"/><rect x="114.67" y="772.74" width="6" height="6" fill="none" stroke="#999999" stroke-width="2.0"/><circle cx="117.67" cy="775.74" r="0.8" fill="#999999"/><rect x="118.54" y="771.92" width="6" height="6" fill="none" stroke="#999999" stroke-width="2.0"/><circle cx="121.54" cy="774.92" r="0.8" fill="#999999"/><rect x="122.41" y="770.77" width="6" height="6" fill="none" stroke="#999999" stroke-width="2.0"/><circle cx="125.41" cy="773.77" r="0.8" fill="#999999"/><rect x="126.28" y="768.9" width="6" height="6" fill="none" stroke="#999999" stroke-width="2.0"/><circle cx="129.28" cy="771.9" r="0.8" fill="#999999"/><rect x="130.15" y="766.42" width="6" height="6" fill="none" stroke="#999999" stroke-width="2.0"/><circle cx="133.15" cy="769.42" r="0.8" fill="#999999"/><rect x="134.02" y="763.52" width="6" height="6" fill="none" stroke="#999999" stroke-width="2.0"/><circle cx="137.02" cy="766.52" r="0.8" fill="#999999"/><rect x="137.89" y="760.38" width="6" height="6" fill="none" stroke="#999999" stroke-width="2.0"/><circle cx="140.89" cy="763.38" r="0.8" fill="#999999"/><rect x="141.76" y="757.18" width="6" height="6" fill="none" stroke="#999999" stroke-width="2.0"/><circle cx="144.76" cy="760.18" r="0.8" fill="#999999"/><rect x="145.63" y="753.84" width="6" height="6" fill="none" stroke="#999999" stroke-width="2.0"/><circle cx="148.63" cy="756.84" r="0.8" fill="#999999"/><rect x="149.34" y="749.99" width="6.32" height="6.32" fill="none" stroke="#999999" stroke-width="2.0"/><circle cx="152.5" cy="753.15" r="0.8" fill="#999999"/><rect x="153.03" y="745.77" width="6.69" height="6.69" fill="none" stroke="#999999" stroke-width="2.0"/><circle cx="156.37" cy="749.11" r="0.8" fill="#999999"/><rect x="156.7" y="741.16" width="7.08" height="7.08" fill="none" stroke="#999999" stroke-width="2.0"/><circle cx="160.24" cy="744.7" r="0.8" fill="#999999"/><rect x="160.36" y="736.14" width="7.5" height="7.5" fill="none" stroke="#999999" stroke-width="2.0"/><circle cx="164.11" cy="739.89" r="0.8" fill="#999999"/><rect x="164.01" y="730.7" width="7.95" height="7.95" fill="none" stroke="#999999" stroke-width="2.0"/><circle cx="167.98" cy="734.68" r="0.8" fill="#999999"/><rect x="167.64" y="724.75" width="8.43" height="8.43" fill="none" stroke="#999999" stroke-width="2.0"/><circle cx="171.85" cy="728.96" r="0.8" fill="#999999"/><rect x="171.25" y="717.94" width="8.95" height="8.95" fill="none" stroke="#999999" stroke-width="2.0"/><circle cx="175.72" cy="722.42" r="0.8" fill="#999999"/><rect x="175.09" y="710.18" width="9" height="9" fill="none" stroke="#999999" stroke-width="2.6"/><circle cx="179.59" cy="714.68" r="0.9" fill="#999999"/><rect x="178.96" y="700.73" width="9" height="9" fill="none" stroke="#999999" stroke-width="2.6"/><circle cx="183.46" cy="705.23" r="0.9" fill="#999999"/><rect x="180.58" y="695.84" width="9" height="9" fill="none" stroke="#999999" stroke-width="2.6"/><circle cx="185.08" cy="700.34" r="0.9" fill="#999999"/><rect x="182.19" y="690.37" width="9" height="9" fill="none" stroke="#999999" stroke-width="2.6"/><circle cx="186.69" cy="694.87" r="0.9" fill="#999999"/><rect x="183.8" y="684.4" width="9" height="9" fill="none" stroke="#999999" stroke-width="2.6"/><circle cx="188.3" cy="688.9" r="0.9" fill="#999999"/><rect x="185.41" y="677.98" width="9" height="9" fill="none" stroke="#999999" stroke-width="2.6"/><circle cx="189.91" cy="682.48" r="0.9" fill="#999999"/><rect x="187.03" y="671.17" width="9" height="9" fill="none" stroke="#999999" stroke-width="2.6"/><circle cx="191.53" cy="675.67" r="0.9" fill="#999999"/><rect x="188.64" y="664.04" width="9" height="9" fill="none" stroke="#999999" stroke-width="2.6"/><circle cx="193.14" cy="668.54" r="0.9" fill="#999999"/><rect x="190.25" y="656.66" width="9" height="9" fill="none" stroke="#999999" stroke-width="2.6"/><circle cx="194.75" cy="661.16" r="0.9" fill="#999999"/><rect x="191.86" y="649.08" width="9" height="9" fill="none" stroke="#999999" stroke-width="2.6"/><circle cx="196.36" cy="653.58" r="0.9" fill="#999999"/><rect x="193.48" y="641.17" width="9" height="9" fill="none" stroke="#999999" stroke-width="2.6"/><circle cx="197.98" cy="645.67" r="0.9" fill="#999999"/><rect x="195.09" y="632.23" width="9" height="9" fill="none" stroke="#999999" stroke-width="2.6"/><circle cx="199.59" cy="636.73" r="0.9" fill="#999999"/><rect x="196.7" y="622.46" width="9" height="9" fill="none" stroke="#999999" stroke-width="2.6"/><circle cx="201.2" cy="626.96" r="0.9" fill="#999999"/><rect x="198.31" y="612.2" width="9" height="9" fill="none" stroke="#999999" stroke-width="2.6"/><circle cx="202.81" cy="616.7" r="0.9" fill="#999999"/><rect x="199.93" y="601.77" width="9" height="9" fill="none" stroke="#999999" stroke-width="2.6"/><circle cx="204.43" cy="606.27" r="0.9" fill="#999999"/><rect x="201.54" y="591.5" width="9" height="9" fill="none" stroke="#999999" stroke-width="2.6"/><circle cx="206.04" cy="596" r="0.9" fill="#999999"/><rect x="203.15" y="581.72" width="9" height="9" fill="none" stroke="#999999" stroke-width="2.6"/><circle cx="207.65" cy="586.22" r="0.9" fill="#999999"/><rect x="204.76" y="572.72" width="9" height="9" fill="none" stroke="#999999" stroke-width="2.6"/><circle cx="209.26" cy="577.22" r="0.9" fill="#999999"/><rect x="206.38" y="564.35" width="9" height="9" fill="none" stroke="#999999" stroke-width="2.6"/><circle cx="210.88" cy="568.85" r="0.9" fill="#999999"/><rect x="207.99" y="556.33" width="9" height="9" fill="none" stroke="#999999" stroke-width="2.6"/><circle cx="212.49" cy="560.83" r="0.9" fill="#999999"/><rect x="209.6" y="548.32" width="9" height="9" fill="none" stroke="#999999" stroke-width="2.6"/><circle cx="214.1" cy="552.82" r="0.9" fill="#999999"/><rect x="211.21" y="540.04" width="9" height="9" fill="none" stroke="#999999" stroke-width="2.6"/><circle cx="215.71" cy="544.54" r="0.9" fill="#999999"/><rect x="212.83" y="531.18" width="9" height="9" fill="none" stroke="#999999" stroke-width="2.6"/><circle cx="217.33" cy="535.68" r="0.9" fill="#999999"/><rect x="214.44" y="521.43" width="9" height="9" fill="none" stroke="#999999" stroke-width="2.6"/><circle cx="218.94" cy="525.93" r="0.9" fill="#999999"/><rect x="216.05" y="510.78" width="9" height="9" fill="none" stroke="#999999" stroke-width="2.6"/><circle cx="220.55" cy="515.28" r="0.9" fill="#999999"/><rect x="217.66" y="499.35" width="9" height="9" fill="none" stroke="#999999" stroke-width="2.6"/><circle cx="222.16" cy="503.85" r="0.9" fill="#999999"/><rect x="219.28" y="487.25" width="9" height="9" fill="none" stroke="#999999" stroke-width="2.6"/><circle cx="223.78" cy="491.75" r="0.9" fill="#999999"/><rect x="220.89" y="474.6" width="9" height="9" fill="none" stroke="#999999" stroke-width="2.6"/><circle cx="225.39" cy="479.1" r="0.9" fill="#999999"/><rect x="222.5" y="461.51" width="9" height="9" fill="none" stroke="#999999" stroke-width="2.6"/><circle cx="227" cy="466.01" r="0.9" fill="#999999"/><rect x="224.11" y="447.71" width="9" height="9" fill="none" stroke="#999999" stroke-width="2.6"/><circle cx="228.61" cy="452.21" r="0.9" fill="#999999"/><rect x="225.73" y="432.76" width="9" height="9" fill="none" stroke="#999999" stroke-width="2.6"/><circle cx="230.23" cy="437.26" r="0.9" fill="#999999"/><rect x="227.34" y="417.65" width="9" height="9" fill="none" stroke="#999999" stroke-width="2.6"/><circle cx="231.84" cy="422.15" r="0.9" fill="#999999"/><rect x="228.95" y="402.82" width="9" height="9" fill="none" stroke="#999999" stroke-width="2.6"/><circle cx="233.45" cy="407.32" r="0.9" fill="#999999"/><rect x="230.56" y="387.85" width="9" height="9" fill="none" stroke="#999999" stroke-width="2.6"/><circle cx="235.06" cy="392.35" r="0.9" fill="#999999"/><rect x="232.18" y="372.87" width="9" height="9" fill="none" stroke="#999999" stroke-width="2.6"/><circle cx="236.68" cy="377.37" r="0.9" fill="#999999"/><rect x="233.79" y="358.02" width="9" height="9" fill="none" stroke="#999999" stroke-width="2.6"/><circle cx="238.29" cy="362.52" r="0.9" fill="#999999"/><rect x="235.4" y="343.47" width="9" height="9" fill="none" stroke="#999999" stroke-width="2.6"/><circle cx="239.9" cy="347.97" r="0.9" fill="#999999"/><rect x="237.01" y="329.35" width="9" height="9" fill="none" stroke="#999999" stroke-width="2.6"/><circle cx="241.51" cy="333.85" r="0.9" fill="#999999"/><rect x="238.63" y="315" width="9" height="9" fill="none" stroke="#999999" stroke-width="2.6"/><circle cx="243.13" cy="319.5" r="0.9" fill="#999999"/><rect x="240.24" y="299.94" width="9" height="9" fill="none" stroke="#999999" stroke-width="2.6"/><circle cx="244.74" cy="304.44" r="0.9" fill="#999999"/><rect x="241.85" y="285.1" width="9" height="9" fill="none" stroke="#999999" stroke-width="2.6"/><circle cx="246.35" cy="289.6" r="0.9" fill="#999999"/><rect x="243.46" y="271.44" width="9" height="9" fill="none" stroke="#999999" stroke-width="2.6"/><circle cx="247.96" cy="275.94" r="0.9" fill="#999999"/><rect x="245.08" y="259.92" width="9" height="9" fill="none" stroke="#999999" stroke-width="2.6"/><circle cx="249.58" cy="264.42" r="0.9" fill="#999999"/><rect x="246.69" y="251.49" width="9" height="9" fill="none" stroke="#999999" stroke-width="2.6"/><circle cx="251.19" cy="255.99" r="0.9" fill="#999999"/><rect x="248.3" y="245.22" width="9" height="9" fill="none" stroke="#999999" stroke-width="2.6"/><circle cx="252.8" cy="249.72" r="0.9" fill="#999999"/><rect x="249.91" y="239.73" width="9" height="9" fill="none" stroke="#999999" stroke-width="2.6"/><circle cx="254.41" cy="244.23" r="0.9" fill="#999999"/><rect x="251.53" y="234.89" width="9" height="9" fill="none" stroke="#999999" stroke-width="2.6"/><circle cx="256.03" cy="239.39" r="0.9" fill="#999999"/><rect x="253.14" y="230.61" width="9" height="9" fill="none" stroke="#999999" stroke-width="2.6"/><circle cx="257.64" cy="235.11" r="0.9" fill="#999999"/><rect x="254.75" y="226.76" width="9" height="9" fill="none" stroke="#999999" stroke-width="2.6"/><circle cx="259.25" cy="231.26" r="0.9" fill="#999999"/><rect x="256.36" y="223.26" width="9" height="9" fill="none" stroke="#999999" stroke-width="2.6"/><circle cx="260.86" cy="227.76" r="0.9" fill="#999999"/><rect x="257.98" y="219.97" width="9" height="9" fill="none" stroke="#999999" stroke-width="2.6"/><circle cx="262.48" cy="224.47" r="0.9" fill="#999999"/><rect x="259.59" y="216.76" width="9" height="9" fill="none" stroke="#999999" stroke-width="2.6"/><circle cx="264.09" cy="221.26" r="0.9" fill="#999999"/><rect x="261.2" y="213.3" width="9" height="9" fill="none" stroke="#999999" stroke-width="2.6"/><circle cx="265.7" cy="217.8" r="0.9" fill="#999999"/><rect x="262.81" y="210.48" width="9" height="9" fill="none" stroke="#999999" stroke-width="2.6"/><circle cx="267.31" cy="214.98" r="0.9" fill="#999999"/><rect x="264.43" y="209.43" width="9" height="9" fill="none" stroke="#999999" stroke-width="2.6"/><circle cx="268.93" cy="213.93" r="0.9" fill="#999999"/><rect x="266.04" y="209.72" width="9" height="9" fill="none" stroke="#999999" stroke-width="2.6"/><circle cx="270.54" cy="214.22" r="0.9" fill="#999999"/><rect x="267.65" y="210.47" width="9" height="9" fill="none" stroke="#999999" stroke-width="2.6"/><circle cx="272.15" cy="214.97" r="0.9" fill="#999999"/><rect x="269.26" y="211.6" width="9" height="9" fill="none" stroke="#999999" stroke-width="2.6"/><circle cx="273.76" cy="216.1" r="0.9" fill="#999999"/><rect x="270.88" y="213.04" width="9" height="9" fill="none" stroke="#999999" stroke-width="2.6"/><circle cx="275.38" cy="217.54" r="0.9" fill="#999999"/><rect x="272.49" y="214.73" width="9" height="9" fill="none" stroke="#999999" stroke-width="2.6"/><circle cx="276.99" cy="219.23" r="0.9" fill="#999999"/><rect x="274.1" y="216.58" width="9" height="9" fill="none" stroke="#999999" stroke-width="2.6"/><circle cx="278.6" cy="221.08" r="0.9" fill="#999999"/><rect x="275.71" y="218.6" width="9" height="9" fill="none" stroke="#999999" stroke-width="2.6"/><circle cx="280.21" cy="223.1" r="0.9" fill="#999999"/><rect x="277.33" y="221.42" width="9" height="9" fill="none" stroke="#999999" stroke-width="2.6"/><circle cx="281.83" cy="225.92" r="0.9" fill="#999999"/><rect x="278.94" y="225.15" width="9" height="9" fill="none" stroke="#999999" stroke-width="2.6"/><circle cx="283.44" cy="229.65" r="0.9" fill="#999999"/><rect x="280.55" y="229.64" width="9" height="9" fill="none" stroke="#999999" stroke-width="2.6"/><circle cx="285.05" cy="234.14" r="0.9" fill="#999999"/><rect x="282.16" y="234.77" width="9" height="9" fill="none" stroke="#999999" stroke-width="2.6"/><circle cx="286.66" cy="239.27" r="0.9" fill="#999999"/><rect x="283.78" y="240.38" width="9" height="9" fill="none" stroke="#999999" stroke-width="2.6"/><circle cx="288.28" cy="244.88" r="0.9" fill="#999999"/><rect x="285.39" y="246.33" width="9" height="9" fill="none" stroke="#999999" stroke-width="2.6"/><circle cx="289.89" cy="250.83" r="0.9" fill="#999999"/><rect x="287" y="253.48" width="9" height="9" fill="none" stroke="#999999" stroke-width="2.6"/><circle cx="291.5" cy="257.98" r="0.9" fill="#999999"/><rect x="288.61" y="262.27" width="9" height="9" fill="none" stroke="#999999" stroke-width="2.6"/><circle cx="293.11" cy="266.77" r="0.9" fill="#999999"/><rect x="290.23" y="272.2" width="9" height="9" fill="none" stroke="#999999" stroke-width="2.6"/><circle cx="294.73" cy="276.7" r="0.9" fill="#999999"/><rect x="291.84" y="282.73" width="9" height="9" fill="none" stroke="#999999" stroke-width="2.6"/><circle cx="296.34" cy="287.23" r="0.9" fill="#999999"/><rect x="293.45" y="293.35" width="9" height="9" fill="none" stroke="#999999" stroke-width="2.6"/><circle cx="297.95" cy="297.85" r="0.9" fill="#999999"/><rect x="295.06" y="303.53" width="9" height="9" fill="none" stroke="#999999" stroke-width="2.6"/><circle cx="299.56" cy="308.03" r="0.9" fill="#999999"/><rect x="296.68" y="312.82" width="9" height="9" fill="none" stroke="#999999" stroke-width="2.6"/><circle cx="301.18" cy="317.32" r="0.9" fill="#999999"/><rect x="298.29" y="321.75" width="9" height="9" fill="none" stroke="#999999" stroke-width="2.6"/><circle cx="302.79" cy="326.25" r="0.9" fill="#999999"/><rect x="299.9" y="330.57" width="9" height="9" fill="none" stroke="#999999" stroke-width="2.6"/><circle cx="304.4" cy="335.07" r="0.9" fill="#999999"/><rect x="301.51" y="339.28" width="9" height="9" fill="none" stroke="#999999" stroke-width="2.6"/><circle cx="306.01" cy="343.78" r="0.9" fill="#999999"/><rect x="303.13" y="347.89" width="9" height="9" fill="none" stroke="#999999" stroke-width="2.6"/><circle cx="307.63" cy="352.39" r="0.9" fill="#999999"/><rect x="304.74" y="356.43" width="9" height="9" fill="none" stroke="#999999" stroke-width="2.6"/><circle cx="309.24" cy="360.93" r="0.9" fill="#999999"/><rect x="306.35" y="364.89" width="9" height="9" fill="none" stroke="#999999" stroke-width="2.6"/><circle cx="310.85" cy="369.39" r="0.9" fill="#999999"/><rect x="307.96" y="373.31" width="9" height="9" fill="none" stroke="#999999" stroke-width="2.6"/><circle cx="312.46" cy="377.81" r="0.9" fill="#999999"/><rect x="309.58" y="381.67" width="9" height="9" fill="none" stroke="#999999" stroke-width="2.6"/><circle cx="314.08" cy="386.17" r="0.9" fill="#999999"/><rect x="311.19" y="390.01" width="9" height="9" fill="none" stroke="#999999" stroke-width="2.6"/><circle cx="315.69" cy="394.51" r="0.9" fill="#999999"/><rect x="312.8" y="398.34" width="9" height="9" fill="none" stroke="#999999" stroke-width="2.6"/><circle cx="317.3" cy="402.84" r="0.9" fill="#999999"/><rect x="314.41" y="406.68" width="9" height="9" fill="none" stroke="#999999" stroke-width="2.6"/><circle cx="318.91" cy="411.18" r="0.9" fill="#999999"/><rect x="316.03" y="415.04" width="9" height="9" fill="none" stroke="#999999" stroke-width="2.6"/><circle cx="320.53" cy="419.54" r="0.9" fill="#999999"/><rect x="317.64" y="423.38" width="9" height="9" fill="none" stroke="#999999" stroke-width="2.6"/><circle cx="322.14" cy="427.88" r="0.9" fill="#999999"/><rect x="319.25" y="431.68" width="9" height="9" fill="none" stroke="#999999" stroke-width="2.6"/><circle cx="323.75" cy="436.18" r="0.9" fill="#999999"/><rect x="320.86" y="439.89" width="9" height="9" fill="none" stroke="#999999" stroke-width="2.6"/><circle cx="325.36" cy="444.39" r="0.9" fill="#999999"/><rect x="322.48" y="447.98" width="9" height="9" fill="none" stroke="#999999" stroke-width="2.6"/><circle cx="326.98" cy="452.48" r="0.9" fill="#999999"/><rect x="324.09" y="455.91" width="9" height="9" fill="none" stroke="#999999" stroke-width="2.6"/><circle cx="328.59" cy="460.41" r="0.9" fill="#999999"/><rect x="325.7" y="463.65" width="9" height="9" fill="none" stroke="#999999" stroke-width="2.6"/><circle cx="330.2" cy="468.15" r="0.9" fill="#999999"/><rect x="327.31" y="471.17" width="9" height="9" fill="none" stroke="#999999" stroke-width="2.6"/><circle cx="331.81" cy="475.67" r="0.9" fill="#999999"/><rect x="328.93" y="478.41" width="9" height="9" fill="none" stroke="#999999" stroke-width="2.6"/><circle cx="333.43" cy="482.91" r="0.9" fill="#999999"/><rect x="330.54" y="485.37" width="9" height="9" fill="none" stroke="#999999" stroke-width="2.6"/><circle cx="335.04" cy="489.87" r="0.9" fill="#999999"/><rect x="332.15" y="492.14" width="9" height="9" fill="none" stroke="#999999" stroke-width="2.6"/><circle cx="336.65" cy="496.64" r="0.9" fill="#999999"/><rect x="333.76" y="498.77" width="9" height="9" fill="none" stroke="#999999" stroke-width="2.6"/><circle cx="338.26" cy="503.27" r="0.9" fill="#999999"/><rect x="335.38" y="505.32" width="9" height="9" fill="none" stroke="#999999" stroke-width="2.6"/><circle cx="339.88" cy="509.82" r="0.9" fill="#999999"/><rect x="336.99" y="511.87" width="9" height="9" fill="none" stroke="#999999" stroke-width="2.6"/><circle cx="341.49" cy="516.37" r="0.9" fill="#999999"/><rect x="338.6" y="518.46" width="9" height="9" fill="none" stroke="#999999" stroke-width="2.6"/><circle cx="343.1" cy="522.96" r="0.9" fill="#999999"/><rect x="340.21" y="525.17" width="9" height="9" fill="none" stroke="#999999" stroke-width="2.6"/><circle cx="344.71" cy="529.67" r="0.9" fill="#999999"/><rect x="341.83" y="532.05" width="9" height="9" fill="none" stroke="#999999" stroke-width="2.6"/><circle cx="346.33" cy="536.55" r="0.9" fill="#999999"/><rect x="343.44" y="539.18" width="9" height="9" fill="none" stroke="#999999" stroke-width="2.6"/><circle cx="347.94" cy="543.68" r="0.9" fill="#999999"/><rect x="345.05" y="546.64" width="9" height="9" fill="none" stroke="#999999" stroke-width="2.6"/><circle cx="349.55" cy="551.14" r="0.9" fill="#999999"/><rect x="346.66" y="554.38" width="9" height="9" fill="none" stroke="#999999" stroke-width="2.6"/><circle cx="351.16" cy="558.88" r="0.9" fill="#999999"/><rect x="347.45" y="566.66" width="9" height="9" fill="none" stroke="#999999" stroke-width="2.6"/><circle cx="351.95" cy="571.16" r="0.9" fill="#999999"/><rect x="356.08" y="588.95" width="9" height="9" fill="none" stroke="#999999" stroke-width="2.6"/><circle cx="360.58" cy="593.45" r="0.9" fill="#999999"/><rect x="363.57" y="609.98" width="9" height="9" fill="none" stroke="#999999" stroke-width="2.6"/><circle cx="368.07" cy="614.48" r="0.9" fill="#999999"/><rect x="370.16" y="627.78" width="9" height="9" fill="none" stroke="#999999" stroke-width="2.6"/><circle cx="374.66" cy="632.28" r="0.9" fill="#999999"/><rect x="376.07" y="640.78" width="9" height="9" fill="none" stroke="#999999" stroke-width="2.6"/><circle cx="380.57" cy="645.28" r="0.9" fill="#999999"/><rect x="381.41" y="652.75" width="9" height="9" fill="none" stroke="#999999" stroke-width="2.6"/><circle cx="385.91" cy="657.25" r="0.9" fill="#999999"/><rect x="386.28" y="661.11" width="9" height="9" fill="none" stroke="#999999" stroke-width="2.6"/><circle cx="390.78" cy="665.61" r="0.9" fill="#999999"/><rect x="390.77" y="667.41" width="9" height="9" fill="none" stroke="#999999" stroke-width="2.6"/><circle cx="395.27" cy="671.91" r="0.9" fill="#999999"/><rect x="394.92" y="671.96" width="9" height="9" fill="none" stroke="#999999" stroke-width="2.6"/><circle cx="399.42" cy="676.46" r="0.9" fill="#999999"/><rect x="398.78" y="675.87" width="9" height="9" fill="none" stroke="#999999" stroke-width="2.6"/><circle cx="403.28" cy="680.37" r="0.9" fill="#999999"/><rect x="402.4" y="679.28" width="9" height="9" fill="none" stroke="#999999" stroke-width="2.6"/><circle cx="406.9" cy="683.78" r="0.9" fill="#999999"/><rect x="405.8" y="682.17" width="9" height="9" fill="none" stroke="#999999" stroke-width="2.6"/><circle cx="410.3" cy="686.67" r="0.9" fill="#999999"/><rect x="409" y="684.56" width="9" height="9" fill="none" stroke="#999999" stroke-width="2.6"/><circle cx="413.5" cy="689.06" r="0.9" fill="#999999"/><rect x="412.03" y="686.45" width="9" height="9" fill="none" stroke="#999999" stroke-width="2.6"/><circle cx="416.53" cy="690.95" r="0.9" fill="#999999"/><rect x="414.9" y="687.85" width="9" height="9" fill="none" stroke="#999999" stroke-width="2.6"/><circle cx="419.4" cy="692.35" r="0.9" fill="#999999"/><rect x="417.63" y="688.8" width="9" height="9" fill="none" stroke="#999999" stroke-width="2.6"/><circle cx="422.13" cy="693.3" r="0.9" fill="#999999"/></g>
</g>
<rect x="71.6" y="11.4" width="353.8" height="775.8" fill="none" stroke="#000" stroke-width="1.2"/>
<text x="61.5" y="793.8" font-size="16.5" text-anchor="end">0</text>
<text x="61.5" y="652.6" font-size="16.5" text-anchor="end">10</text>
<text x="61.5" y="511.4" font-size="16.5" text-anchor="end">20</text>
<text x="61.5" y="370.2" font-size="16.5" text-anchor="end">30</text>
<text x="61.5" y="229" font-size="16.5" text-anchor="end">40</text>
<text x="61.5" y="87.8" font-size="16.5" text-anchor="end">50</text>
<path d="M71.6 787.2h5 M71.6 646h5 M71.6 504.8h5 M71.6 363.6h5 M71.6 222.4h5 M71.6 81.2h5 M71.23 787.2v-3 M93.95 787.2v-3 M110.07 787.2v-3 M122.57 787.2v-3 M132.78 787.2v-3 M141.42 787.2v-3 M148.9 787.2v-3 M155.5 787.2v-3 M161.4 787.2v-5 M200.23 787.2v-3 M222.95 787.2v-3 M239.07 787.2v-3 M251.57 787.2v-3 M261.78 787.2v-3 M270.42 787.2v-3 M277.9 787.2v-3 M284.5 787.2v-3 M290.4 787.2v-5 M329.23 787.2v-3 M351.95 787.2v-3 M368.07 787.2v-3 M380.57 787.2v-3 M390.78 787.2v-3 M399.42 787.2v-3 M406.9 787.2v-3 M413.5 787.2v-3 M419.4 787.2v-5" stroke="#000" stroke-width="1.1" fill="none"/>
<text x="161.4" y="804" font-size="16.5" text-anchor="middle">10</text>
<text x="290.4" y="804" font-size="16.5" text-anchor="middle">100</text>
<text x="419.4" y="804" font-size="16.5" text-anchor="middle">1,000</text>
<text x="249" y="830" font-size="19.5" text-anchor="middle"><tspan font-style="italic">T</tspan> (K)</text>
<text transform="translate(23.8,401.7) rotate(-90)" font-size="18.4" text-anchor="middle"><tspan font-style="italic">κ</tspan><tspan font-size="12" dy="4">L</tspan><tspan dy="-4"> (W m</tspan><tspan font-size="12" dy="-7">−1</tspan><tspan dy="7"> K</tspan><tspan font-size="12" dy="-7">−1</tspan><tspan dy="7">)</tspan></text>
<text x="8" y="29.5" font-size="27" text-anchor="start" font-weight="bold">a</text>
<rect x="95.1" y="27.2" width="9.6" height="9.6" fill="none" stroke="#999999" stroke-width="1.5"/><circle cx="99.9" cy="32" r="0.9" fill="#999999"/>
<circle cx="99.9" cy="63.5" r="4.8" fill="none" stroke="#2166ac" stroke-width="1.5"/><circle cx="99.9" cy="63.5" r="0.9" fill="#2166ac"/>
<polygon points="99.9,94.8 105.9,100.8 99.9,106.8 93.9,100.8" fill="none" stroke="#c9161d" stroke-width="1.5"/><circle cx="99.9" cy="100.8" r="0.9" fill="#c9161d"/>
<polygon points="99.9,132.7 104.49,135.35 104.49,140.65 99.9,143.3 95.31,140.65 95.31,135.35" fill="none" stroke="#f9694a" stroke-width="1.5"/><circle cx="99.9" cy="138" r="0.9" fill="#f9694a"/>
<text x="116.5" y="37.4" font-size="15.7" text-anchor="start">NbFeSb</text>
<text x="116.5" y="69.6" font-size="15.7">Nb<tspan font-size="11" dy="4.5">0.9</tspan><tspan dy="-4.5">Ta</tspan><tspan font-size="11" dy="4.5">0.1</tspan><tspan dy="-4.5">FeSb</tspan></text>
<text x="116.5" y="106.6" font-size="15.7">Nb<tspan font-size="11" dy="4.5">0.9</tspan><tspan dy="-4.5">Hf</tspan><tspan font-size="11" dy="4.5">0.1</tspan><tspan dy="-4.5">FeSb</tspan></text>
<text x="116.5" y="143.8" font-size="15.7">Nb<tspan font-size="11" dy="4.5">0.9</tspan><tspan dy="-4.5">Zr</tspan><tspan font-size="11" dy="4.5">0.1</tspan><tspan dy="-4.5">FeSb</tspan></text>
<path d="M154 205V657" stroke="#999" stroke-width="3.5"/>
<path d="M148.8 655.3L159.3 655.3L154 666.8Z" fill="#999"/>
<text transform="translate(134.5,431) rotate(-90)" font-size="16.6" text-anchor="middle">Suppressed <tspan font-style="italic">κ</tspan><tspan font-size="10" dy="3.5">L</tspan><tspan dy="-3.5"> via doping/alloying</tspan></text>
<defs><linearGradient id="hfg" x1="0" y1="0" x2="1" y2="1"><stop offset="0" stop-color="#f08a96"/><stop offset="0.5" stop-color="#c48fc0"/><stop offset="1" stop-color="#7f96dc"/></linearGradient></defs>
<rect x="293.3" y="19.2" width="62.1" height="68" fill="#f5887c"/>
<rect x="355.4" y="19.2" width="62.7" height="68" fill="#e5e5e5"/>
<rect x="293.3" y="87.2" width="62.1" height="67.5" fill="url(#hfg)"/>
<rect x="355.4" y="87.2" width="62.7" height="67.5" fill="#4a8fdc"/>
<path d="M293.3 19.2H418.1M293.3 87.2H418.1M293.3 154.7H418.1M293.3 19.2V154.7M355.4 19.2V154.7" stroke="#555" stroke-width="0.9" fill="none"/>
<text x="324.35" y="33.4" font-size="8.4" text-anchor="middle" fill="#333">40 Zirconium</text>
<text x="324.35" y="59.7" font-size="16.5" text-anchor="middle" fill="#111">Zr</text>
<text x="311.85" y="76.7" font-size="7.6" text-anchor="middle" fill="#555">91.224</text>
<text x="339.85" y="76.7" font-size="7" text-anchor="middle" fill="#555">4d²5s²</text>
<text x="386.75" y="33.4" font-size="8.4" text-anchor="middle" fill="#333">41 Niobium</text>
<text x="386.75" y="59.7" font-size="16.5" text-anchor="middle" fill="#111">Nb</text>
<text x="374.25" y="76.7" font-size="7.6" text-anchor="middle" fill="#555">92.906</text>
<text x="402.25" y="76.7" font-size="7" text-anchor="middle" fill="#555">4d³5s²</text>
<text x="324.35" y="101.4" font-size="8.4" text-anchor="middle" fill="#333">72 Hafnium</text>
<text x="324.35" y="127.7" font-size="16.5" text-anchor="middle" fill="#111">Hf</text>
<text x="311.85" y="144.7" font-size="7.6" text-anchor="middle" fill="#555">178.490</text>
<text x="339.85" y="144.7" font-size="7" text-anchor="middle" fill="#555">5d²6s²</text>
<text x="386.75" y="101.4" font-size="8.4" text-anchor="middle" fill="#333">73 Tantalum</text>
<text x="386.75" y="127.7" font-size="16.5" text-anchor="middle" fill="#111">Ta</text>
<text x="374.25" y="144.7" font-size="7.6" text-anchor="middle" fill="#555">180.950</text>
<text x="402.25" y="144.7" font-size="7" text-anchor="middle" fill="#555">5d³6s²</text>
<rect x="502.6" y="11.3" width="451.7" height="353.9" fill="none" stroke="#000" stroke-width="1.2"/>
<text x="493.5" y="327.6" font-size="16.5" text-anchor="end">6</text>
<text x="493.5" y="239.1" font-size="16.5" text-anchor="end">12</text>
<text x="493.5" y="150.6" font-size="16.5" text-anchor="end">18</text>
<text x="493.5" y="62.1" font-size="16.5" text-anchor="end">24</text>
<text x="502.6" y="386" font-size="16.5" text-anchor="middle">200</text>
<text x="602.96" y="386" font-size="16.5" text-anchor="middle">400</text>
<text x="703.32" y="386" font-size="16.5" text-anchor="middle">600</text>
<text x="803.68" y="386" font-size="16.5" text-anchor="middle">800</text>
<text x="904.04" y="386" font-size="16.5" text-anchor="middle">1,000</text>
<path d="M502.6 321h5 M502.6 232.5h5 M502.6 144h5 M502.6 55.5h5 M502.6 365.2v-5 M602.96 365.2v-5 M703.32 365.2v-5 M803.68 365.2v-5 M904.04 365.2v-5" stroke="#000" stroke-width="1.1" fill="none"/>
<text x="727.5" y="414.5" font-size="19.5" text-anchor="middle"><tspan font-style="italic">T</tspan> (K)</text>
<text transform="translate(461,189.1) rotate(-90)" font-size="18.4" text-anchor="middle"><tspan font-style="italic">κ</tspan><tspan font-size="12" dy="4">L</tspan><tspan dy="-4"> (W m</tspan><tspan font-size="12" dy="-7">−1</tspan><tspan dy="7"> K</tspan><tspan font-size="12" dy="-7">−1</tspan><tspan dy="7">)</tspan></text>
<text x="444.5" y="29" font-size="26" text-anchor="start" font-weight="bold">b</text>
<path d="M558.36 67.77L566.61 82.63M573.89 95.75L582.14 110.61M589.42 123.73L597.67 138.59" stroke="#999999" stroke-width="3.4" stroke-linecap="round" fill="none"/>
<path d="M610.87 156.48L622.56 168.82M632.88 179.7L644.57 192.04" stroke="#999999" stroke-width="3.4" stroke-linecap="round" fill="none"/>
<path d="M662.58 207.66L676.52 217.37M688.83 225.95L695.53 230.61" stroke="#999999" stroke-width="3.4" stroke-linecap="round" fill="none"/>
<path d="M713.57 241.25L728.72 248.96M742.09 255.76L745.03 257.25" stroke="#999999" stroke-width="3.4" stroke-linecap="round" fill="none"/>
<path d="M764.31 265.47L780.3 271.25M794.41 276.35L794.75 276.47" stroke="#999999" stroke-width="3.4" stroke-linecap="round" fill="none"/>
<path d="M814.71 282.94L831.02 287.74" stroke="#999999" stroke-width="3.4" stroke-linecap="round" fill="none"/>
<path d="M865.07 297.02L881.64 300.82" stroke="#999999" stroke-width="3.4" stroke-linecap="round" fill="none"/>
<path d="M560.14 173.09L570.57 186.52M579.77 198.37L590.2 211.79" stroke="#2166ac" stroke-width="3.4" stroke-linecap="round" fill="none"/>
<path d="M612.62 235.35L626.3 245.44M638.37 254.35L645.09 259.31" stroke="#2166ac" stroke-width="3.4" stroke-linecap="round" fill="none"/>
<path d="M663.95 270.46L679.26 277.84M692.78 284.35L694.31 285.09" stroke="#2166ac" stroke-width="3.4" stroke-linecap="round" fill="none"/>
<path d="M714.68 293.31L730.77 298.79" stroke="#2166ac" stroke-width="3.4" stroke-linecap="round" fill="none"/>
<path d="M765.13 309.49L781.62 313.65" stroke="#2166ac" stroke-width="3.4" stroke-linecap="round" fill="none"/>
<path d="M815.43 321.65L832.08 325.07" stroke="#2166ac" stroke-width="3.4" stroke-linecap="round" fill="none"/>
<path d="M865.75 331.16L882.6 333.44" stroke="#2166ac" stroke-width="3.4" stroke-linecap="round" fill="none"/>
<path d="M561.76 204.53L573.06 217.22M583.04 228.42L594.35 241.12" stroke="#c9161d" stroke-width="3.4" stroke-linecap="round" fill="none"/>
<path d="M614.27 258.17L628.5 267.46M641.06 275.66L643.51 277.25" stroke="#c9161d" stroke-width="3.4" stroke-linecap="round" fill="none"/>
<path d="M665.59 288.77L681.26 295.35" stroke="#c9161d" stroke-width="3.4" stroke-linecap="round" fill="none"/>
<path d="M716.24 308.54L732.51 313.47" stroke="#c9161d" stroke-width="3.4" stroke-linecap="round" fill="none"/>
<path d="M766.67 322.8L783.25 326.55" stroke="#c9161d" stroke-width="3.4" stroke-linecap="round" fill="none"/>
<path d="M816.95 333.67L833.65 336.82" stroke="#c9161d" stroke-width="3.4" stroke-linecap="round" fill="none"/>
<path d="M867.23 342.5L884.06 344.88" stroke="#c9161d" stroke-width="3.4" stroke-linecap="round" fill="none"/>
<path d="M560.06 151.21L569.96 165.03M578.69 177.23L588.59 191.05" stroke="#f9694a" stroke-width="3.4" stroke-linecap="round" fill="none"/>
<path d="M612.67 218.99L625.87 229.7M637.52 239.15L644.99 245.21" stroke="#f9694a" stroke-width="3.4" stroke-linecap="round" fill="none"/>
<path d="M664.23 257.59L679.31 265.44M692.62 272.36L694.01 273.08" stroke="#f9694a" stroke-width="3.4" stroke-linecap="round" fill="none"/>
<path d="M715.01 282.36L730.9 288.39" stroke="#f9694a" stroke-width="3.4" stroke-linecap="round" fill="none"/>
<path d="M765.49 300.48L781.8 305.28" stroke="#f9694a" stroke-width="3.4" stroke-linecap="round" fill="none"/>
<path d="M815.84 314.6L832.38 318.54" stroke="#f9694a" stroke-width="3.4" stroke-linecap="round" fill="none"/>
<path d="M866.22 325.51L883.03 328.03" stroke="#f9694a" stroke-width="3.4" stroke-linecap="round" fill="none"/>
<rect x="546.58" y="51.51" width="12.4" height="12.4" fill="none" stroke="#999999" stroke-width="4.2"/><ellipse cx="552.78" cy="57.71" rx="2.9" ry="1.8" fill="#999999"/>
<rect x="596.76" y="141.93" width="12.4" height="12.4" fill="none" stroke="#999999" stroke-width="4.2"/><ellipse cx="602.96" cy="148.13" rx="2.9" ry="1.8" fill="#999999"/>
<rect x="646.94" y="194.88" width="12.4" height="12.4" fill="none" stroke="#999999" stroke-width="4.2"/><ellipse cx="653.14" cy="201.08" rx="2.9" ry="1.8" fill="#999999"/>
<rect x="697.12" y="229.84" width="12.4" height="12.4" fill="none" stroke="#999999" stroke-width="4.2"/><ellipse cx="703.32" cy="236.04" rx="2.9" ry="1.8" fill="#999999"/>
<rect x="747.3" y="255.36" width="12.4" height="12.4" fill="none" stroke="#999999" stroke-width="4.2"/><ellipse cx="753.5" cy="261.56" rx="2.9" ry="1.8" fill="#999999"/>
<rect x="797.48" y="273.5" width="12.4" height="12.4" fill="none" stroke="#999999" stroke-width="4.2"/><ellipse cx="803.68" cy="279.7" rx="2.9" ry="1.8" fill="#999999"/>
<rect x="847.66" y="288.25" width="12.4" height="12.4" fill="none" stroke="#999999" stroke-width="4.2"/><ellipse cx="853.86" cy="294.45" rx="2.9" ry="1.8" fill="#999999"/>
<rect x="897.84" y="299.76" width="12.4" height="12.4" fill="none" stroke="#999999" stroke-width="4.2"/><ellipse cx="904.04" cy="305.96" rx="2.9" ry="1.8" fill="#999999"/>
<circle cx="552.78" cy="163.62" r="6.8" fill="none" stroke="#2166ac" stroke-width="3.8"/><ellipse cx="552.78" cy="163.62" rx="2.9" ry="1.8" fill="#2166ac"/>
<circle cx="602.96" cy="228.22" r="6.8" fill="none" stroke="#2166ac" stroke-width="3.8"/><ellipse cx="602.96" cy="228.22" rx="2.9" ry="1.8" fill="#2166ac"/>
<circle cx="653.14" cy="265.25" r="6.8" fill="none" stroke="#2166ac" stroke-width="3.8"/><ellipse cx="653.14" cy="265.25" rx="2.9" ry="1.8" fill="#2166ac"/>
<circle cx="703.32" cy="289.44" r="6.8" fill="none" stroke="#2166ac" stroke-width="3.8"/><ellipse cx="703.32" cy="289.44" rx="2.9" ry="1.8" fill="#2166ac"/>
<circle cx="753.5" cy="306.54" r="6.8" fill="none" stroke="#2166ac" stroke-width="3.8"/><ellipse cx="753.5" cy="306.54" rx="2.9" ry="1.8" fill="#2166ac"/>
<circle cx="803.68" cy="319.23" r="6.8" fill="none" stroke="#2166ac" stroke-width="3.8"/><ellipse cx="803.68" cy="319.23" rx="2.9" ry="1.8" fill="#2166ac"/>
<circle cx="853.86" cy="329.56" r="6.8" fill="none" stroke="#2166ac" stroke-width="3.8"/><ellipse cx="853.86" cy="329.56" rx="2.9" ry="1.8" fill="#2166ac"/>
<circle cx="904.04" cy="336.34" r="6.8" fill="none" stroke="#2166ac" stroke-width="3.8"/><ellipse cx="904.04" cy="336.34" rx="2.9" ry="1.8" fill="#2166ac"/>
<polygon points="552.78,185.64 561.58,194.44 552.78,203.25 543.98,194.44" fill="none" stroke="#c9161d" stroke-width="3.6"/><ellipse cx="552.78" cy="194.44" rx="2.9" ry="1.8" fill="#c9161d"/>
<polygon points="602.96,241.99 611.76,250.79 602.96,259.59 594.16,250.79" fill="none" stroke="#c9161d" stroke-width="3.6"/><ellipse cx="602.96" cy="250.79" rx="2.9" ry="1.8" fill="#c9161d"/>
<polygon points="653.14,274.74 661.94,283.54 653.14,292.34 644.34,283.54" fill="none" stroke="#c9161d" stroke-width="3.6"/><ellipse cx="653.14" cy="283.54" rx="2.9" ry="1.8" fill="#c9161d"/>
<polygon points="703.32,295.83 712.12,304.63 703.32,313.43 694.52,304.63" fill="none" stroke="#c9161d" stroke-width="3.6"/><ellipse cx="703.32" cy="304.63" rx="2.9" ry="1.8" fill="#c9161d"/>
<polygon points="753.5,311.02 762.3,319.82 753.5,328.62 744.7,319.82" fill="none" stroke="#c9161d" stroke-width="3.6"/><ellipse cx="753.5" cy="319.82" rx="2.9" ry="1.8" fill="#c9161d"/>
<polygon points="803.68,322.38 812.48,331.18 803.68,339.98 794.88,331.18" fill="none" stroke="#c9161d" stroke-width="3.6"/><ellipse cx="803.68" cy="331.18" rx="2.9" ry="1.8" fill="#c9161d"/>
<polygon points="853.86,331.82 862.66,340.62 853.86,349.42 845.06,340.62" fill="none" stroke="#c9161d" stroke-width="3.6"/><ellipse cx="853.86" cy="340.62" rx="2.9" ry="1.8" fill="#c9161d"/>
<polygon points="904.04,338.9 912.84,347.7 904.04,356.5 895.24,347.7" fill="none" stroke="#c9161d" stroke-width="3.6"/><ellipse cx="904.04" cy="347.7" rx="2.9" ry="1.8" fill="#c9161d"/>
<polygon points="552.78,132.85 559.88,136.95 559.88,145.15 552.78,149.25 545.68,145.15 545.68,136.95" fill="none" stroke="#f9694a" stroke-width="3.3"/><ellipse cx="552.78" cy="141.05" rx="2.9" ry="1.8" fill="#f9694a"/>
<polygon points="602.96,202.91 610.06,207.01 610.06,215.21 602.96,219.31 595.86,215.21 595.86,207.01" fill="none" stroke="#f9694a" stroke-width="3.3"/><ellipse cx="602.96" cy="211.11" rx="2.9" ry="1.8" fill="#f9694a"/>
<polygon points="653.14,243.62 660.24,247.72 660.24,255.92 653.14,260.02 646.04,255.92 646.04,247.72" fill="none" stroke="#f9694a" stroke-width="3.3"/><ellipse cx="653.14" cy="251.82" rx="2.9" ry="1.8" fill="#f9694a"/>
<polygon points="703.32,269.73 710.42,273.83 710.42,282.03 703.32,286.13 696.22,282.03 696.22,273.83" fill="none" stroke="#f9694a" stroke-width="3.3"/><ellipse cx="703.32" cy="277.93" rx="2.9" ry="1.8" fill="#f9694a"/>
<polygon points="753.5,288.76 760.6,292.86 760.6,301.06 753.5,305.16 746.4,301.06 746.4,292.86" fill="none" stroke="#f9694a" stroke-width="3.3"/><ellipse cx="753.5" cy="296.96" rx="2.9" ry="1.8" fill="#f9694a"/>
<polygon points="803.68,303.51 810.78,307.61 810.78,315.81 803.68,319.91 796.58,315.81 796.58,307.61" fill="none" stroke="#f9694a" stroke-width="3.3"/><ellipse cx="803.68" cy="311.71" rx="2.9" ry="1.8" fill="#f9694a"/>
<polygon points="853.86,315.45 860.96,319.55 860.96,327.75 853.86,331.85 846.76,327.75 846.76,319.55" fill="none" stroke="#f9694a" stroke-width="3.3"/><ellipse cx="853.86" cy="323.65" rx="2.9" ry="1.8" fill="#f9694a"/>
<polygon points="904.04,322.98 911.14,327.08 911.14,335.28 904.04,339.38 896.94,335.28 896.94,327.08" fill="none" stroke="#f9694a" stroke-width="3.3"/><ellipse cx="904.04" cy="331.18" rx="2.9" ry="1.8" fill="#f9694a"/>
<path d="M658 40.7H672.1M689.1 40.7H704" stroke="#999999" stroke-width="3.6" stroke-linecap="round"/>
<rect x="674.4" y="34.5" width="12.4" height="12.4" fill="none" stroke="#999999" stroke-width="4.2"/><ellipse cx="680.6" cy="40.7" rx="2.9" ry="1.8" fill="#999999"/>
<text x="716" y="47" font-size="16">NbFeSb</text>
<path d="M658 70.2H671.9M689.3 70.2H704" stroke="#2166ac" stroke-width="3.6" stroke-linecap="round"/>
<circle cx="680.6" cy="70.2" r="6.8" fill="none" stroke="#2166ac" stroke-width="3.8"/><ellipse cx="680.6" cy="70.2" rx="2.9" ry="1.8" fill="#2166ac"/>
<text x="716" y="76.5" font-size="16">Nb<tspan font-size="10.5" dy="4.5">0.875</tspan><tspan dy="-4.5">Ta</tspan><tspan font-size="10.5" dy="4.5">0.125</tspan><tspan dy="-4.5">FeSb</tspan></text>
<path d="M658 105H670.1M691.1 105H704" stroke="#c9161d" stroke-width="3.6" stroke-linecap="round"/>
<polygon points="680.6,96.2 689.4,105 680.6,113.8 671.8,105" fill="none" stroke="#c9161d" stroke-width="3.6"/><ellipse cx="680.6" cy="105" rx="2.9" ry="1.8" fill="#c9161d"/>
<text x="716" y="111.3" font-size="16">Nb<tspan font-size="10.5" dy="4.5">0.875</tspan><tspan dy="-4.5">Hf</tspan><tspan font-size="10.5" dy="4.5">0.125</tspan><tspan dy="-4.5">FeSb</tspan></text>
<path d="M658 139.3H671.6M689.6 139.3H704" stroke="#f9694a" stroke-width="3.6" stroke-linecap="round"/>
<polygon points="680.6,131.1 687.7,135.2 687.7,143.4 680.6,147.5 673.5,143.4 673.5,135.2" fill="none" stroke="#f9694a" stroke-width="3.3"/><ellipse cx="680.6" cy="139.3" rx="2.9" ry="1.8" fill="#f9694a"/>
<text x="716" y="145.6" font-size="16">Nb<tspan font-size="10.5" dy="4.5">0.875</tspan><tspan dy="-4.5">Zr</tspan><tspan font-size="10.5" dy="4.5">0.125</tspan><tspan dy="-4.5">FeSb</tspan></text>
<text x="766.5" y="221" font-size="16.6" text-anchor="start">Calculated (pp)</text>
<path d="M552.3 30.4A25 96.3 0 0 1 552.3 223" fill="none" stroke="#000" stroke-width="2.5" stroke-dasharray="14 4.71 2.5 4.71" stroke-dashoffset="7"/>
<path d="M552.3 30.4A25 96.3 0 0 0 552.3 223" fill="none" stroke="#000" stroke-width="2.5" stroke-dasharray="14 4.71 2.5 4.71" stroke-dashoffset="7"/>
<rect x="575.2" y="109.5" width="3.8" height="21" fill="#000"/>
<rect x="526" y="124" width="3.6" height="4.6" fill="#000"/>
<path d="M551.8 233.5V283.5M551.8 341.5V406" stroke="#3f4a5b" stroke-width="3.5"/>
<path d="M546.8 404.5H556.8L551.8 417.8Z" fill="#3f4a5b"/>
<text x="565.5" y="304.5" font-size="16.6" text-anchor="middle">Comparison</text>
<text x="566" y="323.2" font-size="16.6" text-anchor="middle">for <tspan font-style="italic">v</tspan><tspan font-size="11" dy="4">g</tspan><tspan dy="-4"> and </tspan><tspan font-style="italic">τ</tspan></text>
<rect x="1038.3" y="11.3" width="452.2" height="354.1" fill="none" stroke="#000" stroke-width="1.2"/>
<text x="1028.5" y="372.4" font-size="16.5" text-anchor="end">0</text>
<text x="1028.5" y="293.48" font-size="16.5" text-anchor="end">0.4</text>
<text x="1028.5" y="214.56" font-size="16.5" text-anchor="end">0.8</text>
<text x="1028.5" y="135.64" font-size="16.5" text-anchor="end">1.2</text>
<text x="1028.5" y="56.72" font-size="16.5" text-anchor="end">1.6</text>
<text x="1038.3" y="386" font-size="16.5" text-anchor="middle">0</text>
<text x="1138.8" y="386" font-size="16.5" text-anchor="middle">10</text>
<text x="1239.3" y="386" font-size="16.5" text-anchor="middle">20</text>
<text x="1339.8" y="386" font-size="16.5" text-anchor="middle">30</text>
<text x="1440.3" y="386" font-size="16.5" text-anchor="middle">40</text>
<path d="M1038.3 365.8h5 M1038.3 286.88h5 M1038.3 207.96h5 M1038.3 129.04h5 M1038.3 50.12h5 M1038.3 365.4v-5 M1138.8 365.4v-5 M1239.3 365.4v-5 M1339.8 365.4v-5 M1440.3 365.4v-5" stroke="#000" stroke-width="1.1" fill="none"/>
<text x="1264.5" y="414.8" font-size="19.5" text-anchor="middle">Energy (meV)</text>
<text transform="translate(990,188.7) rotate(-90)" font-size="18.4" text-anchor="middle"><tspan font-style="italic">κ</tspan><tspan font-size="12" dy="4">L</tspan><tspan dy="-4"> (W m</tspan><tspan font-size="12" dy="-7">−1</tspan><tspan dy="7"> K</tspan><tspan font-size="12" dy="-7">−1</tspan><tspan dy="7"> meV</tspan><tspan font-size="12" dy="-7">−1</tspan><tspan dy="7">)</tspan></text>
<text x="972" y="29" font-size="26" text-anchor="start" font-weight="bold">c</text>
<g clip-path="url(#clipC)"><clipPath id="clipC"><rect x="1038.3" y="11.3" width="452.2" height="354.1"/></clipPath>
<path d="M1038.32 324.32 L1038.99 320.14 L1039.66 315.99 L1040.33 311.88 L1041 307.81 L1041.67 303.8 L1042.34 299.85 L1043.01 295.97 L1043.68 292.16 L1044.35 288.44 L1045.02 284.8 L1045.69 281.25 L1046.36 277.79 L1047.04 274.43 L1047.71 271.17 L1048.38 268.01 L1049.05 264.95 L1049.72 262 L1050.39 259.16 L1051.06 256.42 L1051.73 253.79 L1052.4 251.26 L1053.07 248.83 L1053.74 246.5 L1054.41 244.25 L1055.08 242.1 L1055.75 240.02 L1056.42 238.02 L1057.09 236.1 L1057.76 234.23 L1058.43 232.44 L1059.1 230.71 L1059.77 229.04 L1060.44 227.43 L1061.11 225.88 L1061.79 224.4 L1062.46 222.98 L1063.13 221.63 L1063.8 220.35 L1064.47 219.13 L1065.14 217.97 L1065.81 216.89 L1066.48 215.86 L1067.15 214.9 L1067.82 214 L1068.49 213.15 L1069.16 212.35 L1069.83 211.6 L1070.5 210.89 L1071.17 210.22 L1071.84 209.58 L1072.51 208.98 L1073.18 208.4 L1073.85 207.84 L1074.52 207.29 L1075.19 206.76 L1075.86 206.24 L1076.53 205.72 L1077.21 205.21 L1077.88 204.69 L1078.55 204.17 L1079.22 203.64 L1079.89 203.09 L1080.56 202.53 L1081.23 201.96 L1081.9 201.36 L1082.57 200.75 L1083.24 200.11 L1083.91 199.46 L1084.58 198.78 L1085.25 198.09 L1085.92 197.38 L1086.59 196.65 L1087.26 195.9 L1087.93 195.14 L1088.6 194.36 L1089.27 193.58 L1089.94 192.78 L1090.61 191.96 L1091.28 191.14 L1091.95 190.31 L1092.63 189.47 L1093.3 188.62 L1093.97 187.76 L1094.64 186.89 L1095.31 186.02 L1095.98 185.13 L1096.65 184.24 L1097.32 183.34 L1097.99 182.43 L1098.66 181.5 L1099.33 180.57 L1100 179.62 L1100.67 178.65 L1101.34 177.67 L1102.01 176.67 L1102.68 175.66 L1103.35 174.63 L1104.02 173.59 L1104.69 172.53 L1105.36 171.46 L1106.03 170.38 L1106.7 169.29 L1107.37 168.2 L1108.05 167.11 L1108.72 166.02 L1109.39 164.94 L1110.06 163.86 L1110.73 162.79 L1111.4 161.73 L1112.07 160.68 L1112.74 159.66 L1113.41 158.65 L1114.08 157.67 L1114.75 156.71 L1115.42 155.77 L1116.09 154.87 L1116.76 153.98 L1117.43 153.13 L1118.1 152.29 L1118.77 151.49 L1119.44 150.7 L1120.11 149.93 L1120.78 149.19 L1121.45 148.45 L1122.12 147.73 L1122.79 147.03 L1123.47 146.33 L1124.14 145.65 L1124.81 144.97 L1125.48 144.31 L1126.15 143.66 L1126.82 143.01 L1127.49 142.38 L1128.16 141.76 L1128.83 141.15 L1129.5 140.55 L1130.17 139.96 L1130.84 139.38 L1131.51 138.82 L1132.18 138.26 L1132.85 137.72 L1133.52 137.2 L1134.19 136.68 L1134.86 136.18 L1135.53 135.69 L1136.2 135.21 L1136.87 134.75 L1137.54 134.3 L1138.22 133.86 L1138.89 133.44 L1139.56 133.02 L1140.23 132.61 L1140.9 132.22 L1141.57 131.82 L1142.24 131.44 L1142.91 131.06 L1143.58 130.68 L1144.25 130.31 L1144.92 129.94 L1145.59 129.57 L1146.26 129.2 L1146.93 128.84 L1147.6 128.48 L1148.27 128.13 L1148.94 127.78 L1149.61 127.43 L1150.28 127.09 L1150.95 126.75 L1151.62 126.42 L1152.29 126.1 L1152.96 125.79 L1153.64 125.49 L1154.31 125.19 L1154.98 124.9 L1155.65 124.63 L1156.32 124.36 L1156.99 124.11 L1157.66 123.87 L1158.33 123.64 L1159 123.43 L1159.67 123.23 L1160.34 123.05 L1161.01 122.88 L1161.68 122.73 L1162.35 122.59 L1163.02 122.48 L1163.69 122.39 L1164.36 122.31 L1165.03 122.26 L1165.7 122.24 L1166.37 122.25 L1167.04 122.28 L1167.71 122.35 L1168.38 122.45 L1169.06 122.59 L1169.73 122.76 L1170.4 122.97 L1171.07 123.22 L1171.74 123.5 L1172.41 123.81 L1173.08 124.17 L1173.75 124.55 L1174.42 124.97 L1175.09 125.41 L1175.76 125.89 L1176.43 126.39 L1177.1 126.91 L1177.77 127.46 L1178.44 128.04 L1179.11 128.65 L1179.78 129.28 L1180.45 129.95 L1181.12 130.65 L1181.79 131.4 L1182.46 132.2 L1183.13 133.06 L1183.8 133.99 L1184.48 135 L1185.15 136.08 L1185.82 137.25 L1186.49 138.51 L1187.16 139.86 L1187.83 141.29 L1188.5 142.81 L1189.17 144.4 L1189.84 146.06 L1190.51 147.79 L1191.18 149.57 L1191.85 151.4 L1192.52 153.27 L1193.19 155.18 L1193.86 157.1 L1194.53 159.04 L1195.2 160.99 L1195.87 162.94 L1196.54 164.88 L1197.21 166.81 L1197.88 168.71 L1198.55 170.58 L1199.22 172.42 L1199.9 174.23 L1200.57 175.99 L1201.24 177.72 L1201.91 179.41 L1202.58 181.06 L1203.25 182.68 L1203.92 184.27 L1204.59 185.84 L1205.26 187.38 L1205.93 188.9 L1206.6 190.41 L1207.27 191.9 L1207.94 193.38 L1208.61 194.85 L1209.28 196.32 L1209.95 197.77 L1210.62 199.22 L1211.29 200.65 L1211.96 202.09 L1212.63 203.51 L1213.3 204.93 L1213.97 206.34 L1214.64 207.75 L1215.32 209.14 L1215.99 210.53 L1216.66 211.92 L1217.33 213.29 L1218 214.66 L1218.67 216.02 L1219.34 217.38 L1220.01 218.73 L1220.68 220.08 L1221.35 221.43 L1222.02 222.78 L1222.69 224.14 L1223.36 225.5 L1224.03 226.88 L1224.7 228.27 L1225.37 229.68 L1226.04 231.12 L1226.71 232.59 L1227.38 234.1 L1228.05 235.64 L1228.72 237.24 L1229.39 238.88 L1230.07 240.56 L1230.74 242.3 L1231.41 244.08 L1232.08 245.9 L1232.75 247.75 L1233.42 249.63 L1234.09 251.52 L1234.76 253.42 L1235.43 255.31 L1236.1 257.19 L1236.77 259.04 L1237.44 260.85 L1238.11 262.61 L1238.78 264.31 L1239.45 265.94 L1240.12 267.49 L1240.79 268.94 L1241.46 270.28 L1242.13 271.5 L1242.8 272.59 L1243.47 273.53 L1244.14 274.3 L1244.81 274.91 L1245.49 275.32 L1246.16 275.53 L1246.83 275.53 L1247.5 275.31 L1248.17 274.86 L1248.84 274.19 L1249.51 273.3 L1250.18 272.2 L1250.85 270.91 L1251.52 269.45 L1252.19 267.84 L1252.86 266.11 L1253.53 264.29 L1254.2 262.4 L1254.87 260.48 L1255.54 258.55 L1256.21 256.64 L1256.88 254.75 L1257.55 252.91 L1258.22 251.13 L1258.89 249.41 L1259.56 247.74 L1260.23 246.13 L1260.91 244.56 L1261.58 243.04 L1262.25 241.55 L1262.92 240.09 L1263.59 238.66 L1264.26 237.25 L1264.93 235.88 L1265.6 234.53 L1266.27 233.23 L1266.94 231.96 L1267.61 230.76 L1268.28 229.61 L1268.95 228.53 L1269.62 227.52 L1270.29 226.6 L1270.96 225.78 L1271.63 225.05 L1272.3 224.43 L1272.97 223.91 L1273.64 223.51 L1274.31 223.23 L1274.98 223.07 L1275.65 223.02 L1276.33 223.09 L1277 223.27 L1277.67 223.56 L1278.34 223.95 L1279.01 224.45 L1279.68 225.04 L1280.35 225.71 L1281.02 226.48 L1281.69 227.32 L1282.36 228.24 L1283.03 229.23 L1283.7 230.29 L1284.37 231.41 L1285.04 232.58 L1285.71 233.8 L1286.38 235.07 L1287.05 236.39 L1287.72 237.74 L1288.39 239.12 L1289.06 240.53 L1289.73 241.96 L1290.4 243.42 L1291.07 244.89 L1291.75 246.36 L1292.42 247.85 L1293.09 249.34 L1293.76 250.84 L1294.43 252.33 L1295.1 253.83 L1295.77 255.33 L1296.44 256.84 L1297.11 258.36 L1297.78 259.9 L1298.45 261.46 L1299.12 263.05 L1299.79 264.67 L1300.46 266.33 L1301.13 268.02 L1301.8 269.75 L1302.47 271.52 L1303.14 273.33 L1303.81 275.17 L1304.48 277.05 L1305.15 278.95 L1305.82 280.87 L1306.49 282.82 L1307.17 284.78 L1307.84 286.75 L1308.51 288.72 L1309.18 290.69 L1309.85 292.66 L1310.52 294.62 L1311.19 296.57 L1311.86 298.5 L1312.53 300.4 L1313.2 302.28 L1313.87 304.12 L1314.54 305.93 L1315.21 307.7 L1315.88 309.43 L1316.55 311.11 L1317.22 312.74 L1317.89 314.33 L1318.56 315.88 L1319.23 317.38 L1319.9 318.85 L1320.57 320.28 L1321.24 321.68 L1321.92 323.05 L1322.59 324.39 L1323.26 325.72 L1323.93 327.03 L1324.6 328.31 L1325.27 329.58 L1325.94 330.83 L1326.61 332.06 L1327.28 333.26 L1327.95 334.44 L1328.62 335.59 L1329.29 336.71 L1329.96 337.8 L1330.63 338.84 L1331.3 339.85 L1331.97 340.82 L1332.64 341.74 L1333.31 342.62 L1333.98 343.44 L1334.65 344.22 L1335.32 344.95 L1335.99 345.63 L1336.66 346.26 L1337.34 346.85 L1338.01 347.4 L1338.68 347.91 L1339.35 348.39 L1340.02 348.85 L1340.69 349.28 L1341.36 349.69 L1342.03 350.08 L1342.7 350.46 L1343.37 350.83 L1344.04 351.19 L1344.71 351.53 L1345.38 351.87 L1346.05 352.2 L1346.72 352.52 L1347.39 352.83 L1348.06 353.13 L1348.73 353.43 L1349.4 353.71 L1350.07 353.99 L1350.74 354.26 L1351.41 354.52 L1352.08 354.77 L1352.76 355.01 L1353.43 355.24 L1354.1 355.47 L1354.77 355.68 L1355.44 355.89 L1356.11 356.08 L1356.78 356.27 L1357.45 356.45 L1358.12 356.62 L1358.79 356.78 L1359.46 356.93 L1360.13 357.07 L1360.8 357.21 L1361.47 357.33 L1362.14 357.45 L1362.81 357.56 L1363.48 357.66 L1364.15 357.75 L1364.82 357.84 L1365.49 357.92 L1366.16 358 L1366.83 358.08 L1367.5 358.14 L1368.18 358.21 L1368.85 358.27 L1369.52 358.33 L1370.19 358.39 L1370.86 358.45 L1371.53 358.5 L1372.2 358.55 L1372.87 358.59 L1373.54 358.64 L1374.21 358.67 L1374.88 358.71 L1375.55 358.74 L1376.22 358.76 L1376.89 358.78 L1377.56 358.79 L1378.23 358.79 L1378.9 358.77 L1379.57 358.75 L1380.24 358.71 L1380.91 358.66 L1381.58 358.59 L1382.25 358.5 L1382.92 358.39 L1383.6 358.26 L1384.27 358.11 L1384.94 357.94 L1385.61 357.76 L1386.28 357.56 L1386.95 357.34 L1387.62 357.11 L1388.29 356.86 L1388.96 356.6 L1389.63 356.34 L1390.3 356.06 L1390.97 355.78 L1391.64 355.5 L1392.31 355.21 L1392.98 354.92 L1393.65 354.62 L1394.32 354.33 L1394.99 354.05 L1395.66 353.76 L1396.33 353.49 L1397 353.21 L1397.67 352.94 L1398.35 352.68 L1399.02 352.42 L1399.69 352.17 L1400.36 351.92 L1401.03 351.67 L1401.7 351.42 L1402.37 351.17 L1403.04 350.93 L1403.71 350.68 L1404.38 350.43 L1405.05 350.18 L1405.72 349.92 L1406.39 349.68 L1407.06 349.43 L1407.73 349.18 L1408.4 348.95 L1409.07 348.71 L1409.74 348.49 L1410.41 348.27 L1411.08 348.07 L1411.75 347.88 L1412.42 347.7 L1413.09 347.53 L1413.77 347.39 L1414.44 347.26 L1415.11 347.15 L1415.78 347.06 L1416.45 346.99 L1417.12 346.94 L1417.79 346.92 L1418.46 346.92 L1419.13 346.94 L1419.8 346.99 L1420.47 347.06 L1421.14 347.15 L1421.81 347.27 L1422.48 347.4 L1423.15 347.56 L1423.82 347.74 L1424.49 347.93 L1425.16 348.15 L1425.83 348.38 L1426.5 348.62 L1427.17 348.88 L1427.84 349.16 L1428.51 349.44 L1429.19 349.74 L1429.86 350.05 L1430.53 350.36 L1431.2 350.69 L1431.87 351.02 L1432.54 351.36 L1433.21 351.7 L1433.88 352.04 L1434.55 352.39 L1435.22 352.74 L1435.89 353.09 L1436.56 353.44 L1437.23 353.78 L1437.9 354.13 L1438.57 354.47 L1439.24 354.8 L1439.91 355.13 L1440.58 355.45 L1441.25 355.76 L1441.92 356.07 L1442.59 356.36 L1443.26 356.65 L1443.93 356.92 L1444.61 357.19 L1445.28 357.45 L1445.95 357.69 L1446.62 357.94 L1447.29 358.17 L1447.96 358.4 L1448.63 358.63 L1449.3 358.85 L1449.97 359.07 L1450.64 359.28 L1451.31 359.5 L1451.98 359.71 L1452.65 359.92 L1453.32 360.13 L1453.99 360.33 L1454.66 360.54 L1455.33 360.74 L1456 360.94 L1456.67 361.13 L1457.34 361.33 L1458.01 361.52 L1458.68 361.7 L1459.35 361.88 L1460.03 362.06 L1460.7 362.23 L1461.37 362.39 L1462.04 362.55 L1462.71 362.71 L1463.38 362.86 L1464.05 363 L1464.72 363.13 L1465.39 363.26 L1466.06 363.39 L1466.73 363.51 L1467.4 363.62 L1468.07 363.73 L1468.74 363.83 L1469.41 363.93 L1470.08 364.03 L1470.75 364.12 L1471.42 364.21 L1472.09 364.3 L1472.76 364.39 L1473.43 364.47 L1474.1 364.55 L1474.77 364.64 L1475.45 364.72 L1476.12 364.79 L1476.79 364.87 L1477.46 364.94 L1478.13 365.02 L1478.8 365.09 L1479.47 365.15 L1480.14 365.22 L1480.81 365.28 L1481.48 365.34 L1482.15 365.39 L1482.82 365.44 L1483.49 365.49 L1484.16 365.54 L1484.83 365.58 L1485.5 365.62 L1486.17 365.65 L1486.84 365.68 L1487.51 365.7 L1488.18 365.73 L1488.85 365.74 L1489.52 365.76 L1490.2 365.77" stroke="#999999" stroke-width="3.4" fill="none" stroke-linejoin="round" />
<path d="M1038.32 328.26 L1038.99 324.33 L1039.66 320.42 L1040.33 316.54 L1041 312.7 L1041.67 308.89 L1042.34 305.13 L1043.01 301.43 L1043.68 297.78 L1044.35 294.19 L1045.02 290.67 L1045.69 287.21 L1046.36 283.83 L1047.04 280.51 L1047.71 277.27 L1048.38 274.11 L1049.05 271.01 L1049.72 267.99 L1050.39 265.03 L1051.06 262.13 L1051.73 259.3 L1052.4 256.52 L1053.07 253.78 L1053.74 251.1 L1054.41 248.46 L1055.08 245.86 L1055.75 243.3 L1056.42 240.79 L1057.09 238.33 L1057.76 235.91 L1058.43 233.55 L1059.1 231.24 L1059.77 229 L1060.44 226.82 L1061.11 224.71 L1061.79 222.67 L1062.46 220.71 L1063.13 218.84 L1063.8 217.04 L1064.47 215.33 L1065.14 213.71 L1065.81 212.18 L1066.48 210.72 L1067.15 209.35 L1067.82 208.05 L1068.49 206.83 L1069.16 205.67 L1069.83 204.58 L1070.5 203.54 L1071.17 202.54 L1071.84 201.6 L1072.51 200.69 L1073.18 199.82 L1073.85 198.97 L1074.52 198.16 L1075.19 197.36 L1075.86 196.59 L1076.53 195.83 L1077.21 195.09 L1077.88 194.35 L1078.55 193.62 L1079.22 192.89 L1079.89 192.17 L1080.56 191.44 L1081.23 190.71 L1081.9 189.98 L1082.57 189.25 L1083.24 188.51 L1083.91 187.78 L1084.58 187.04 L1085.25 186.3 L1085.92 185.56 L1086.59 184.83 L1087.26 184.1 L1087.93 183.37 L1088.6 182.64 L1089.27 181.91 L1089.94 181.19 L1090.61 180.47 L1091.28 179.74 L1091.95 179.02 L1092.63 178.29 L1093.3 177.56 L1093.97 176.82 L1094.64 176.08 L1095.31 175.32 L1095.98 174.56 L1096.65 173.78 L1097.32 172.98 L1097.99 172.15 L1098.66 171.31 L1099.33 170.43 L1100 169.52 L1100.67 168.58 L1101.34 167.6 L1102.01 166.59 L1102.68 165.56 L1103.35 164.5 L1104.02 163.43 L1104.69 162.35 L1105.36 161.28 L1106.03 160.22 L1106.7 159.18 L1107.37 158.18 L1108.05 157.23 L1108.72 156.34 L1109.39 155.53 L1110.06 154.79 L1110.73 154.14 L1111.4 153.58 L1112.07 153.12 L1112.74 152.75 L1113.41 152.49 L1114.08 152.31 L1114.75 152.23 L1115.42 152.22 L1116.09 152.29 L1116.76 152.43 L1117.43 152.63 L1118.1 152.88 L1118.77 153.19 L1119.44 153.54 L1120.11 153.94 L1120.78 154.4 L1121.45 154.9 L1122.12 155.46 L1122.79 156.08 L1123.47 156.76 L1124.14 157.51 L1124.81 158.33 L1125.48 159.22 L1126.15 160.19 L1126.82 161.23 L1127.49 162.33 L1128.16 163.5 L1128.83 164.73 L1129.5 166.02 L1130.17 167.37 L1130.84 168.76 L1131.51 170.19 L1132.18 171.66 L1132.85 173.16 L1133.52 174.69 L1134.19 176.24 L1134.86 177.8 L1135.53 179.38 L1136.2 180.96 L1136.87 182.55 L1137.54 184.14 L1138.22 185.73 L1138.89 187.32 L1139.56 188.9 L1140.23 190.48 L1140.9 192.07 L1141.57 193.66 L1142.24 195.25 L1142.91 196.86 L1143.58 198.48 L1144.25 200.12 L1144.92 201.78 L1145.59 203.45 L1146.26 205.14 L1146.93 206.84 L1147.6 208.57 L1148.27 210.3 L1148.94 212.04 L1149.61 213.79 L1150.28 215.55 L1150.95 217.3 L1151.62 219.05 L1152.29 220.8 L1152.96 222.53 L1153.64 224.26 L1154.31 225.97 L1154.98 227.66 L1155.65 229.34 L1156.32 231 L1156.99 232.64 L1157.66 234.26 L1158.33 235.86 L1159 237.45 L1159.67 239.04 L1160.34 240.61 L1161.01 242.19 L1161.68 243.76 L1162.35 245.33 L1163.02 246.9 L1163.69 248.46 L1164.36 250.01 L1165.03 251.53 L1165.7 253.01 L1166.37 254.45 L1167.04 255.82 L1167.71 257.11 L1168.38 258.31 L1169.06 259.41 L1169.73 260.4 L1170.4 261.26 L1171.07 261.99 L1171.74 262.6 L1172.41 263.08 L1173.08 263.43 L1173.75 263.67 L1174.42 263.81 L1175.09 263.85 L1175.76 263.81 L1176.43 263.7 L1177.1 263.52 L1177.77 263.3 L1178.44 263.04 L1179.11 262.75 L1179.78 262.42 L1180.45 262.08 L1181.12 261.72 L1181.79 261.35 L1182.46 260.97 L1183.13 260.59 L1183.8 260.21 L1184.48 259.83 L1185.15 259.47 L1185.82 259.12 L1186.49 258.79 L1187.16 258.48 L1187.83 258.19 L1188.5 257.94 L1189.17 257.72 L1189.84 257.55 L1190.51 257.41 L1191.18 257.32 L1191.85 257.28 L1192.52 257.3 L1193.19 257.37 L1193.86 257.49 L1194.53 257.67 L1195.2 257.91 L1195.87 258.21 L1196.54 258.56 L1197.21 258.97 L1197.88 259.43 L1198.55 259.94 L1199.22 260.49 L1199.9 261.09 L1200.57 261.72 L1201.24 262.4 L1201.91 263.1 L1202.58 263.84 L1203.25 264.61 L1203.92 265.39 L1204.59 266.2 L1205.26 267.02 L1205.93 267.86 L1206.6 268.7 L1207.27 269.56 L1207.94 270.41 L1208.61 271.27 L1209.28 272.12 L1209.95 272.97 L1210.62 273.82 L1211.29 274.65 L1211.96 275.47 L1212.63 276.29 L1213.3 277.09 L1213.97 277.89 L1214.64 278.68 L1215.32 279.47 L1215.99 280.26 L1216.66 281.05 L1217.33 281.84 L1218 282.64 L1218.67 283.45 L1219.34 284.27 L1220.01 285.1 L1220.68 285.93 L1221.35 286.78 L1222.02 287.63 L1222.69 288.49 L1223.36 289.35 L1224.03 290.21 L1224.7 291.07 L1225.37 291.94 L1226.04 292.8 L1226.71 293.65 L1227.38 294.5 L1228.05 295.35 L1228.72 296.18 L1229.39 297 L1230.07 297.81 L1230.74 298.6 L1231.41 299.38 L1232.08 300.14 L1232.75 300.87 L1233.42 301.59 L1234.09 302.28 L1234.76 302.95 L1235.43 303.59 L1236.1 304.21 L1236.77 304.8 L1237.44 305.36 L1238.11 305.89 L1238.78 306.39 L1239.45 306.87 L1240.12 307.31 L1240.79 307.73 L1241.46 308.12 L1242.13 308.48 L1242.8 308.81 L1243.47 309.1 L1244.14 309.35 L1244.81 309.56 L1245.49 309.72 L1246.16 309.83 L1246.83 309.88 L1247.5 309.88 L1248.17 309.82 L1248.84 309.7 L1249.51 309.52 L1250.18 309.29 L1250.85 309 L1251.52 308.66 L1252.19 308.27 L1252.86 307.84 L1253.53 307.37 L1254.2 306.85 L1254.87 306.31 L1255.54 305.73 L1256.21 305.13 L1256.88 304.5 L1257.55 303.86 L1258.22 303.19 L1258.89 302.52 L1259.56 301.84 L1260.23 301.16 L1260.91 300.47 L1261.58 299.79 L1262.25 299.12 L1262.92 298.45 L1263.59 297.8 L1264.26 297.17 L1264.93 296.56 L1265.6 295.98 L1266.27 295.43 L1266.94 294.91 L1267.61 294.43 L1268.28 293.99 L1268.95 293.59 L1269.62 293.25 L1270.29 292.95 L1270.96 292.72 L1271.63 292.54 L1272.3 292.44 L1272.97 292.4 L1273.64 292.43 L1274.31 292.54 L1274.98 292.73 L1275.65 293 L1276.33 293.34 L1277 293.76 L1277.67 294.26 L1278.34 294.83 L1279.01 295.48 L1279.68 296.19 L1280.35 296.97 L1281.02 297.8 L1281.69 298.7 L1282.36 299.65 L1283.03 300.65 L1283.7 301.7 L1284.37 302.78 L1285.04 303.91 L1285.71 305.07 L1286.38 306.25 L1287.05 307.47 L1287.72 308.7 L1288.39 309.95 L1289.06 311.21 L1289.73 312.48 L1290.4 313.76 L1291.07 315.04 L1291.75 316.31 L1292.42 317.58 L1293.09 318.84 L1293.76 320.08 L1294.43 321.3 L1295.1 322.49 L1295.77 323.66 L1296.44 324.8 L1297.11 325.9 L1297.78 326.96 L1298.45 327.98 L1299.12 328.95 L1299.79 329.87 L1300.46 330.74 L1301.13 331.56 L1301.8 332.32 L1302.47 333.02 L1303.14 333.67 L1303.81 334.26 L1304.48 334.81 L1305.15 335.31 L1305.82 335.77 L1306.49 336.19 L1307.17 336.58 L1307.84 336.94 L1308.51 337.28 L1309.18 337.6 L1309.85 337.9 L1310.52 338.19 L1311.19 338.46 L1311.86 338.74 L1312.53 339 L1313.2 339.26 L1313.87 339.52 L1314.54 339.79 L1315.21 340.05 L1315.88 340.32 L1316.55 340.6 L1317.22 340.89 L1317.89 341.18 L1318.56 341.49 L1319.23 341.81 L1319.9 342.15 L1320.57 342.5 L1321.24 342.87 L1321.92 343.26 L1322.59 343.66 L1323.26 344.07 L1323.93 344.5 L1324.6 344.95 L1325.27 345.4 L1325.94 345.87 L1326.61 346.35 L1327.28 346.84 L1327.95 347.33 L1328.62 347.83 L1329.29 348.33 L1329.96 348.83 L1330.63 349.33 L1331.3 349.83 L1331.97 350.33 L1332.64 350.82 L1333.31 351.3 L1333.98 351.77 L1334.65 352.24 L1335.32 352.69 L1335.99 353.13 L1336.66 353.55 L1337.34 353.96 L1338.01 354.34 L1338.68 354.71 L1339.35 355.06 L1340.02 355.39 L1340.69 355.7 L1341.36 356 L1342.03 356.27 L1342.7 356.53 L1343.37 356.77 L1344.04 357 L1344.71 357.22 L1345.38 357.43 L1346.05 357.63 L1346.72 357.83 L1347.39 358.02 L1348.06 358.21 L1348.73 358.4 L1349.4 358.58 L1350.07 358.76 L1350.74 358.93 L1351.41 359.1 L1352.08 359.27 L1352.76 359.43 L1353.43 359.59 L1354.1 359.75 L1354.77 359.9 L1355.44 360.05 L1356.11 360.19 L1356.78 360.33 L1357.45 360.46 L1358.12 360.59 L1358.79 360.71 L1359.46 360.83 L1360.13 360.94 L1360.8 361.04 L1361.47 361.14 L1362.14 361.23 L1362.81 361.32 L1363.48 361.4 L1364.15 361.47 L1364.82 361.53 L1365.49 361.59 L1366.16 361.64 L1366.83 361.68 L1367.5 361.71 L1368.18 361.74 L1368.85 361.75 L1369.52 361.76 L1370.19 361.76 L1370.86 361.75 L1371.53 361.74 L1372.2 361.71 L1372.87 361.67 L1373.54 361.63 L1374.21 361.58 L1374.88 361.52 L1375.55 361.46 L1376.22 361.38 L1376.89 361.3 L1377.56 361.22 L1378.23 361.12 L1378.9 361.02 L1379.57 360.92 L1380.24 360.81 L1380.91 360.7 L1381.58 360.58 L1382.25 360.46 L1382.92 360.34 L1383.6 360.21 L1384.27 360.08 L1384.94 359.95 L1385.61 359.81 L1386.28 359.68 L1386.95 359.54 L1387.62 359.41 L1388.29 359.27 L1388.96 359.13 L1389.63 358.99 L1390.3 358.86 L1390.97 358.72 L1391.64 358.58 L1392.31 358.45 L1392.98 358.31 L1393.65 358.18 L1394.32 358.04 L1394.99 357.9 L1395.66 357.76 L1396.33 357.62 L1397 357.47 L1397.67 357.32 L1398.35 357.16 L1399.02 357.01 L1399.69 356.84 L1400.36 356.67 L1401.03 356.5 L1401.7 356.33 L1402.37 356.15 L1403.04 355.97 L1403.71 355.79 L1404.38 355.61 L1405.05 355.42 L1405.72 355.24 L1406.39 355.06 L1407.06 354.88 L1407.73 354.7 L1408.4 354.52 L1409.07 354.35 L1409.74 354.18 L1410.41 354.01 L1411.08 353.86 L1411.75 353.7 L1412.42 353.56 L1413.09 353.42 L1413.77 353.29 L1414.44 353.16 L1415.11 353.05 L1415.78 352.94 L1416.45 352.85 L1417.12 352.77 L1417.79 352.7 L1418.46 352.64 L1419.13 352.6 L1419.8 352.57 L1420.47 352.56 L1421.14 352.56 L1421.81 352.58 L1422.48 352.62 L1423.15 352.68 L1423.82 352.75 L1424.49 352.84 L1425.16 352.95 L1425.83 353.07 L1426.5 353.22 L1427.17 353.38 L1427.84 353.55 L1428.51 353.74 L1429.19 353.94 L1429.86 354.15 L1430.53 354.38 L1431.2 354.61 L1431.87 354.86 L1432.54 355.11 L1433.21 355.37 L1433.88 355.64 L1434.55 355.91 L1435.22 356.19 L1435.89 356.48 L1436.56 356.76 L1437.23 357.05 L1437.9 357.34 L1438.57 357.63 L1439.24 357.91 L1439.91 358.2 L1440.58 358.48 L1441.25 358.76 L1441.92 359.04 L1442.59 359.3 L1443.26 359.57 L1443.93 359.82 L1444.61 360.07 L1445.28 360.3 L1445.95 360.53 L1446.62 360.75 L1447.29 360.95 L1447.96 361.15 L1448.63 361.34 L1449.3 361.51 L1449.97 361.68 L1450.64 361.83 L1451.31 361.99 L1451.98 362.13 L1452.65 362.27 L1453.32 362.4 L1453.99 362.53 L1454.66 362.65 L1455.33 362.78 L1456 362.9 L1456.67 363.01 L1457.34 363.13 L1458.01 363.24 L1458.68 363.35 L1459.35 363.46 L1460.03 363.56 L1460.7 363.66 L1461.37 363.76 L1462.04 363.86 L1462.71 363.95 L1463.38 364.04 L1464.05 364.13 L1464.72 364.21 L1465.39 364.29 L1466.06 364.37 L1466.73 364.44 L1467.4 364.51 L1468.07 364.58 L1468.74 364.64 L1469.41 364.7 L1470.08 364.76 L1470.75 364.82 L1471.42 364.87 L1472.09 364.92 L1472.76 364.97 L1473.43 365.02 L1474.1 365.07 L1474.77 365.12 L1475.45 365.16 L1476.12 365.21 L1476.79 365.25 L1477.46 365.3 L1478.13 365.34 L1478.8 365.38 L1479.47 365.42 L1480.14 365.46 L1480.81 365.49 L1481.48 365.53 L1482.15 365.56 L1482.82 365.59 L1483.49 365.62 L1484.16 365.64 L1484.83 365.67 L1485.5 365.69 L1486.17 365.71 L1486.84 365.73 L1487.51 365.74 L1488.18 365.76 L1488.85 365.77 L1489.52 365.77 L1490.2 365.78" stroke="#2166ac" stroke-width="3.4" fill="none" stroke-linejoin="round" />
<path d="M1038.32 336.15 L1038.99 333.11 L1039.66 330.09 L1040.33 327.08 L1041 324.09 L1041.67 321.13 L1042.34 318.19 L1043.01 315.28 L1043.68 312.39 L1044.35 309.54 L1045.02 306.73 L1045.69 303.94 L1046.36 301.19 L1047.04 298.48 L1047.71 295.8 L1048.38 293.16 L1049.05 290.55 L1049.72 287.98 L1050.39 285.45 L1051.06 282.95 L1051.73 280.49 L1052.4 278.06 L1053.07 275.68 L1053.74 273.33 L1054.41 271.02 L1055.08 268.75 L1055.75 266.51 L1056.42 264.32 L1057.09 262.17 L1057.76 260.05 L1058.43 257.97 L1059.1 255.94 L1059.77 253.94 L1060.44 251.99 L1061.11 250.07 L1061.79 248.2 L1062.46 246.37 L1063.13 244.57 L1063.8 242.83 L1064.47 241.12 L1065.14 239.45 L1065.81 237.83 L1066.48 236.25 L1067.15 234.71 L1067.82 233.22 L1068.49 231.76 L1069.16 230.35 L1069.83 228.98 L1070.5 227.64 L1071.17 226.34 L1071.84 225.07 L1072.51 223.83 L1073.18 222.63 L1073.85 221.45 L1074.52 220.29 L1075.19 219.16 L1075.86 218.05 L1076.53 216.95 L1077.21 215.87 L1077.88 214.8 L1078.55 213.74 L1079.22 212.68 L1079.89 211.64 L1080.56 210.59 L1081.23 209.55 L1081.9 208.5 L1082.57 207.46 L1083.24 206.42 L1083.91 205.38 L1084.58 204.34 L1085.25 203.3 L1085.92 202.26 L1086.59 201.23 L1087.26 200.2 L1087.93 199.17 L1088.6 198.15 L1089.27 197.14 L1089.94 196.13 L1090.61 195.12 L1091.28 194.13 L1091.95 193.14 L1092.63 192.16 L1093.3 191.18 L1093.97 190.21 L1094.64 189.25 L1095.31 188.3 L1095.98 187.34 L1096.65 186.4 L1097.32 185.45 L1097.99 184.51 L1098.66 183.57 L1099.33 182.62 L1100 181.67 L1100.67 180.71 L1101.34 179.74 L1102.01 178.76 L1102.68 177.77 L1103.35 176.76 L1104.02 175.75 L1104.69 174.72 L1105.36 173.69 L1106.03 172.65 L1106.7 171.6 L1107.37 170.55 L1108.05 169.5 L1108.72 168.45 L1109.39 167.41 L1110.06 166.37 L1110.73 165.35 L1111.4 164.34 L1112.07 163.34 L1112.74 162.36 L1113.41 161.4 L1114.08 160.46 L1114.75 159.55 L1115.42 158.67 L1116.09 157.82 L1116.76 157 L1117.43 156.21 L1118.1 155.47 L1118.77 154.77 L1119.44 154.11 L1120.11 153.5 L1120.78 152.94 L1121.45 152.42 L1122.12 151.97 L1122.79 151.57 L1123.47 151.22 L1124.14 150.94 L1124.81 150.72 L1125.48 150.56 L1126.15 150.46 L1126.82 150.42 L1127.49 150.45 L1128.16 150.54 L1128.83 150.69 L1129.5 150.9 L1130.17 151.16 L1130.84 151.47 L1131.51 151.84 L1132.18 152.25 L1132.85 152.7 L1133.52 153.2 L1134.19 153.73 L1134.86 154.29 L1135.53 154.89 L1136.2 155.51 L1136.87 156.15 L1137.54 156.82 L1138.22 157.5 L1138.89 158.2 L1139.56 158.91 L1140.23 159.62 L1140.9 160.35 L1141.57 161.09 L1142.24 161.83 L1142.91 162.58 L1143.58 163.35 L1144.25 164.13 L1144.92 164.93 L1145.59 165.74 L1146.26 166.58 L1146.93 167.45 L1147.6 168.35 L1148.27 169.27 L1148.94 170.22 L1149.61 171.21 L1150.28 172.22 L1150.95 173.25 L1151.62 174.31 L1152.29 175.39 L1152.96 176.49 L1153.64 177.61 L1154.31 178.74 L1154.98 179.88 L1155.65 181.02 L1156.32 182.17 L1156.99 183.33 L1157.66 184.48 L1158.33 185.62 L1159 186.76 L1159.67 187.89 L1160.34 189.01 L1161.01 190.11 L1161.68 191.19 L1162.35 192.25 L1163.02 193.29 L1163.69 194.3 L1164.36 195.28 L1165.03 196.23 L1165.7 197.14 L1166.37 198.02 L1167.04 198.85 L1167.71 199.66 L1168.38 200.42 L1169.06 201.14 L1169.73 201.83 L1170.4 202.48 L1171.07 203.1 L1171.74 203.69 L1172.41 204.25 L1173.08 204.79 L1173.75 205.3 L1174.42 205.8 L1175.09 206.27 L1175.76 206.73 L1176.43 207.18 L1177.1 207.61 L1177.77 208.04 L1178.44 208.46 L1179.11 208.87 L1179.78 209.28 L1180.45 209.69 L1181.12 210.09 L1181.79 210.5 L1182.46 210.91 L1183.13 211.32 L1183.8 211.75 L1184.48 212.17 L1185.15 212.61 L1185.82 213.06 L1186.49 213.51 L1187.16 213.98 L1187.83 214.46 L1188.5 214.95 L1189.17 215.44 L1189.84 215.95 L1190.51 216.46 L1191.18 216.98 L1191.85 217.5 L1192.52 218.03 L1193.19 218.56 L1193.86 219.1 L1194.53 219.64 L1195.2 220.19 L1195.87 220.74 L1196.54 221.29 L1197.21 221.85 L1197.88 222.41 L1198.55 222.98 L1199.22 223.55 L1199.9 224.13 L1200.57 224.72 L1201.24 225.32 L1201.91 225.92 L1202.58 226.53 L1203.25 227.15 L1203.92 227.78 L1204.59 228.42 L1205.26 229.07 L1205.93 229.73 L1206.6 230.4 L1207.27 231.09 L1207.94 231.78 L1208.61 232.49 L1209.28 233.21 L1209.95 233.95 L1210.62 234.7 L1211.29 235.46 L1211.96 236.24 L1212.63 237.04 L1213.3 237.85 L1213.97 238.69 L1214.64 239.55 L1215.32 240.44 L1215.99 241.35 L1216.66 242.31 L1217.33 243.31 L1218 244.35 L1218.67 245.45 L1219.34 246.61 L1220.01 247.83 L1220.68 249.12 L1221.35 250.47 L1222.02 251.9 L1222.69 253.39 L1223.36 254.95 L1224.03 256.57 L1224.7 258.25 L1225.37 259.97 L1226.04 261.75 L1226.71 263.56 L1227.38 265.41 L1228.05 267.29 L1228.72 269.18 L1229.39 271.09 L1230.07 273.01 L1230.74 274.93 L1231.41 276.84 L1232.08 278.75 L1232.75 280.63 L1233.42 282.49 L1234.09 284.32 L1234.76 286.12 L1235.43 287.87 L1236.1 289.57 L1236.77 291.21 L1237.44 292.79 L1238.11 294.3 L1238.78 295.74 L1239.45 297.09 L1240.12 298.36 L1240.79 299.54 L1241.46 300.62 L1242.13 301.59 L1242.8 302.45 L1243.47 303.19 L1244.14 303.8 L1244.81 304.28 L1245.49 304.62 L1246.16 304.81 L1246.83 304.86 L1247.5 304.76 L1248.17 304.52 L1248.84 304.13 L1249.51 303.61 L1250.18 302.97 L1250.85 302.2 L1251.52 301.32 L1252.19 300.35 L1252.86 299.28 L1253.53 298.13 L1254.2 296.9 L1254.87 295.61 L1255.54 294.26 L1256.21 292.87 L1256.88 291.43 L1257.55 289.97 L1258.22 288.48 L1258.89 286.99 L1259.56 285.48 L1260.23 283.98 L1260.91 282.5 L1261.58 281.03 L1262.25 279.6 L1262.92 278.2 L1263.59 276.85 L1264.26 275.55 L1264.93 274.32 L1265.6 273.16 L1266.27 272.09 L1266.94 271.1 L1267.61 270.2 L1268.28 269.42 L1268.95 268.74 L1269.62 268.18 L1270.29 267.75 L1270.96 267.44 L1271.63 267.26 L1272.3 267.22 L1272.97 267.31 L1273.64 267.53 L1274.31 267.88 L1274.98 268.36 L1275.65 268.96 L1276.33 269.68 L1277 270.51 L1277.67 271.44 L1278.34 272.47 L1279.01 273.59 L1279.68 274.8 L1280.35 276.08 L1281.02 277.42 L1281.69 278.83 L1282.36 280.3 L1283.03 281.81 L1283.7 283.35 L1284.37 284.93 L1285.04 286.54 L1285.71 288.15 L1286.38 289.78 L1287.05 291.42 L1287.72 293.04 L1288.39 294.66 L1289.06 296.26 L1289.73 297.85 L1290.4 299.41 L1291.07 300.95 L1291.75 302.46 L1292.42 303.95 L1293.09 305.42 L1293.76 306.87 L1294.43 308.32 L1295.1 309.75 L1295.77 311.19 L1296.44 312.62 L1297.11 314.05 L1297.78 315.49 L1298.45 316.92 L1299.12 318.36 L1299.79 319.78 L1300.46 321.2 L1301.13 322.61 L1301.8 324 L1302.47 325.36 L1303.14 326.69 L1303.81 327.99 L1304.48 329.25 L1305.15 330.47 L1305.82 331.64 L1306.49 332.77 L1307.17 333.85 L1307.84 334.87 L1308.51 335.85 L1309.18 336.79 L1309.85 337.68 L1310.52 338.54 L1311.19 339.36 L1311.86 340.16 L1312.53 340.93 L1313.2 341.68 L1313.87 342.41 L1314.54 343.13 L1315.21 343.83 L1315.88 344.51 L1316.55 345.18 L1317.22 345.84 L1317.89 346.47 L1318.56 347.1 L1319.23 347.7 L1319.9 348.29 L1320.57 348.87 L1321.24 349.42 L1321.92 349.96 L1322.59 350.47 L1323.26 350.97 L1323.93 351.44 L1324.6 351.9 L1325.27 352.33 L1325.94 352.74 L1326.61 353.13 L1327.28 353.49 L1327.95 353.84 L1328.62 354.16 L1329.29 354.46 L1329.96 354.73 L1330.63 354.99 L1331.3 355.23 L1331.97 355.46 L1332.64 355.67 L1333.31 355.87 L1333.98 356.06 L1334.65 356.24 L1335.32 356.41 L1335.99 356.58 L1336.66 356.75 L1337.34 356.9 L1338.01 357.06 L1338.68 357.21 L1339.35 357.36 L1340.02 357.5 L1340.69 357.64 L1341.36 357.78 L1342.03 357.92 L1342.7 358.05 L1343.37 358.17 L1344.04 358.3 L1344.71 358.41 L1345.38 358.53 L1346.05 358.64 L1346.72 358.74 L1347.39 358.85 L1348.06 358.94 L1348.73 359.04 L1349.4 359.12 L1350.07 359.21 L1350.74 359.29 L1351.41 359.36 L1352.08 359.43 L1352.76 359.49 L1353.43 359.55 L1354.1 359.6 L1354.77 359.65 L1355.44 359.69 L1356.11 359.73 L1356.78 359.76 L1357.45 359.78 L1358.12 359.8 L1358.79 359.82 L1359.46 359.83 L1360.13 359.84 L1360.8 359.84 L1361.47 359.84 L1362.14 359.84 L1362.81 359.83 L1363.48 359.82 L1364.15 359.81 L1364.82 359.79 L1365.49 359.77 L1366.16 359.75 L1366.83 359.73 L1367.5 359.71 L1368.18 359.69 L1368.85 359.66 L1369.52 359.63 L1370.19 359.61 L1370.86 359.58 L1371.53 359.55 L1372.2 359.52 L1372.87 359.49 L1373.54 359.46 L1374.21 359.42 L1374.88 359.39 L1375.55 359.36 L1376.22 359.33 L1376.89 359.3 L1377.56 359.27 L1378.23 359.24 L1378.9 359.21 L1379.57 359.18 L1380.24 359.15 L1380.91 359.12 L1381.58 359.1 L1382.25 359.07 L1382.92 359.05 L1383.6 359.03 L1384.27 359.01 L1384.94 358.99 L1385.61 358.97 L1386.28 358.96 L1386.95 358.95 L1387.62 358.94 L1388.29 358.94 L1388.96 358.93 L1389.63 358.93 L1390.3 358.94 L1390.97 358.95 L1391.64 358.96 L1392.31 358.98 L1392.98 359 L1393.65 359.03 L1394.32 359.06 L1394.99 359.1 L1395.66 359.14 L1396.33 359.18 L1397 359.23 L1397.67 359.28 L1398.35 359.34 L1399.02 359.4 L1399.69 359.46 L1400.36 359.53 L1401.03 359.6 L1401.7 359.67 L1402.37 359.74 L1403.04 359.82 L1403.71 359.9 L1404.38 359.98 L1405.05 360.06 L1405.72 360.14 L1406.39 360.23 L1407.06 360.31 L1407.73 360.39 L1408.4 360.48 L1409.07 360.57 L1409.74 360.65 L1410.41 360.74 L1411.08 360.82 L1411.75 360.91 L1412.42 360.99 L1413.09 361.07 L1413.77 361.15 L1414.44 361.23 L1415.11 361.31 L1415.78 361.39 L1416.45 361.46 L1417.12 361.53 L1417.79 361.6 L1418.46 361.67 L1419.13 361.74 L1419.8 361.8 L1420.47 361.86 L1421.14 361.92 L1421.81 361.99 L1422.48 362.04 L1423.15 362.1 L1423.82 362.16 L1424.49 362.22 L1425.16 362.28 L1425.83 362.33 L1426.5 362.39 L1427.17 362.45 L1427.84 362.51 L1428.51 362.56 L1429.19 362.62 L1429.86 362.68 L1430.53 362.73 L1431.2 362.79 L1431.87 362.85 L1432.54 362.9 L1433.21 362.96 L1433.88 363.01 L1434.55 363.07 L1435.22 363.12 L1435.89 363.18 L1436.56 363.23 L1437.23 363.29 L1437.9 363.34 L1438.57 363.4 L1439.24 363.45 L1439.91 363.5 L1440.58 363.55 L1441.25 363.61 L1441.92 363.66 L1442.59 363.71 L1443.26 363.76 L1443.93 363.81 L1444.61 363.86 L1445.28 363.9 L1445.95 363.95 L1446.62 364 L1447.29 364.05 L1447.96 364.09 L1448.63 364.14 L1449.3 364.18 L1449.97 364.23 L1450.64 364.27 L1451.31 364.31 L1451.98 364.35 L1452.65 364.4 L1453.32 364.44 L1453.99 364.47 L1454.66 364.51 L1455.33 364.55 L1456 364.59 L1456.67 364.62 L1457.34 364.66 L1458.01 364.69 L1458.68 364.73 L1459.35 364.76 L1460.03 364.79 L1460.7 364.82 L1461.37 364.85 L1462.04 364.88 L1462.71 364.91 L1463.38 364.94 L1464.05 364.97 L1464.72 365 L1465.39 365.03 L1466.06 365.05 L1466.73 365.08 L1467.4 365.11 L1468.07 365.14 L1468.74 365.16 L1469.41 365.19 L1470.08 365.22 L1470.75 365.24 L1471.42 365.27 L1472.09 365.29 L1472.76 365.32 L1473.43 365.34 L1474.1 365.37 L1474.77 365.39 L1475.45 365.41 L1476.12 365.43 L1476.79 365.46 L1477.46 365.48 L1478.13 365.5 L1478.8 365.52 L1479.47 365.54 L1480.14 365.56 L1480.81 365.58 L1481.48 365.6 L1482.15 365.62 L1482.82 365.63 L1483.49 365.65 L1484.16 365.67 L1484.83 365.68 L1485.5 365.7 L1486.17 365.71 L1486.84 365.72 L1487.51 365.74 L1488.18 365.75 L1488.85 365.76 L1489.52 365.77 L1490.2 365.77" stroke="#f9694a" stroke-width="3.4" fill="none" stroke-linejoin="round" />
<path d="M1038.32 338.13 L1038.99 335.45 L1039.66 332.78 L1040.33 330.12 L1041 327.48 L1041.67 324.86 L1042.34 322.26 L1043.01 319.67 L1043.68 317.12 L1044.35 314.58 L1045.02 312.08 L1045.69 309.6 L1046.36 307.14 L1047.04 304.72 L1047.71 302.32 L1048.38 299.95 L1049.05 297.61 L1049.72 295.3 L1050.39 293.02 L1051.06 290.76 L1051.73 288.53 L1052.4 286.33 L1053.07 284.15 L1053.74 282 L1054.41 279.87 L1055.08 277.76 L1055.75 275.68 L1056.42 273.62 L1057.09 271.58 L1057.76 269.56 L1058.43 267.57 L1059.1 265.61 L1059.77 263.67 L1060.44 261.76 L1061.11 259.88 L1061.79 258.03 L1062.46 256.22 L1063.13 254.44 L1063.8 252.69 L1064.47 250.98 L1065.14 249.31 L1065.81 247.68 L1066.48 246.08 L1067.15 244.52 L1067.82 242.99 L1068.49 241.5 L1069.16 240.04 L1069.83 238.61 L1070.5 237.21 L1071.17 235.84 L1071.84 234.49 L1072.51 233.16 L1073.18 231.86 L1073.85 230.59 L1074.52 229.33 L1075.19 228.09 L1075.86 226.87 L1076.53 225.67 L1077.21 224.48 L1077.88 223.31 L1078.55 222.16 L1079.22 221.02 L1079.89 219.9 L1080.56 218.79 L1081.23 217.69 L1081.9 216.61 L1082.57 215.54 L1083.24 214.49 L1083.91 213.45 L1084.58 212.43 L1085.25 211.43 L1085.92 210.44 L1086.59 209.46 L1087.26 208.5 L1087.93 207.56 L1088.6 206.62 L1089.27 205.7 L1089.94 204.78 L1090.61 203.87 L1091.28 202.97 L1091.95 202.06 L1092.63 201.16 L1093.3 200.25 L1093.97 199.33 L1094.64 198.4 L1095.31 197.46 L1095.98 196.5 L1096.65 195.52 L1097.32 194.51 L1097.99 193.46 L1098.66 192.38 L1099.33 191.26 L1100 190.09 L1100.67 188.88 L1101.34 187.63 L1102.01 186.35 L1102.68 185.03 L1103.35 183.68 L1104.02 182.32 L1104.69 180.96 L1105.36 179.61 L1106.03 178.28 L1106.7 176.99 L1107.37 175.75 L1108.05 174.57 L1108.72 173.47 L1109.39 172.45 L1110.06 171.54 L1110.73 170.74 L1111.4 170.05 L1112.07 169.48 L1112.74 169.03 L1113.41 168.7 L1114.08 168.48 L1114.75 168.37 L1115.42 168.36 L1116.09 168.44 L1116.76 168.6 L1117.43 168.84 L1118.1 169.15 L1118.77 169.51 L1119.44 169.94 L1120.11 170.41 L1120.78 170.93 L1121.45 171.5 L1122.12 172.1 L1122.79 172.75 L1123.47 173.42 L1124.14 174.13 L1124.81 174.87 L1125.48 175.63 L1126.15 176.43 L1126.82 177.24 L1127.49 178.08 L1128.16 178.95 L1128.83 179.84 L1129.5 180.77 L1130.17 181.73 L1130.84 182.73 L1131.51 183.78 L1132.18 184.87 L1132.85 186.03 L1133.52 187.26 L1134.19 188.55 L1134.86 189.91 L1135.53 191.34 L1136.2 192.84 L1136.87 194.41 L1137.54 196.04 L1138.22 197.73 L1138.89 199.48 L1139.56 201.27 L1140.23 203.11 L1140.9 204.99 L1141.57 206.89 L1142.24 208.83 L1142.91 210.79 L1143.58 212.77 L1144.25 214.77 L1144.92 216.79 L1145.59 218.85 L1146.26 220.93 L1146.93 223.05 L1147.6 225.21 L1148.27 227.44 L1148.94 229.72 L1149.61 232.07 L1150.28 234.49 L1150.95 236.97 L1151.62 239.53 L1152.29 242.14 L1152.96 244.8 L1153.64 247.5 L1154.31 250.21 L1154.98 252.94 L1155.65 255.66 L1156.32 258.35 L1156.99 261 L1157.66 263.59 L1158.33 266.1 L1159 268.52 L1159.67 270.82 L1160.34 272.99 L1161.01 275.02 L1161.68 276.9 L1162.35 278.6 L1163.02 280.11 L1163.69 281.44 L1164.36 282.58 L1165.03 283.52 L1165.7 284.27 L1166.37 284.85 L1167.04 285.25 L1167.71 285.5 L1168.38 285.62 L1169.06 285.61 L1169.73 285.49 L1170.4 285.28 L1171.07 284.99 L1171.74 284.63 L1172.41 284.21 L1173.08 283.74 L1173.75 283.22 L1174.42 282.66 L1175.09 282.06 L1175.76 281.42 L1176.43 280.75 L1177.1 280.05 L1177.77 279.33 L1178.44 278.58 L1179.11 277.82 L1179.78 277.03 L1180.45 276.24 L1181.12 275.43 L1181.79 274.62 L1182.46 273.8 L1183.13 272.98 L1183.8 272.16 L1184.48 271.35 L1185.15 270.54 L1185.82 269.74 L1186.49 268.96 L1187.16 268.19 L1187.83 267.45 L1188.5 266.72 L1189.17 266.02 L1189.84 265.35 L1190.51 264.71 L1191.18 264.1 L1191.85 263.54 L1192.52 263.01 L1193.19 262.52 L1193.86 262.08 L1194.53 261.69 L1195.2 261.36 L1195.87 261.07 L1196.54 260.85 L1197.21 260.68 L1197.88 260.57 L1198.55 260.53 L1199.22 260.54 L1199.9 260.63 L1200.57 260.77 L1201.24 260.98 L1201.91 261.24 L1202.58 261.57 L1203.25 261.95 L1203.92 262.38 L1204.59 262.87 L1205.26 263.41 L1205.93 263.99 L1206.6 264.61 L1207.27 265.27 L1207.94 265.96 L1208.61 266.69 L1209.28 267.45 L1209.95 268.23 L1210.62 269.03 L1211.29 269.85 L1211.96 270.69 L1212.63 271.54 L1213.3 272.4 L1213.97 273.26 L1214.64 274.13 L1215.32 274.99 L1215.99 275.86 L1216.66 276.71 L1217.33 277.57 L1218 278.41 L1218.67 279.25 L1219.34 280.09 L1220.01 280.92 L1220.68 281.75 L1221.35 282.58 L1222.02 283.42 L1222.69 284.28 L1223.36 285.14 L1224.03 286.03 L1224.7 286.93 L1225.37 287.85 L1226.04 288.79 L1226.71 289.75 L1227.38 290.73 L1228.05 291.72 L1228.72 292.72 L1229.39 293.73 L1230.07 294.74 L1230.74 295.75 L1231.41 296.77 L1232.08 297.78 L1232.75 298.78 L1233.42 299.76 L1234.09 300.74 L1234.76 301.69 L1235.43 302.62 L1236.1 303.53 L1236.77 304.4 L1237.44 305.25 L1238.11 306.05 L1238.78 306.82 L1239.45 307.55 L1240.12 308.22 L1240.79 308.85 L1241.46 309.43 L1242.13 309.95 L1242.8 310.41 L1243.47 310.81 L1244.14 311.16 L1244.81 311.44 L1245.49 311.66 L1246.16 311.82 L1246.83 311.92 L1247.5 311.97 L1248.17 311.97 L1248.84 311.93 L1249.51 311.84 L1250.18 311.72 L1250.85 311.57 L1251.52 311.39 L1252.19 311.18 L1252.86 310.95 L1253.53 310.7 L1254.2 310.43 L1254.87 310.13 L1255.54 309.82 L1256.21 309.48 L1256.88 309.13 L1257.55 308.75 L1258.22 308.35 L1258.89 307.94 L1259.56 307.52 L1260.23 307.08 L1260.91 306.64 L1261.58 306.19 L1262.25 305.75 L1262.92 305.31 L1263.59 304.89 L1264.26 304.48 L1264.93 304.1 L1265.6 303.74 L1266.27 303.41 L1266.94 303.12 L1267.61 302.87 L1268.28 302.66 L1268.95 302.5 L1269.62 302.4 L1270.29 302.36 L1270.96 302.38 L1271.63 302.46 L1272.3 302.6 L1272.97 302.82 L1273.64 303.09 L1274.31 303.44 L1274.98 303.85 L1275.65 304.32 L1276.33 304.85 L1277 305.44 L1277.67 306.08 L1278.34 306.77 L1279.01 307.51 L1279.68 308.29 L1280.35 309.11 L1281.02 309.97 L1281.69 310.86 L1282.36 311.78 L1283.03 312.73 L1283.7 313.69 L1284.37 314.68 L1285.04 315.68 L1285.71 316.69 L1286.38 317.71 L1287.05 318.73 L1287.72 319.75 L1288.39 320.77 L1289.06 321.78 L1289.73 322.78 L1290.4 323.77 L1291.07 324.74 L1291.75 325.69 L1292.42 326.61 L1293.09 327.51 L1293.76 328.38 L1294.43 329.23 L1295.1 330.04 L1295.77 330.82 L1296.44 331.57 L1297.11 332.29 L1297.78 332.99 L1298.45 333.67 L1299.12 334.33 L1299.79 334.97 L1300.46 335.61 L1301.13 336.23 L1301.8 336.84 L1302.47 337.44 L1303.14 338.04 L1303.81 338.64 L1304.48 339.23 L1305.15 339.81 L1305.82 340.39 L1306.49 340.97 L1307.17 341.54 L1307.84 342.1 L1308.51 342.66 L1309.18 343.21 L1309.85 343.75 L1310.52 344.29 L1311.19 344.81 L1311.86 345.33 L1312.53 345.85 L1313.2 346.35 L1313.87 346.84 L1314.54 347.33 L1315.21 347.8 L1315.88 348.26 L1316.55 348.72 L1317.22 349.16 L1317.89 349.59 L1318.56 350 L1319.23 350.41 L1319.9 350.8 L1320.57 351.18 L1321.24 351.55 L1321.92 351.91 L1322.59 352.26 L1323.26 352.59 L1323.93 352.91 L1324.6 353.23 L1325.27 353.54 L1325.94 353.84 L1326.61 354.13 L1327.28 354.42 L1327.95 354.7 L1328.62 354.98 L1329.29 355.26 L1329.96 355.53 L1330.63 355.8 L1331.3 356.07 L1331.97 356.33 L1332.64 356.58 L1333.31 356.84 L1333.98 357.09 L1334.65 357.33 L1335.32 357.57 L1335.99 357.8 L1336.66 358.03 L1337.34 358.25 L1338.01 358.46 L1338.68 358.67 L1339.35 358.87 L1340.02 359.06 L1340.69 359.24 L1341.36 359.41 L1342.03 359.58 L1342.7 359.73 L1343.37 359.88 L1344.04 360.02 L1344.71 360.15 L1345.38 360.26 L1346.05 360.37 L1346.72 360.47 L1347.39 360.55 L1348.06 360.63 L1348.73 360.7 L1349.4 360.76 L1350.07 360.82 L1350.74 360.86 L1351.41 360.91 L1352.08 360.94 L1352.76 360.98 L1353.43 361.01 L1354.1 361.04 L1354.77 361.06 L1355.44 361.09 L1356.11 361.11 L1356.78 361.14 L1357.45 361.16 L1358.12 361.18 L1358.79 361.2 L1359.46 361.22 L1360.13 361.24 L1360.8 361.26 L1361.47 361.27 L1362.14 361.29 L1362.81 361.31 L1363.48 361.32 L1364.15 361.34 L1364.82 361.35 L1365.49 361.37 L1366.16 361.38 L1366.83 361.39 L1367.5 361.41 L1368.18 361.42 L1368.85 361.43 L1369.52 361.44 L1370.19 361.46 L1370.86 361.47 L1371.53 361.48 L1372.2 361.49 L1372.87 361.5 L1373.54 361.51 L1374.21 361.52 L1374.88 361.54 L1375.55 361.55 L1376.22 361.56 L1376.89 361.57 L1377.56 361.58 L1378.23 361.59 L1378.9 361.6 L1379.57 361.62 L1380.24 361.63 L1380.91 361.64 L1381.58 361.66 L1382.25 361.67 L1382.92 361.68 L1383.6 361.7 L1384.27 361.71 L1384.94 361.73 L1385.61 361.74 L1386.28 361.76 L1386.95 361.77 L1387.62 361.79 L1388.29 361.81 L1388.96 361.83 L1389.63 361.85 L1390.3 361.87 L1390.97 361.89 L1391.64 361.91 L1392.31 361.93 L1392.98 361.95 L1393.65 361.97 L1394.32 361.99 L1394.99 362.01 L1395.66 362.04 L1396.33 362.06 L1397 362.08 L1397.67 362.1 L1398.35 362.13 L1399.02 362.15 L1399.69 362.18 L1400.36 362.2 L1401.03 362.22 L1401.7 362.25 L1402.37 362.27 L1403.04 362.3 L1403.71 362.32 L1404.38 362.35 L1405.05 362.38 L1405.72 362.4 L1406.39 362.43 L1407.06 362.45 L1407.73 362.48 L1408.4 362.51 L1409.07 362.53 L1409.74 362.56 L1410.41 362.59 L1411.08 362.61 L1411.75 362.64 L1412.42 362.67 L1413.09 362.7 L1413.77 362.72 L1414.44 362.75 L1415.11 362.78 L1415.78 362.81 L1416.45 362.84 L1417.12 362.86 L1417.79 362.89 L1418.46 362.92 L1419.13 362.95 L1419.8 362.98 L1420.47 363 L1421.14 363.03 L1421.81 363.06 L1422.48 363.09 L1423.15 363.12 L1423.82 363.15 L1424.49 363.17 L1425.16 363.2 L1425.83 363.23 L1426.5 363.26 L1427.17 363.29 L1427.84 363.32 L1428.51 363.34 L1429.19 363.37 L1429.86 363.4 L1430.53 363.43 L1431.2 363.46 L1431.87 363.48 L1432.54 363.51 L1433.21 363.54 L1433.88 363.57 L1434.55 363.59 L1435.22 363.62 L1435.89 363.65 L1436.56 363.68 L1437.23 363.7 L1437.9 363.73 L1438.57 363.76 L1439.24 363.78 L1439.91 363.81 L1440.58 363.84 L1441.25 363.86 L1441.92 363.89 L1442.59 363.92 L1443.26 363.94 L1443.93 363.97 L1444.61 364 L1445.28 364.02 L1445.95 364.05 L1446.62 364.08 L1447.29 364.1 L1447.96 364.13 L1448.63 364.15 L1449.3 364.18 L1449.97 364.21 L1450.64 364.23 L1451.31 364.26 L1451.98 364.29 L1452.65 364.31 L1453.32 364.34 L1453.99 364.36 L1454.66 364.39 L1455.33 364.42 L1456 364.44 L1456.67 364.47 L1457.34 364.5 L1458.01 364.52 L1458.68 364.55 L1459.35 364.58 L1460.03 364.6 L1460.7 364.63 L1461.37 364.65 L1462.04 364.68 L1462.71 364.71 L1463.38 364.73 L1464.05 364.76 L1464.72 364.79 L1465.39 364.81 L1466.06 364.84 L1466.73 364.86 L1467.4 364.89 L1468.07 364.92 L1468.74 364.94 L1469.41 364.97 L1470.08 365 L1470.75 365.02 L1471.42 365.05 L1472.09 365.08 L1472.76 365.1 L1473.43 365.13 L1474.1 365.15 L1474.77 365.18 L1475.45 365.21 L1476.12 365.23 L1476.79 365.26 L1477.46 365.29 L1478.13 365.31 L1478.8 365.34 L1479.47 365.36 L1480.14 365.39 L1480.81 365.42 L1481.48 365.44 L1482.15 365.47 L1482.82 365.5 L1483.49 365.52 L1484.16 365.55 L1484.83 365.57 L1485.5 365.6 L1486.17 365.62 L1486.84 365.65 L1487.51 365.67 L1488.18 365.69 L1488.85 365.71 L1489.52 365.73 L1490.2 365.75" stroke="#c9161d" stroke-width="3.4" fill="none" stroke-linejoin="round" />
<path d="M1038.32 350.94 L1038.99 349.44 L1039.66 347.93 L1040.33 346.41 L1041 344.89 L1041.67 343.35 L1042.34 341.8 L1043.01 340.24 L1043.68 338.67 L1044.35 337.09 L1045.02 335.48 L1045.69 333.87 L1046.36 332.23 L1047.04 330.59 L1047.71 328.92 L1048.38 327.23 L1049.05 325.52 L1049.72 323.79 L1050.39 322.04 L1051.06 320.26 L1051.73 318.45 L1052.4 316.62 L1053.07 314.77 L1053.74 312.89 L1054.41 311 L1055.08 309.08 L1055.75 307.16 L1056.42 305.23 L1057.09 303.3 L1057.76 301.37 L1058.43 299.45 L1059.1 297.54 L1059.77 295.65 L1060.44 293.78 L1061.11 291.94 L1061.79 290.13 L1062.46 288.35 L1063.13 286.61 L1063.8 284.9 L1064.47 283.23 L1065.14 281.59 L1065.81 279.99 L1066.48 278.41 L1067.15 276.87 L1067.82 275.35 L1068.49 273.85 L1069.16 272.38 L1069.83 270.92 L1070.5 269.49 L1071.17 268.07 L1071.84 266.66 L1072.51 265.27 L1073.18 263.9 L1073.85 262.53 L1074.52 261.18 L1075.19 259.83 L1075.86 258.49 L1076.53 257.16 L1077.21 255.84 L1077.88 254.52 L1078.55 253.2 L1079.22 251.88 L1079.89 250.56 L1080.56 249.25 L1081.23 247.92 L1081.9 246.6 L1082.57 245.26 L1083.24 243.92 L1083.91 242.57 L1084.58 241.21 L1085.25 239.84 L1085.92 238.46 L1086.59 237.06 L1087.26 235.66 L1087.93 234.24 L1088.6 232.82 L1089.27 231.4 L1089.94 229.97 L1090.61 228.55 L1091.28 227.12 L1091.95 225.7 L1092.63 224.29 L1093.3 222.9 L1093.97 221.51 L1094.64 220.14 L1095.31 218.8 L1095.98 217.47 L1096.65 216.18 L1097.32 214.91 L1097.99 213.67 L1098.66 212.47 L1099.33 211.3 L1100 210.17 L1100.67 209.09 L1101.34 208.04 L1102.01 207.04 L1102.68 206.08 L1103.35 205.17 L1104.02 204.3 L1104.69 203.46 L1105.36 202.67 L1106.03 201.9 L1106.7 201.17 L1107.37 200.46 L1108.05 199.78 L1108.72 199.12 L1109.39 198.49 L1110.06 197.88 L1110.73 197.29 L1111.4 196.73 L1112.07 196.21 L1112.74 195.72 L1113.41 195.26 L1114.08 194.85 L1114.75 194.48 L1115.42 194.16 L1116.09 193.9 L1116.76 193.68 L1117.43 193.52 L1118.1 193.42 L1118.77 193.37 L1119.44 193.38 L1120.11 193.45 L1120.78 193.56 L1121.45 193.73 L1122.12 193.95 L1122.79 194.22 L1123.47 194.54 L1124.14 194.9 L1124.81 195.3 L1125.48 195.74 L1126.15 196.22 L1126.82 196.74 L1127.49 197.29 L1128.16 197.87 L1128.83 198.48 L1129.5 199.13 L1130.17 199.8 L1130.84 200.49 L1131.51 201.21 L1132.18 201.96 L1132.85 202.73 L1133.52 203.52 L1134.19 204.33 L1134.86 205.18 L1135.53 206.05 L1136.2 206.96 L1136.87 207.92 L1137.54 208.93 L1138.22 209.99 L1138.89 211.12 L1139.56 212.31 L1140.23 213.59 L1140.9 214.94 L1141.57 216.36 L1142.24 217.86 L1142.91 219.43 L1143.58 221.06 L1144.25 222.75 L1144.92 224.48 L1145.59 226.26 L1146.26 228.07 L1146.93 229.9 L1147.6 231.76 L1148.27 233.64 L1148.94 235.54 L1149.61 237.46 L1150.28 239.4 L1150.95 241.38 L1151.62 243.39 L1152.29 245.44 L1152.96 247.54 L1153.64 249.68 L1154.31 251.86 L1154.98 254.09 L1155.65 256.34 L1156.32 258.62 L1156.99 260.9 L1157.66 263.19 L1158.33 265.45 L1159 267.68 L1159.67 269.85 L1160.34 271.97 L1161.01 274 L1161.68 275.93 L1162.35 277.74 L1163.02 279.43 L1163.69 280.97 L1164.36 282.37 L1165.03 283.6 L1165.7 284.66 L1166.37 285.55 L1167.04 286.27 L1167.71 286.83 L1168.38 287.23 L1169.06 287.49 L1169.73 287.61 L1170.4 287.61 L1171.07 287.51 L1171.74 287.31 L1172.41 287.03 L1173.08 286.68 L1173.75 286.26 L1174.42 285.79 L1175.09 285.27 L1175.76 284.71 L1176.43 284.1 L1177.1 283.46 L1177.77 282.79 L1178.44 282.08 L1179.11 281.35 L1179.78 280.6 L1180.45 279.83 L1181.12 279.04 L1181.79 278.24 L1182.46 277.44 L1183.13 276.62 L1183.8 275.81 L1184.48 274.99 L1185.15 274.18 L1185.82 273.38 L1186.49 272.59 L1187.16 271.81 L1187.83 271.05 L1188.5 270.31 L1189.17 269.59 L1189.84 268.9 L1190.51 268.24 L1191.18 267.62 L1191.85 267.03 L1192.52 266.49 L1193.19 265.98 L1193.86 265.53 L1194.53 265.12 L1195.2 264.77 L1195.87 264.47 L1196.54 264.23 L1197.21 264.04 L1197.88 263.92 L1198.55 263.85 L1199.22 263.85 L1199.9 263.9 L1200.57 264.01 L1201.24 264.18 L1201.91 264.41 L1202.58 264.68 L1203.25 265.01 L1203.92 265.38 L1204.59 265.8 L1205.26 266.26 L1205.93 266.76 L1206.6 267.29 L1207.27 267.87 L1207.94 268.47 L1208.61 269.1 L1209.28 269.75 L1209.95 270.43 L1210.62 271.13 L1211.29 271.85 L1211.96 272.58 L1212.63 273.32 L1213.3 274.07 L1213.97 274.83 L1214.64 275.59 L1215.32 276.36 L1215.99 277.12 L1216.66 277.89 L1217.33 278.65 L1218 279.41 L1218.67 280.16 L1219.34 280.92 L1220.01 281.68 L1220.68 282.44 L1221.35 283.21 L1222.02 283.99 L1222.69 284.79 L1223.36 285.61 L1224.03 286.44 L1224.7 287.3 L1225.37 288.18 L1226.04 289.09 L1226.71 290.01 L1227.38 290.95 L1228.05 291.91 L1228.72 292.89 L1229.39 293.87 L1230.07 294.87 L1230.74 295.86 L1231.41 296.86 L1232.08 297.85 L1232.75 298.84 L1233.42 299.81 L1234.09 300.77 L1234.76 301.72 L1235.43 302.64 L1236.1 303.54 L1236.77 304.41 L1237.44 305.25 L1238.11 306.05 L1238.78 306.82 L1239.45 307.54 L1240.12 308.22 L1240.79 308.85 L1241.46 309.42 L1242.13 309.94 L1242.8 310.41 L1243.47 310.81 L1244.14 311.15 L1244.81 311.44 L1245.49 311.66 L1246.16 311.82 L1246.83 311.92 L1247.5 311.97 L1248.17 311.97 L1248.84 311.91 L1249.51 311.81 L1250.18 311.67 L1250.85 311.5 L1251.52 311.29 L1252.19 311.04 L1252.86 310.77 L1253.53 310.48 L1254.2 310.17 L1254.87 309.83 L1255.54 309.49 L1256.21 309.12 L1256.88 308.75 L1257.55 308.37 L1258.22 307.99 L1258.89 307.6 L1259.56 307.21 L1260.23 306.83 L1260.91 306.45 L1261.58 306.07 L1262.25 305.71 L1262.92 305.36 L1263.59 305.03 L1264.26 304.71 L1264.93 304.42 L1265.6 304.15 L1266.27 303.91 L1266.94 303.7 L1267.61 303.53 L1268.28 303.39 L1268.95 303.3 L1269.62 303.25 L1270.29 303.26 L1270.96 303.32 L1271.63 303.44 L1272.3 303.62 L1272.97 303.87 L1273.64 304.18 L1274.31 304.57 L1274.98 305.02 L1275.65 305.53 L1276.33 306.11 L1277 306.75 L1277.67 307.45 L1278.34 308.2 L1279.01 309 L1279.68 309.84 L1280.35 310.73 L1281.02 311.66 L1281.69 312.63 L1282.36 313.62 L1283.03 314.64 L1283.7 315.68 L1284.37 316.75 L1285.04 317.82 L1285.71 318.91 L1286.38 320 L1287.05 321.1 L1287.72 322.2 L1288.39 323.29 L1289.06 324.37 L1289.73 325.43 L1290.4 326.48 L1291.07 327.51 L1291.75 328.51 L1292.42 329.49 L1293.09 330.44 L1293.76 331.35 L1294.43 332.23 L1295.1 333.07 L1295.77 333.88 L1296.44 334.66 L1297.11 335.4 L1297.78 336.12 L1298.45 336.81 L1299.12 337.48 L1299.79 338.13 L1300.46 338.77 L1301.13 339.39 L1301.8 340.01 L1302.47 340.61 L1303.14 341.21 L1303.81 341.81 L1304.48 342.4 L1305.15 342.98 L1305.82 343.56 L1306.49 344.13 L1307.17 344.69 L1307.84 345.25 L1308.51 345.8 L1309.18 346.35 L1309.85 346.88 L1310.52 347.41 L1311.19 347.92 L1311.86 348.43 L1312.53 348.93 L1313.2 349.42 L1313.87 349.89 L1314.54 350.36 L1315.21 350.81 L1315.88 351.26 L1316.55 351.69 L1317.22 352.1 L1317.89 352.51 L1318.56 352.9 L1319.23 353.27 L1319.9 353.63 L1320.57 353.98 L1321.24 354.31 L1321.92 354.63 L1322.59 354.94 L1323.26 355.23 L1323.93 355.51 L1324.6 355.78 L1325.27 356.04 L1325.94 356.29 L1326.61 356.54 L1327.28 356.77 L1327.95 357 L1328.62 357.22 L1329.29 357.44 L1329.96 357.66 L1330.63 357.87 L1331.3 358.08 L1331.97 358.28 L1332.64 358.48 L1333.31 358.67 L1333.98 358.86 L1334.65 359.05 L1335.32 359.23 L1335.99 359.4 L1336.66 359.58 L1337.34 359.74 L1338.01 359.9 L1338.68 360.06 L1339.35 360.21 L1340.02 360.36 L1340.69 360.5 L1341.36 360.63 L1342.03 360.76 L1342.7 360.88 L1343.37 361 L1344.04 361.11 L1344.71 361.21 L1345.38 361.31 L1346.05 361.4 L1346.72 361.49 L1347.39 361.57 L1348.06 361.64 L1348.73 361.71 L1349.4 361.77 L1350.07 361.83 L1350.74 361.89 L1351.41 361.94 L1352.08 361.99 L1352.76 362.03 L1353.43 362.08 L1354.1 362.12 L1354.77 362.16 L1355.44 362.2 L1356.11 362.24 L1356.78 362.27 L1357.45 362.31 L1358.12 362.35 L1358.79 362.38 L1359.46 362.41 L1360.13 362.44 L1360.8 362.48 L1361.47 362.51 L1362.14 362.54 L1362.81 362.56 L1363.48 362.59 L1364.15 362.62 L1364.82 362.65 L1365.49 362.67 L1366.16 362.7 L1366.83 362.72 L1367.5 362.75 L1368.18 362.77 L1368.85 362.8 L1369.52 362.82 L1370.19 362.84 L1370.86 362.86 L1371.53 362.88 L1372.2 362.91 L1372.87 362.93 L1373.54 362.95 L1374.21 362.97 L1374.88 362.99 L1375.55 363.01 L1376.22 363.03 L1376.89 363.05 L1377.56 363.07 L1378.23 363.09 L1378.9 363.1 L1379.57 363.12 L1380.24 363.14 L1380.91 363.16 L1381.58 363.18 L1382.25 363.2 L1382.92 363.22 L1383.6 363.24 L1384.27 363.26 L1384.94 363.28 L1385.61 363.3 L1386.28 363.32 L1386.95 363.34 L1387.62 363.36 L1388.29 363.38 L1388.96 363.4 L1389.63 363.42 L1390.3 363.44 L1390.97 363.46 L1391.64 363.48 L1392.31 363.51 L1392.98 363.53 L1393.65 363.55 L1394.32 363.57 L1394.99 363.59 L1395.66 363.61 L1396.33 363.63 L1397 363.65 L1397.67 363.67 L1398.35 363.69 L1399.02 363.71 L1399.69 363.73 L1400.36 363.76 L1401.03 363.78 L1401.7 363.8 L1402.37 363.82 L1403.04 363.84 L1403.71 363.86 L1404.38 363.88 L1405.05 363.9 L1405.72 363.92 L1406.39 363.93 L1407.06 363.95 L1407.73 363.97 L1408.4 363.99 L1409.07 364.01 L1409.74 364.03 L1410.41 364.05 L1411.08 364.07 L1411.75 364.09 L1412.42 364.11 L1413.09 364.13 L1413.77 364.14 L1414.44 364.16 L1415.11 364.18 L1415.78 364.2 L1416.45 364.22 L1417.12 364.24 L1417.79 364.25 L1418.46 364.27 L1419.13 364.29 L1419.8 364.31 L1420.47 364.32 L1421.14 364.34 L1421.81 364.36 L1422.48 364.38 L1423.15 364.39 L1423.82 364.41 L1424.49 364.43 L1425.16 364.45 L1425.83 364.46 L1426.5 364.48 L1427.17 364.5 L1427.84 364.51 L1428.51 364.53 L1429.19 364.55 L1429.86 364.56 L1430.53 364.58 L1431.2 364.6 L1431.87 364.61 L1432.54 364.63 L1433.21 364.65 L1433.88 364.66 L1434.55 364.68 L1435.22 364.69 L1435.89 364.71 L1436.56 364.73 L1437.23 364.74 L1437.9 364.76 L1438.57 364.77 L1439.24 364.79 L1439.91 364.8 L1440.58 364.82 L1441.25 364.83 L1441.92 364.85 L1442.59 364.87 L1443.26 364.88 L1443.93 364.9 L1444.61 364.91 L1445.28 364.93 L1445.95 364.94 L1446.62 364.96 L1447.29 364.97 L1447.96 364.99 L1448.63 365 L1449.3 365.01 L1449.97 365.03 L1450.64 365.04 L1451.31 365.06 L1451.98 365.07 L1452.65 365.09 L1453.32 365.1 L1453.99 365.12 L1454.66 365.13 L1455.33 365.14 L1456 365.16 L1456.67 365.17 L1457.34 365.19 L1458.01 365.2 L1458.68 365.21 L1459.35 365.23 L1460.03 365.24 L1460.7 365.26 L1461.37 365.27 L1462.04 365.28 L1462.71 365.3 L1463.38 365.31 L1464.05 365.32 L1464.72 365.34 L1465.39 365.35 L1466.06 365.36 L1466.73 365.38 L1467.4 365.39 L1468.07 365.4 L1468.74 365.42 L1469.41 365.43 L1470.08 365.44 L1470.75 365.45 L1471.42 365.47 L1472.09 365.48 L1472.76 365.49 L1473.43 365.51 L1474.1 365.52 L1474.77 365.53 L1475.45 365.54 L1476.12 365.55 L1476.79 365.57 L1477.46 365.58 L1478.13 365.59 L1478.8 365.6 L1479.47 365.61 L1480.14 365.63 L1480.81 365.64 L1481.48 365.65 L1482.15 365.66 L1482.82 365.67 L1483.49 365.68 L1484.16 365.69 L1484.83 365.71 L1485.5 365.72 L1486.17 365.73 L1486.84 365.74 L1487.51 365.75 L1488.18 365.76 L1488.85 365.76 L1489.52 365.77 L1490.2 365.78" stroke="#c9161d" stroke-width="3.4" fill="none" stroke-linejoin="round" stroke-dasharray="15 5 3 5"/>
</g>
<path d="M1251 43.9H1271" stroke="#c9161d" stroke-width="3.6" stroke-dasharray="8 2 3.5 2"/>
<text x="1282.5" y="49.7" font-size="16">Nb<tspan font-size="10.5" dy="4.5">0.875</tspan><tspan dy="-4.5">Hf</tspan><tspan font-size="10.5" dy="4.5">0.125</tspan><tspan dy="-4.5">FeSb</tspan></text>
<text x="1240.5" y="49.7" font-size="16" text-anchor="end">pp + ep</text>
<path d="M1251 74.8H1271" stroke="#999999" stroke-width="3.8"/>
<text x="1282.5" y="80.6" font-size="16">NbFeSb</text>
<text x="1240.5" y="80.6" font-size="16" text-anchor="end">pp</text>
<path d="M1251 105.5H1271" stroke="#2166ac" stroke-width="3.8"/>
<text x="1282.5" y="111.3" font-size="16">Nb<tspan font-size="10.5" dy="4.5">0.875</tspan><tspan dy="-4.5">Ta</tspan><tspan font-size="10.5" dy="4.5">0.125</tspan><tspan dy="-4.5">FeSb</tspan></text>
<path d="M1251 135.8H1271" stroke="#c9161d" stroke-width="3.8"/>
<text x="1282.5" y="141.6" font-size="16">Nb<tspan font-size="10.5" dy="4.5">0.875</tspan><tspan dy="-4.5">Hf</tspan><tspan font-size="10.5" dy="4.5">0.125</tspan><tspan dy="-4.5">FeSb</tspan></text>
<path d="M1251 166.6H1271" stroke="#f9694a" stroke-width="3.8"/>
<text x="1282.5" y="172.4" font-size="16">Nb<tspan font-size="10.5" dy="4.5">0.875</tspan><tspan dy="-4.5">Zr</tspan><tspan font-size="10.5" dy="4.5">0.125</tspan><tspan dy="-4.5">FeSb</tspan></text>
<text x="1359" y="294.6" font-size="16" text-anchor="start">@300 K</text>
<text x="444" y="442" font-size="26" text-anchor="start" font-weight="bold">d</text>
<rect x="584.5" y="508.5" width="42.1" height="282.5" fill="#999999" stroke="#c8c8c8" stroke-width="0.6"/>
<rect x="626.6" y="594.95" width="39.7" height="196.05" fill="#2166ac" stroke="#c8c8c8" stroke-width="0.6"/>
<rect x="666.3" y="619.16" width="42" height="171.84" fill="#c9161d" stroke="#c8c8c8" stroke-width="0.6"/>
<rect x="708.3" y="576.06" width="40.8" height="214.94" fill="#f9694a" stroke="#c8c8c8" stroke-width="0.6"/>
<rect x="913.1" y="508.5" width="42.7" height="282.5" fill="#999999" stroke="#c8c8c8" stroke-width="0.6"/>
<rect x="955.8" y="520.55" width="40.6" height="270.45" fill="#2166ac" stroke="#c8c8c8" stroke-width="0.6"/>
<rect x="996.4" y="538.74" width="40.8" height="252.26" fill="#c9161d" stroke="#c8c8c8" stroke-width="0.6"/>
<rect x="1037.2" y="542.4" width="41.3" height="248.6" fill="#f9694a" stroke="#c8c8c8" stroke-width="0.6"/>
<rect x="1243.2" y="508.5" width="41.3" height="282.5" fill="#999999" stroke="#c8c8c8" stroke-width="0.6"/>
<rect x="1284.5" y="613.38" width="41" height="177.62" fill="#2166ac" stroke="#c8c8c8" stroke-width="0.6"/>
<rect x="1325.5" y="627.43" width="41.7" height="163.57" fill="#c9161d" stroke="#c8c8c8" stroke-width="0.6"/>
<rect x="1367.2" y="587.28" width="40.3" height="203.72" fill="#f9694a" stroke="#c8c8c8" stroke-width="0.6"/>
<rect x="502.6" y="436.6" width="987.9" height="354.4" fill="none" stroke="#000" stroke-width="1.2"/>
<text x="492.5" y="797.6" font-size="16.5" text-anchor="end">0</text>
<text x="492.5" y="679.5" font-size="16.5" text-anchor="end">10</text>
<text x="492.5" y="561.4" font-size="16.5" text-anchor="end">20</text>
<text x="492.5" y="443.3" font-size="16.5" text-anchor="end">30</text>
<path d="M502.6 672.9h5 M502.6 554.8h5" stroke="#000" stroke-width="1.1" fill="none"/>
<text transform="translate(461.3,614.7) rotate(-90)" font-size="18.4" text-anchor="middle"><tspan font-style="italic">κ</tspan><tspan font-size="12" dy="4">L</tspan><tspan dy="-4"> (W m</tspan><tspan font-size="12" dy="-7">−1</tspan><tspan dy="7"> K</tspan><tspan font-size="12" dy="-7">−1</tspan><tspan dy="7">)</tspan></text>
<rect x="531.2" y="459.3" width="43.5" height="21.3" fill="#999999" stroke="#c8c8c8" stroke-width="0.6"/>
<text x="586.2" y="476" font-size="16">NbFeSb</text>
<rect x="674.1" y="459.3" width="43.5" height="21.3" fill="#2166ac" stroke="#c8c8c8" stroke-width="0.6"/>
<text x="729.1" y="476" font-size="16">Nb<tspan font-size="10.5" dy="4.5">0.875</tspan><tspan dy="-4.5">Ta</tspan><tspan font-size="10.5" dy="4.5">0.125</tspan><tspan dy="-4.5">FeSb</tspan></text>
<rect x="888.5" y="459.3" width="43.5" height="21.3" fill="#c9161d" stroke="#c8c8c8" stroke-width="0.6"/>
<text x="943.5" y="476" font-size="16">Nb<tspan font-size="10.5" dy="4.5">0.875</tspan><tspan dy="-4.5">Hf</tspan><tspan font-size="10.5" dy="4.5">0.125</tspan><tspan dy="-4.5">FeSb</tspan></text>
<rect x="1102.2" y="459.3" width="43.5" height="21.3" fill="#f9694a" stroke="#c8c8c8" stroke-width="0.6"/>
<text x="1157.2" y="476" font-size="16">Nb<tspan font-size="10.5" dy="4.5">0.875</tspan><tspan dy="-4.5">Zr</tspan><tspan font-size="10.5" dy="4.5">0.125</tspan><tspan dy="-4.5">FeSb</tspan></text>
<text x="1381.4" y="473.5" font-size="16" text-anchor="start">@300 K</text>
<text x="671" y="814.7" font-size="19.5" text-anchor="middle">Considering both</text>
<text x="671.5" y="837.7" font-size="19.5" text-anchor="middle">changes in <tspan font-style="italic">v</tspan><tspan font-size="13" dy="5">g</tspan><tspan dy="-5"> and </tspan><tspan font-style="italic">τ</tspan> (i)</text>
<text x="993.2" y="826" font-size="19.5" text-anchor="middle">Only changing <tspan font-style="italic">τ</tspan> (ii)</text>
<text x="1330.5" y="826" font-size="19.5" text-anchor="middle">Only changing <tspan font-style="italic">v</tspan><tspan font-size="13" dy="5">g</tspan><tspan dy="-5"> (iii)</tspan></text>
</svg></body></html>
